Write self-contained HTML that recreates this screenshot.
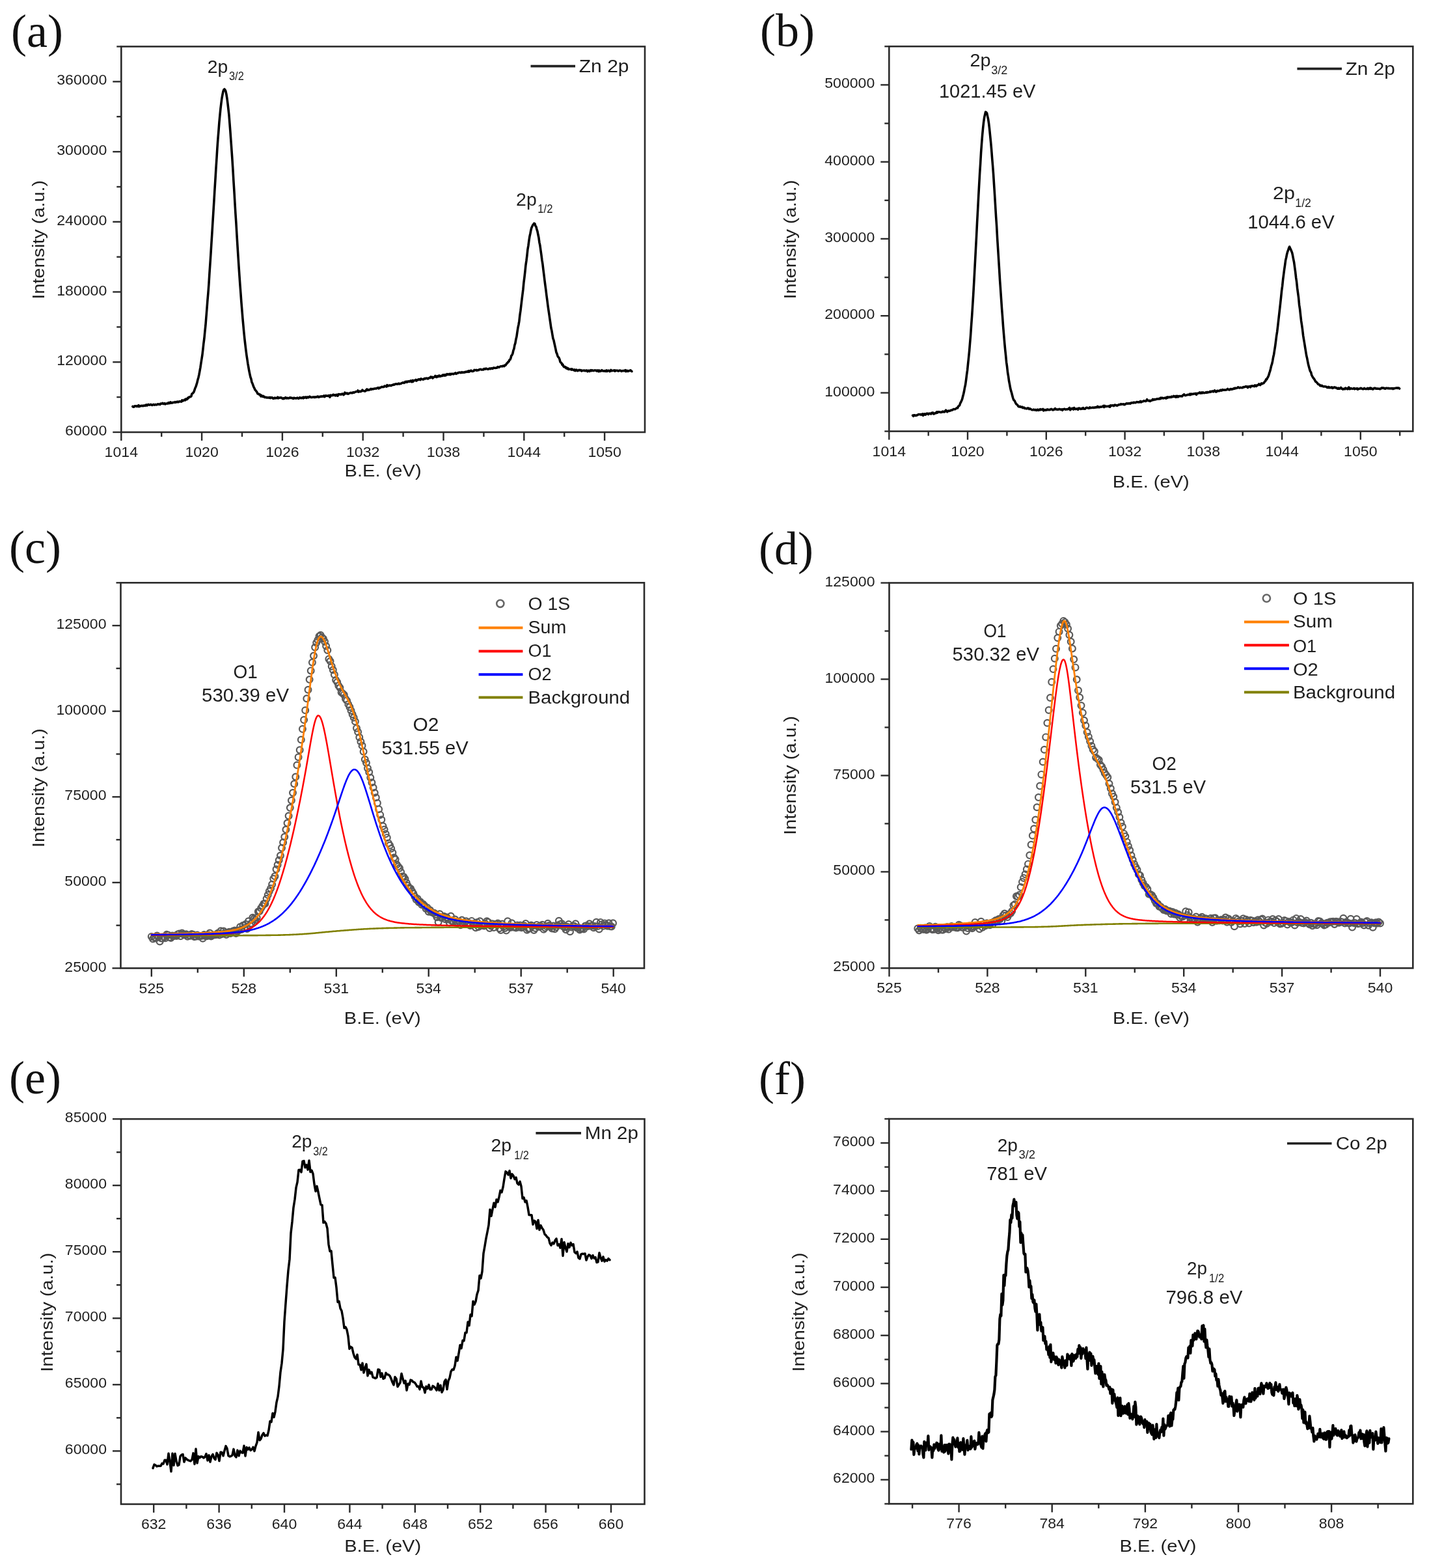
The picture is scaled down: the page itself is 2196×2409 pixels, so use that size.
<!DOCTYPE html>
<html><head><meta charset="utf-8"><style>
html,body{margin:0;padding:0;background:#fff;}
svg{display:block;}
text{font-family:"Liberation Sans",Arial,sans-serif;}
text.serif{font-family:"Liberation Serif","Times New Roman",serif;}
</style></head><body>
<svg xmlns="http://www.w3.org/2000/svg" width="2196" height="2409" viewBox="0 0 2196 2409">
<rect width="2196" height="2409" fill="#fff"/>
<rect x="186.3" y="71.5" width="804.7" height="592.5" fill="none" stroke="#2a2a2a" stroke-width="2.6"/>
<line x1="248.2" y1="664" x2="248.2" y2="671" stroke="#2a2a2a" stroke-width="2.4"/>
<line x1="372" y1="664" x2="372" y2="671" stroke="#2a2a2a" stroke-width="2.4"/>
<line x1="495.8" y1="664" x2="495.8" y2="671" stroke="#2a2a2a" stroke-width="2.4"/>
<line x1="619.6" y1="664" x2="619.6" y2="671" stroke="#2a2a2a" stroke-width="2.4"/>
<line x1="743.4" y1="664" x2="743.4" y2="671" stroke="#2a2a2a" stroke-width="2.4"/>
<line x1="867.2" y1="664" x2="867.2" y2="671" stroke="#2a2a2a" stroke-width="2.4"/>
<line x1="186.3" y1="664" x2="186.3" y2="677" stroke="#2a2a2a" stroke-width="2.4"/>
<text x="186.3" y="702" font-size="22" text-anchor="middle" textLength="51.4" lengthAdjust="spacingAndGlyphs" fill="#1e1e1e">1014</text>
<line x1="310.1" y1="664" x2="310.1" y2="677" stroke="#2a2a2a" stroke-width="2.4"/>
<text x="310.1" y="702" font-size="22" text-anchor="middle" textLength="51.4" lengthAdjust="spacingAndGlyphs" fill="#1e1e1e">1020</text>
<line x1="433.9" y1="664" x2="433.9" y2="677" stroke="#2a2a2a" stroke-width="2.4"/>
<text x="433.9" y="702" font-size="22" text-anchor="middle" textLength="51.4" lengthAdjust="spacingAndGlyphs" fill="#1e1e1e">1026</text>
<line x1="557.7" y1="664" x2="557.7" y2="677" stroke="#2a2a2a" stroke-width="2.4"/>
<text x="557.7" y="702" font-size="22" text-anchor="middle" textLength="51.4" lengthAdjust="spacingAndGlyphs" fill="#1e1e1e">1032</text>
<line x1="681.5" y1="664" x2="681.5" y2="677" stroke="#2a2a2a" stroke-width="2.4"/>
<text x="681.5" y="702" font-size="22" text-anchor="middle" textLength="51.4" lengthAdjust="spacingAndGlyphs" fill="#1e1e1e">1038</text>
<line x1="805.3" y1="664" x2="805.3" y2="677" stroke="#2a2a2a" stroke-width="2.4"/>
<text x="805.3" y="702" font-size="22" text-anchor="middle" textLength="51.4" lengthAdjust="spacingAndGlyphs" fill="#1e1e1e">1044</text>
<line x1="929.1" y1="664" x2="929.1" y2="677" stroke="#2a2a2a" stroke-width="2.4"/>
<text x="929.1" y="702" font-size="22" text-anchor="middle" textLength="51.4" lengthAdjust="spacingAndGlyphs" fill="#1e1e1e">1050</text>
<line x1="179.3" y1="610.1" x2="186.3" y2="610.1" stroke="#2a2a2a" stroke-width="2.4"/>
<line x1="179.3" y1="502.4" x2="186.3" y2="502.4" stroke="#2a2a2a" stroke-width="2.4"/>
<line x1="179.3" y1="394.7" x2="186.3" y2="394.7" stroke="#2a2a2a" stroke-width="2.4"/>
<line x1="179.3" y1="287" x2="186.3" y2="287" stroke="#2a2a2a" stroke-width="2.4"/>
<line x1="179.3" y1="179.2" x2="186.3" y2="179.2" stroke="#2a2a2a" stroke-width="2.4"/>
<line x1="179.3" y1="71.5" x2="186.3" y2="71.5" stroke="#2a2a2a" stroke-width="2.4"/>
<line x1="173.3" y1="664" x2="186.3" y2="664" stroke="#2a2a2a" stroke-width="2.4"/>
<text x="164.3" y="669" font-size="22" text-anchor="end" textLength="64.2" lengthAdjust="spacingAndGlyphs" fill="#1e1e1e">60000</text>
<line x1="173.3" y1="556.3" x2="186.3" y2="556.3" stroke="#2a2a2a" stroke-width="2.4"/>
<text x="164.3" y="561.3" font-size="22" text-anchor="end" textLength="77.1" lengthAdjust="spacingAndGlyphs" fill="#1e1e1e">120000</text>
<line x1="173.3" y1="448.5" x2="186.3" y2="448.5" stroke="#2a2a2a" stroke-width="2.4"/>
<text x="164.3" y="453.5" font-size="22" text-anchor="end" textLength="77.1" lengthAdjust="spacingAndGlyphs" fill="#1e1e1e">180000</text>
<line x1="173.3" y1="340.8" x2="186.3" y2="340.8" stroke="#2a2a2a" stroke-width="2.4"/>
<text x="164.3" y="345.8" font-size="22" text-anchor="end" textLength="77.1" lengthAdjust="spacingAndGlyphs" fill="#1e1e1e">240000</text>
<line x1="173.3" y1="233.1" x2="186.3" y2="233.1" stroke="#2a2a2a" stroke-width="2.4"/>
<text x="164.3" y="238.1" font-size="22" text-anchor="end" textLength="77.1" lengthAdjust="spacingAndGlyphs" fill="#1e1e1e">300000</text>
<line x1="173.3" y1="125.4" x2="186.3" y2="125.4" stroke="#2a2a2a" stroke-width="2.4"/>
<text x="164.3" y="130.4" font-size="22" text-anchor="end" textLength="77.1" lengthAdjust="spacingAndGlyphs" fill="#1e1e1e">360000</text>
<polyline points="203.9,624.5 204.9,625.2 205.9,625.1 206.9,623.9 207.9,624.0 208.9,623.8 209.9,624.4 210.9,623.9 211.9,624.3 212.9,622.7 213.9,624.6 214.9,623.6 215.9,624.0 216.9,623.4 217.9,623.2 218.9,623.6 219.9,623.7 220.9,623.0 221.9,623.0 222.9,623.4 223.9,622.4 224.9,621.9 225.9,623.0 226.9,622.2 227.9,621.4 228.9,622.0 229.9,622.1 230.9,621.6 231.9,621.3 232.9,622.1 233.9,622.5 234.9,621.8 235.9,621.4 236.9,622.0 237.9,622.1 238.9,621.4 239.9,621.8 240.9,622.0 241.9,621.1 242.9,620.7 243.9,621.3 244.9,621.1 245.9,621.5 246.9,620.0 247.9,620.2 248.9,620.0 249.9,619.4 250.9,620.4 251.9,620.5 252.9,619.6 253.9,620.8 254.9,620.3 255.9,620.1 256.9,619.9 257.9,620.1 258.9,618.6 259.9,619.6 260.9,619.5 261.9,617.9 262.9,619.1 263.9,618.6 264.9,619.0 265.9,618.2 266.9,618.3 267.9,618.3 268.9,617.5 269.9,618.2 270.9,617.6 271.9,617.8 272.9,617.0 273.9,617.8 274.9,617.3 275.9,616.6 276.9,616.9 277.9,617.0 278.9,617.1 279.9,614.8 280.9,616.0 281.9,615.5 282.9,614.8 283.9,613.9 284.9,614.8 285.9,612.9 286.9,613.5 287.9,613.4 288.9,611.0 289.9,611.1 290.9,609.7 291.9,609.7 292.9,609.5 293.9,608.7 294.9,605.1 295.9,604.3 296.9,603.5 297.9,602.1 298.9,599.3 299.9,596.3 300.9,594.3 301.9,591.1 302.9,587.7 303.9,583.6 304.9,580.2 305.9,575.6 306.9,570.3 307.9,564.7 308.9,557.9 309.9,551.7 310.9,545.4 311.9,536.7 312.9,527.4 313.9,519.8 314.9,509.4 315.9,499.8 316.9,487.2 317.9,474.9 318.9,461.7 319.9,450.1 320.9,436.9 321.9,420.4 322.9,405.5 323.9,390.7 324.9,374.0 325.9,358.1 326.9,341.6 327.9,325.3 328.9,309.2 329.9,292.0 330.9,276.2 331.9,259.3 332.9,244.1 333.9,227.6 334.9,213.7 335.9,201.5 336.9,188.2 337.9,177.5 338.9,167.3 339.9,158.9 340.9,151.3 341.9,145.6 342.9,140.7 343.9,137.9 344.9,137.0 345.9,138.1 346.9,140.3 347.9,144.9 348.9,151.1 349.9,158.7 350.9,167.2 351.9,176.4 352.9,189.0 353.9,201.8 354.9,215.9 355.9,230.0 356.9,244.4 357.9,260.1 358.9,277.9 359.9,293.7 360.9,311.0 361.9,328.0 362.9,342.9 363.9,360.2 364.9,376.6 365.9,392.6 366.9,408.1 367.9,423.0 368.9,437.5 369.9,450.3 370.9,464.4 371.9,476.6 372.9,489.0 373.9,499.8 374.9,510.9 375.9,520.7 376.9,529.5 377.9,537.8 378.9,545.4 379.9,552.1 380.9,558.7 381.9,564.4 382.9,570.2 383.9,574.8 384.9,579.4 385.9,582.2 386.9,586.9 387.9,589.0 388.9,591.8 389.9,594.5 390.9,596.4 391.9,598.8 392.9,599.9 393.9,601.1 394.9,602.5 395.9,604.9 396.9,605.1 397.9,605.2 398.9,606.6 399.9,606.3 400.9,608.9 401.9,607.4 402.9,609.0 403.9,609.4 404.9,608.5 405.9,609.8 406.9,610.5 407.9,610.4 408.9,610.4 409.9,611.0 410.9,610.7 411.9,610.9 412.9,610.7 413.9,611.3 414.9,610.5 415.9,611.6 416.9,610.9 417.9,610.6 418.9,611.5 419.9,612.4 420.9,612.0 421.9,611.2 422.9,611.9 423.9,611.3 424.9,611.5 425.9,611.7 426.9,610.2 427.9,611.8 428.9,611.1 429.9,611.3 430.9,610.8 431.9,610.8 432.9,611.2 433.9,612.2 434.9,612.7 435.9,611.7 436.9,612.4 437.9,611.6 438.9,610.6 439.9,611.8 440.9,612.0 441.9,611.4 442.9,611.8 443.9,612.0 444.9,611.1 445.9,610.7 446.9,611.5 447.9,611.4 448.9,611.3 449.9,612.1 450.9,612.5 451.9,611.2 452.9,611.8 453.9,611.9 454.9,611.8 455.9,611.9 456.9,611.0 457.9,611.7 458.9,612.4 459.9,611.6 460.9,610.7 461.9,611.4 462.9,611.8 463.9,611.2 464.9,610.6 465.9,611.8 466.9,610.1 467.9,611.1 468.9,610.7 469.9,610.0 470.9,611.4 471.9,610.8 472.9,609.8 473.9,610.8 474.9,610.2 475.9,609.2 476.9,609.9 477.9,610.4 478.9,610.6 479.9,610.2 480.9,610.1 481.9,610.3 482.9,609.8 483.9,610.6 484.9,609.9 485.9,610.0 486.9,610.0 487.9,609.0 488.9,609.2 489.9,610.4 490.9,609.7 491.9,609.2 492.9,609.5 493.9,608.9 494.9,609.3 495.9,608.7 496.9,609.1 497.9,607.9 498.9,609.6 499.9,608.4 500.9,607.6 501.9,608.3 502.9,608.2 503.9,608.4 504.9,607.5 505.9,608.3 506.9,610.1 507.9,607.1 508.9,607.9 509.9,607.4 510.9,607.6 511.9,606.2 512.9,606.5 513.9,607.4 514.9,606.9 515.9,607.8 516.9,606.3 517.9,606.7 518.9,608.2 519.9,605.8 520.9,605.6 521.9,606.0 522.9,605.8 523.9,606.2 524.9,605.6 525.9,605.0 526.9,605.4 527.9,606.7 528.9,605.7 529.9,603.2 530.9,604.6 531.9,604.0 532.9,604.7 533.9,604.1 534.9,605.2 535.9,604.5 536.9,604.3 537.9,603.7 538.9,603.4 539.9,603.5 540.9,603.9 541.9,603.3 542.9,602.6 543.9,603.4 544.9,602.6 545.9,602.3 546.9,601.7 547.9,601.7 548.9,601.5 549.9,600.0 550.9,602.2 551.9,601.7 552.9,601.1 553.9,601.7 554.9,601.2 555.9,601.0 556.9,599.1 557.9,600.3 558.9,600.5 559.9,601.0 560.9,601.0 561.9,600.6 562.9,598.8 563.9,598.0 564.9,599.5 565.9,599.0 566.9,599.4 567.9,598.5 568.9,598.5 569.9,597.3 570.9,598.3 571.9,597.5 572.9,597.8 573.9,597.7 574.9,597.1 575.9,597.2 576.9,596.8 577.9,597.1 578.9,596.7 579.9,595.9 580.9,595.6 581.9,596.8 582.9,595.5 583.9,596.0 584.9,595.4 585.9,594.6 586.9,594.3 587.9,594.6 588.9,594.5 589.9,594.5 590.9,593.1 591.9,593.3 592.9,593.4 593.9,594.2 594.9,591.6 595.9,593.1 596.9,592.3 597.9,592.7 598.9,591.9 599.9,592.2 600.9,592.7 601.9,591.8 602.9,591.6 603.9,591.4 604.9,590.5 605.9,591.1 606.9,590.4 607.9,589.9 608.9,590.1 609.9,589.8 610.9,590.2 611.9,589.5 612.9,589.0 613.9,590.0 614.9,589.5 615.9,589.5 616.9,588.9 617.9,588.3 618.9,587.9 619.9,587.8 620.9,588.4 621.9,587.7 622.9,586.5 623.9,587.2 624.9,586.2 625.9,587.0 626.9,585.9 627.9,585.7 628.9,586.4 629.9,586.0 630.9,584.9 631.9,586.2 632.9,586.8 633.9,584.4 634.9,586.2 635.9,584.5 636.9,584.5 637.9,584.5 638.9,583.5 639.9,585.0 640.9,584.3 641.9,583.4 642.9,583.5 643.9,582.5 644.9,583.0 645.9,583.6 646.9,581.9 647.9,582.4 648.9,582.6 649.9,583.0 650.9,582.9 651.9,581.7 652.9,581.3 653.9,581.9 654.9,581.2 655.9,581.0 656.9,581.7 657.9,581.9 658.9,580.8 659.9,580.4 660.9,580.6 661.9,579.0 662.9,579.9 663.9,579.1 664.9,581.0 665.9,579.8 666.9,579.3 667.9,578.9 668.9,577.4 669.9,579.1 670.9,579.5 671.9,577.9 672.9,578.6 673.9,578.4 674.9,576.9 675.9,578.2 676.9,578.3 677.9,577.5 678.9,577.1 679.9,577.5 680.9,575.9 681.9,576.7 682.9,577.1 683.9,575.6 684.9,576.8 685.9,575.8 686.9,574.6 687.9,575.6 688.9,574.9 689.9,575.5 690.9,574.5 691.9,575.7 692.9,574.4 693.9,574.9 694.9,574.2 695.9,574.2 696.9,574.9 697.9,574.2 698.9,573.7 699.9,573.0 700.9,574.3 701.9,573.9 702.9,573.1 703.9,573.2 704.9,572.3 705.9,572.2 706.9,572.1 707.9,572.7 708.9,572.5 709.9,571.7 710.9,572.4 711.9,572.3 712.9,571.8 713.9,572.2 714.9,571.2 715.9,571.2 716.9,571.4 717.9,570.9 718.9,571.3 719.9,569.9 720.9,571.3 721.9,569.9 722.9,570.1 723.9,569.2 724.9,570.3 725.9,570.5 726.9,570.2 727.9,570.0 728.9,568.4 729.9,568.7 730.9,568.8 731.9,568.3 732.9,569.4 733.9,568.7 734.9,568.5 735.9,568.6 736.9,567.6 737.9,567.5 738.9,567.4 739.9,568.1 740.9,567.9 741.9,567.9 742.9,568.0 743.9,566.5 744.9,566.8 745.9,567.1 746.9,566.1 747.9,566.4 748.9,567.2 749.9,567.2 750.9,567.0 751.9,566.3 752.9,566.0 753.9,566.7 754.9,565.7 755.9,566.0 756.9,566.5 757.9,565.3 758.9,565.1 759.9,565.3 760.9,565.5 761.9,565.3 762.9,565.0 763.9,565.1 764.9,563.6 765.9,563.9 766.9,564.4 767.9,563.5 768.9,563.0 769.9,562.8 770.9,562.7 771.9,562.9 772.9,562.0 773.9,562.3 774.9,562.7 775.9,561.0 776.9,561.2 777.9,559.8 778.9,558.1 779.9,557.6 780.9,555.9 781.9,555.6 782.9,552.9 783.9,552.6 784.9,550.2 785.9,546.3 786.9,545.4 787.9,543.0 788.9,538.4 789.9,535.8 790.9,530.2 791.9,527.1 792.9,521.2 793.9,517.3 794.9,510.3 795.9,503.7 796.9,499.1 797.9,493.3 798.9,484.3 799.9,477.5 800.9,469.1 801.9,460.6 802.9,452.6 803.9,444.5 804.9,434.0 805.9,426.2 806.9,417.2 807.9,407.5 808.9,400.8 809.9,392.8 810.9,383.2 811.9,377.5 812.9,369.7 813.9,363.4 814.9,358.9 815.9,353.6 816.9,349.8 817.9,347.7 818.9,345.6 819.9,344.4 820.9,343.1 821.9,343.8 822.9,347.2 823.9,348.4 824.9,352.2 825.9,355.4 826.9,360.5 827.9,365.0 828.9,372.5 829.9,377.2 830.9,384.4 831.9,391.4 832.9,399.5 833.9,405.6 834.9,414.2 835.9,422.0 836.9,430.4 837.9,438.3 838.9,445.6 839.9,453.9 840.9,461.2 841.9,469.2 842.9,476.2 843.9,482.9 844.9,490.0 845.9,496.7 846.9,504.0 847.9,508.2 848.9,514.2 849.9,520.1 850.9,522.7 851.9,527.4 852.9,531.9 853.9,536.4 854.9,541.4 855.9,543.4 856.9,546.8 857.9,548.6 858.9,549.6 859.9,551.9 860.9,555.8 861.9,557.0 862.9,557.7 863.9,560.5 864.9,560.1 865.9,562.8 866.9,563.9 867.9,563.4 868.9,563.9 869.9,565.7 870.9,565.0 871.9,566.7 872.9,565.8 873.9,567.4 874.9,567.3 875.9,567.2 876.9,567.1 877.9,568.0 878.9,566.9 879.9,568.0 880.9,568.1 881.9,568.8 882.9,567.8 883.9,569.6 884.9,568.5 885.9,568.0 886.9,569.6 887.9,569.8 888.9,568.8 889.9,568.4 890.9,569.0 891.9,568.6 892.9,568.8 893.9,570.0 894.9,569.3 895.9,569.2 896.9,569.3 897.9,569.1 898.9,569.7 899.9,569.7 900.9,569.0 901.9,569.3 902.9,570.7 903.9,569.5 904.9,569.2 905.9,570.5 906.9,569.3 907.9,568.7 908.9,569.7 909.9,568.8 910.9,569.1 911.9,569.6 912.9,569.3 913.9,568.9 914.9,569.1 915.9,569.1 916.9,570.1 917.9,569.0 918.9,569.1 919.9,570.7 920.9,569.1 921.9,570.4 922.9,570.3 923.9,569.4 924.9,568.7 925.9,569.8 926.9,569.9 927.9,570.1 928.9,569.6 929.9,570.3 930.9,570.4 931.9,568.9 932.9,570.4 933.9,569.7 934.9,569.2 935.9,569.4 936.9,570.7 937.9,570.2 938.9,568.5 939.9,569.7 940.9,569.5 941.9,569.5 942.9,569.3 943.9,568.8 944.9,570.2 945.9,569.1 946.9,569.4 947.9,569.3 948.9,569.2 949.9,570.1 950.9,569.9 951.9,569.3 952.9,569.1 953.9,569.4 954.9,570.3 955.9,569.8 956.9,569.8 957.9,569.5 958.9,569.5 959.9,569.8 960.9,568.6 961.9,570.7 962.9,569.2 963.9,569.4 964.9,570.5 965.9,569.9 966.9,569.8 967.9,569.4 968.9,568.8 969.9,569.9 970.9,570.5" fill="none" stroke="#000" stroke-width="3.6" stroke-linejoin="round" stroke-linecap="round"/>
<text x="17" y="72" font-size="72" class="serif" fill="#111">(a)</text>
<text x="588.6" y="732" font-size="26" text-anchor="middle" textLength="118" lengthAdjust="spacingAndGlyphs" fill="#1e1e1e">B.E. (eV)</text>
<text transform="translate(68,368.3) rotate(-90)" font-size="26" text-anchor="middle" textLength="183" lengthAdjust="spacingAndGlyphs" fill="#1e1e1e">Intensity (a.u.)</text>
<line x1="815.5" y1="101.6" x2="884" y2="101.6" stroke="#222" stroke-width="3.6"/>
<text x="889.8" y="111.4" font-size="27" textLength="76.7" lengthAdjust="spacingAndGlyphs" fill="#1e1e1e">Zn 2p</text>
<text x="318.8" y="111.5" font-size="28" textLength="31.5" lengthAdjust="spacingAndGlyphs" fill="#1e1e1e">2p</text>
<text x="352" y="123" font-size="18" textLength="22.8" lengthAdjust="spacingAndGlyphs" fill="#1e1e1e">3/2</text>
<text x="793.1" y="315.5" font-size="28" textLength="31.6" lengthAdjust="spacingAndGlyphs" fill="#1e1e1e">2p</text>
<text x="826.3" y="327" font-size="18" textLength="23.1" lengthAdjust="spacingAndGlyphs" fill="#1e1e1e">1/2</text>
<rect x="1366.3" y="71.3" width="805" height="591.3" fill="none" stroke="#2a2a2a" stroke-width="2.6"/>
<line x1="1426.7" y1="662.6" x2="1426.7" y2="669.6" stroke="#2a2a2a" stroke-width="2.4"/>
<line x1="1547.4" y1="662.6" x2="1547.4" y2="669.6" stroke="#2a2a2a" stroke-width="2.4"/>
<line x1="1668.2" y1="662.6" x2="1668.2" y2="669.6" stroke="#2a2a2a" stroke-width="2.4"/>
<line x1="1788.9" y1="662.6" x2="1788.9" y2="669.6" stroke="#2a2a2a" stroke-width="2.4"/>
<line x1="1909.7" y1="662.6" x2="1909.7" y2="669.6" stroke="#2a2a2a" stroke-width="2.4"/>
<line x1="2030.4" y1="662.6" x2="2030.4" y2="669.6" stroke="#2a2a2a" stroke-width="2.4"/>
<line x1="2151.2" y1="662.6" x2="2151.2" y2="669.6" stroke="#2a2a2a" stroke-width="2.4"/>
<line x1="1366.3" y1="662.6" x2="1366.3" y2="675.6" stroke="#2a2a2a" stroke-width="2.4"/>
<text x="1366.3" y="700.6" font-size="22" text-anchor="middle" textLength="51.4" lengthAdjust="spacingAndGlyphs" fill="#1e1e1e">1014</text>
<line x1="1487" y1="662.6" x2="1487" y2="675.6" stroke="#2a2a2a" stroke-width="2.4"/>
<text x="1487" y="700.6" font-size="22" text-anchor="middle" textLength="51.4" lengthAdjust="spacingAndGlyphs" fill="#1e1e1e">1020</text>
<line x1="1607.8" y1="662.6" x2="1607.8" y2="675.6" stroke="#2a2a2a" stroke-width="2.4"/>
<text x="1607.8" y="700.6" font-size="22" text-anchor="middle" textLength="51.4" lengthAdjust="spacingAndGlyphs" fill="#1e1e1e">1026</text>
<line x1="1728.6" y1="662.6" x2="1728.6" y2="675.6" stroke="#2a2a2a" stroke-width="2.4"/>
<text x="1728.6" y="700.6" font-size="22" text-anchor="middle" textLength="51.4" lengthAdjust="spacingAndGlyphs" fill="#1e1e1e">1032</text>
<line x1="1849.3" y1="662.6" x2="1849.3" y2="675.6" stroke="#2a2a2a" stroke-width="2.4"/>
<text x="1849.3" y="700.6" font-size="22" text-anchor="middle" textLength="51.4" lengthAdjust="spacingAndGlyphs" fill="#1e1e1e">1038</text>
<line x1="1970.1" y1="662.6" x2="1970.1" y2="675.6" stroke="#2a2a2a" stroke-width="2.4"/>
<text x="1970.1" y="700.6" font-size="22" text-anchor="middle" textLength="51.4" lengthAdjust="spacingAndGlyphs" fill="#1e1e1e">1044</text>
<line x1="2090.8" y1="662.6" x2="2090.8" y2="675.6" stroke="#2a2a2a" stroke-width="2.4"/>
<text x="2090.8" y="700.6" font-size="22" text-anchor="middle" textLength="51.4" lengthAdjust="spacingAndGlyphs" fill="#1e1e1e">1050</text>
<line x1="1359.3" y1="662.6" x2="1366.3" y2="662.6" stroke="#2a2a2a" stroke-width="2.4"/>
<line x1="1359.3" y1="544.3" x2="1366.3" y2="544.3" stroke="#2a2a2a" stroke-width="2.4"/>
<line x1="1359.3" y1="426.1" x2="1366.3" y2="426.1" stroke="#2a2a2a" stroke-width="2.4"/>
<line x1="1359.3" y1="307.8" x2="1366.3" y2="307.8" stroke="#2a2a2a" stroke-width="2.4"/>
<line x1="1359.3" y1="189.6" x2="1366.3" y2="189.6" stroke="#2a2a2a" stroke-width="2.4"/>
<line x1="1359.3" y1="71.3" x2="1366.3" y2="71.3" stroke="#2a2a2a" stroke-width="2.4"/>
<line x1="1353.3" y1="603.5" x2="1366.3" y2="603.5" stroke="#2a2a2a" stroke-width="2.4"/>
<text x="1344.3" y="608.5" font-size="22" text-anchor="end" textLength="77.1" lengthAdjust="spacingAndGlyphs" fill="#1e1e1e">100000</text>
<line x1="1353.3" y1="485.2" x2="1366.3" y2="485.2" stroke="#2a2a2a" stroke-width="2.4"/>
<text x="1344.3" y="490.2" font-size="22" text-anchor="end" textLength="77.1" lengthAdjust="spacingAndGlyphs" fill="#1e1e1e">200000</text>
<line x1="1353.3" y1="366.9" x2="1366.3" y2="366.9" stroke="#2a2a2a" stroke-width="2.4"/>
<text x="1344.3" y="371.9" font-size="22" text-anchor="end" textLength="77.1" lengthAdjust="spacingAndGlyphs" fill="#1e1e1e">300000</text>
<line x1="1353.3" y1="248.7" x2="1366.3" y2="248.7" stroke="#2a2a2a" stroke-width="2.4"/>
<text x="1344.3" y="253.7" font-size="22" text-anchor="end" textLength="77.1" lengthAdjust="spacingAndGlyphs" fill="#1e1e1e">400000</text>
<line x1="1353.3" y1="130.4" x2="1366.3" y2="130.4" stroke="#2a2a2a" stroke-width="2.4"/>
<text x="1344.3" y="135.4" font-size="22" text-anchor="end" textLength="77.1" lengthAdjust="spacingAndGlyphs" fill="#1e1e1e">500000</text>
<polyline points="1402.6,638.2 1403.6,639.4 1404.6,637.8 1405.6,637.9 1406.6,638.6 1407.6,638.1 1408.6,638.4 1409.6,637.5 1410.6,637.2 1411.6,636.6 1412.6,636.8 1413.6,636.8 1414.6,636.5 1415.6,637.4 1416.6,636.7 1417.6,635.8 1418.6,638.3 1419.6,636.2 1420.6,635.8 1421.6,637.2 1422.6,637.0 1423.6,635.5 1424.6,635.2 1425.6,635.3 1426.6,636.5 1427.6,635.5 1428.6,635.1 1429.6,635.4 1430.6,636.0 1431.6,634.3 1432.6,634.8 1433.6,634.0 1434.6,636.0 1435.6,635.7 1436.6,635.0 1437.6,634.2 1438.6,634.6 1439.6,632.8 1440.6,634.1 1441.6,632.9 1442.6,632.8 1443.6,633.0 1444.6,633.1 1445.6,633.5 1446.6,633.4 1447.6,633.0 1448.6,632.1 1449.6,632.9 1450.6,632.3 1451.6,632.9 1452.6,631.5 1453.6,630.2 1454.6,631.4 1455.6,632.8 1456.6,631.7 1457.6,631.1 1458.6,631.5 1459.6,631.1 1460.6,630.9 1461.6,630.1 1462.6,630.2 1463.6,629.9 1464.6,629.1 1465.6,628.5 1466.6,628.8 1467.6,628.8 1468.6,628.1 1469.6,627.3 1470.6,626.6 1471.6,626.9 1472.6,624.4 1473.6,623.6 1474.6,622.7 1475.6,619.7 1476.6,617.8 1477.6,615.8 1478.6,613.4 1479.6,609.3 1480.6,605.5 1481.6,601.0 1482.6,595.3 1483.6,591.0 1484.6,583.8 1485.6,575.8 1486.6,568.7 1487.6,558.8 1488.6,549.4 1489.6,539.2 1490.6,526.8 1491.6,515.2 1492.6,499.9 1493.6,486.2 1494.6,470.6 1495.6,454.6 1496.6,436.9 1497.6,418.4 1498.6,399.7 1499.6,380.6 1500.6,361.9 1501.6,341.4 1502.6,322.8 1503.6,303.4 1504.6,285.1 1505.6,267.0 1506.6,251.6 1507.6,234.2 1508.6,220.4 1509.6,207.7 1510.6,196.9 1511.6,187.7 1512.6,180.7 1513.6,176.1 1514.6,172.0 1515.6,172.6 1516.6,173.8 1517.6,178.5 1518.6,182.9 1519.6,189.7 1520.6,198.2 1521.6,208.3 1522.6,218.2 1523.6,229.5 1524.6,242.7 1525.6,254.6 1526.6,268.0 1527.6,283.9 1528.6,299.3 1529.6,316.1 1530.6,332.8 1531.6,347.2 1532.6,366.0 1533.6,382.0 1534.6,397.9 1535.6,413.9 1536.6,431.0 1537.6,445.0 1538.6,459.7 1539.6,474.5 1540.6,487.4 1541.6,501.6 1542.6,513.6 1543.6,525.5 1544.6,536.4 1545.6,545.7 1546.6,556.5 1547.6,563.6 1548.6,572.6 1549.6,578.2 1550.6,585.7 1551.6,590.7 1552.6,596.3 1553.6,600.4 1554.6,603.5 1555.6,607.5 1556.6,611.2 1557.6,614.2 1558.6,615.1 1559.6,616.6 1560.6,618.9 1561.6,620.6 1562.6,621.4 1563.6,622.2 1564.6,624.0 1565.6,624.7 1566.6,625.0 1567.6,624.4 1568.6,625.4 1569.6,625.5 1570.6,625.0 1571.6,626.6 1572.6,626.3 1573.6,626.1 1574.6,627.4 1575.6,627.2 1576.6,627.5 1577.6,627.9 1578.6,627.8 1579.6,626.8 1580.6,627.5 1581.6,628.5 1582.6,627.7 1583.6,628.4 1584.6,628.8 1585.6,629.6 1586.6,629.7 1587.6,629.6 1588.6,629.1 1589.6,629.9 1590.6,629.8 1591.6,629.4 1592.6,630.4 1593.6,629.9 1594.6,629.1 1595.6,630.4 1596.6,629.5 1597.6,630.0 1598.6,628.7 1599.6,629.6 1600.6,629.1 1601.6,629.0 1602.6,628.5 1603.6,630.9 1604.6,629.5 1605.6,629.8 1606.6,630.3 1607.6,629.5 1608.6,629.9 1609.6,628.8 1610.6,629.7 1611.6,629.3 1612.6,629.8 1613.6,629.6 1614.6,628.7 1615.6,628.4 1616.6,628.8 1617.6,629.9 1618.6,629.6 1619.6,629.6 1620.6,628.1 1621.6,627.7 1622.6,628.9 1623.6,629.1 1624.6,628.9 1625.6,629.4 1626.6,629.1 1627.6,628.4 1628.6,628.6 1629.6,629.1 1630.6,629.1 1631.6,628.9 1632.6,630.3 1633.6,628.7 1634.6,628.9 1635.6,628.2 1636.6,628.6 1637.6,629.1 1638.6,629.0 1639.6,628.6 1640.6,628.9 1641.6,628.6 1642.6,627.4 1643.6,626.5 1644.6,629.8 1645.6,628.9 1646.6,628.3 1647.6,627.3 1648.6,627.5 1649.6,629.0 1650.6,626.5 1651.6,627.9 1652.6,628.6 1653.6,628.1 1654.6,628.4 1655.6,627.9 1656.6,629.3 1657.6,627.2 1658.6,627.0 1659.6,627.9 1660.6,628.5 1661.6,627.6 1662.6,628.2 1663.6,627.2 1664.6,626.7 1665.6,628.2 1666.6,628.3 1667.6,628.2 1668.6,626.9 1669.6,626.4 1670.6,626.3 1671.6,626.8 1672.6,627.2 1673.6,627.1 1674.6,625.8 1675.6,626.7 1676.6,626.5 1677.6,626.5 1678.6,626.3 1679.6,626.1 1680.6,626.5 1681.6,626.1 1682.6,626.1 1683.6,625.5 1684.6,626.0 1685.6,625.6 1686.6,624.3 1687.6,625.8 1688.6,625.2 1689.6,625.8 1690.6,625.1 1691.6,625.0 1692.6,625.1 1693.6,624.8 1694.6,624.5 1695.6,623.5 1696.6,625.6 1697.6,623.4 1698.6,624.1 1699.6,624.6 1700.6,624.3 1701.6,624.3 1702.6,624.3 1703.6,624.5 1704.6,623.8 1705.6,625.2 1706.6,622.8 1707.6,623.4 1708.6,622.9 1709.6,622.7 1710.6,623.1 1711.6,623.6 1712.6,622.2 1713.6,622.1 1714.6,622.8 1715.6,622.6 1716.6,623.3 1717.6,622.7 1718.6,622.1 1719.6,621.6 1720.6,621.8 1721.6,621.5 1722.6,620.6 1723.6,621.3 1724.6,621.1 1725.6,620.9 1726.6,620.7 1727.6,621.8 1728.6,621.1 1729.6,621.1 1730.6,620.1 1731.6,619.7 1732.6,620.0 1733.6,620.2 1734.6,619.7 1735.6,619.6 1736.6,620.2 1737.6,619.6 1738.6,618.7 1739.6,618.9 1740.6,618.6 1741.6,619.0 1742.6,618.0 1743.6,618.5 1744.6,618.8 1745.6,618.3 1746.6,617.6 1747.6,617.6 1748.6,617.9 1749.6,617.9 1750.6,618.0 1751.6,617.2 1752.6,616.4 1753.6,617.9 1754.6,617.0 1755.6,616.9 1756.6,616.7 1757.6,615.7 1758.6,616.0 1759.6,616.2 1760.6,616.5 1761.6,615.8 1762.6,613.7 1763.6,615.3 1764.6,615.5 1765.6,615.9 1766.6,615.4 1767.6,616.3 1768.6,615.5 1769.6,615.3 1770.6,614.9 1771.6,613.3 1772.6,614.5 1773.6,614.2 1774.6,613.4 1775.6,613.9 1776.6,613.6 1777.6,612.9 1778.6,613.0 1779.6,612.7 1780.6,612.9 1781.6,612.3 1782.6,612.8 1783.6,611.2 1784.6,612.0 1785.6,611.0 1786.6,611.6 1787.6,612.0 1788.6,611.6 1789.6,611.4 1790.6,611.4 1791.6,612.1 1792.6,610.4 1793.6,611.4 1794.6,609.9 1795.6,610.3 1796.6,610.6 1797.6,609.8 1798.6,610.3 1799.6,610.5 1800.6,609.2 1801.6,609.8 1802.6,609.5 1803.6,608.4 1804.6,609.3 1805.6,608.8 1806.6,610.0 1807.6,608.5 1808.6,609.9 1809.6,608.4 1810.6,609.8 1811.6,608.8 1812.6,608.6 1813.6,608.7 1814.6,608.6 1815.6,608.8 1816.6,608.9 1817.6,607.5 1818.6,606.8 1819.6,605.8 1820.6,607.1 1821.6,607.6 1822.6,607.3 1823.6,607.0 1824.6,606.6 1825.6,606.3 1826.6,606.4 1827.6,606.6 1828.6,605.2 1829.6,606.6 1830.6,605.1 1831.6,605.8 1832.6,605.4 1833.6,605.4 1834.6,604.9 1835.6,604.7 1836.6,605.1 1837.6,604.4 1838.6,606.4 1839.6,604.6 1840.6,604.3 1841.6,604.2 1842.6,603.8 1843.6,602.8 1844.6,604.0 1845.6,604.2 1846.6,603.0 1847.6,603.8 1848.6,602.9 1849.6,603.5 1850.6,603.6 1851.6,603.5 1852.6,603.3 1853.6,602.5 1854.6,603.3 1855.6,602.4 1856.6,602.7 1857.6,602.8 1858.6,602.1 1859.6,601.3 1860.6,602.3 1861.6,601.2 1862.6,601.2 1863.6,600.9 1864.6,601.9 1865.6,601.2 1866.6,599.8 1867.6,601.4 1868.6,602.1 1869.6,601.8 1870.6,600.2 1871.6,600.5 1872.6,600.6 1873.6,600.7 1874.6,600.0 1875.6,599.2 1876.6,600.1 1877.6,599.9 1878.6,598.6 1879.6,599.0 1880.6,599.3 1881.6,599.0 1882.6,599.1 1883.6,599.2 1884.6,598.9 1885.6,598.3 1886.6,597.4 1887.6,598.5 1888.6,598.8 1889.6,599.0 1890.6,597.7 1891.6,597.5 1892.6,598.3 1893.6,598.1 1894.6,597.3 1895.6,597.4 1896.6,596.4 1897.6,597.1 1898.6,596.1 1899.6,596.4 1900.6,596.2 1901.6,595.9 1902.6,594.8 1903.6,595.4 1904.6,596.0 1905.6,595.6 1906.6,595.3 1907.6,595.7 1908.6,595.7 1909.6,595.7 1910.6,594.5 1911.6,594.9 1912.6,594.6 1913.6,594.1 1914.6,593.6 1915.6,594.4 1916.6,593.8 1917.6,595.5 1918.6,594.0 1919.6,593.8 1920.6,593.6 1921.6,594.8 1922.6,593.0 1923.6,593.3 1924.6,592.8 1925.6,593.1 1926.6,593.0 1927.6,593.6 1928.6,591.9 1929.6,592.6 1930.6,593.4 1931.6,591.9 1932.6,591.9 1933.6,591.3 1934.6,590.0 1935.6,591.2 1936.6,591.6 1937.6,590.2 1938.6,588.9 1939.6,589.7 1940.6,589.0 1941.6,588.8 1942.6,587.9 1943.6,586.2 1944.6,585.5 1945.6,582.8 1946.6,583.0 1947.6,580.7 1948.6,579.2 1949.6,576.9 1950.6,573.4 1951.6,570.5 1952.6,566.7 1953.6,562.3 1954.6,559.3 1955.6,554.8 1956.6,549.0 1957.6,544.6 1958.6,538.2 1959.6,531.9 1960.6,524.2 1961.6,516.3 1962.6,510.0 1963.6,501.7 1964.6,492.8 1965.6,483.9 1966.6,475.0 1967.6,466.0 1968.6,456.7 1969.6,446.7 1970.6,439.5 1971.6,429.6 1972.6,422.0 1973.6,414.3 1974.6,407.5 1975.6,399.9 1976.6,395.9 1977.6,390.7 1978.6,386.9 1979.6,384.3 1980.6,381.2 1981.6,379.0 1982.6,381.4 1983.6,383.3 1984.6,385.7 1985.6,388.1 1986.6,392.7 1987.6,398.2 1988.6,402.9 1989.6,410.3 1990.6,417.5 1991.6,426.4 1992.6,433.1 1993.6,442.7 1994.6,450.2 1995.6,457.6 1996.6,468.5 1997.6,475.0 1998.6,484.2 1999.6,492.9 2000.6,499.4 2001.6,506.6 2002.6,515.2 2003.6,521.5 2004.6,527.3 2005.6,533.6 2006.6,539.8 2007.6,546.0 2008.6,550.2 2009.6,555.4 2010.6,560.3 2011.6,563.9 2012.6,567.6 2013.6,570.7 2014.6,571.9 2015.6,576.2 2016.6,578.0 2017.6,579.8 2018.6,581.1 2019.6,582.4 2020.6,584.2 2021.6,586.1 2022.6,586.6 2023.6,587.8 2024.6,588.8 2025.6,590.4 2026.6,590.5 2027.6,591.1 2028.6,592.6 2029.6,592.0 2030.6,593.0 2031.6,592.4 2032.6,593.5 2033.6,593.7 2034.6,594.0 2035.6,593.8 2036.6,593.7 2037.6,594.3 2038.6,594.4 2039.6,595.5 2040.6,595.5 2041.6,594.4 2042.6,595.6 2043.6,595.1 2044.6,595.7 2045.6,595.3 2046.6,594.8 2047.6,596.4 2048.6,596.1 2049.6,595.2 2050.6,594.9 2051.6,595.7 2052.6,595.4 2053.6,596.0 2054.6,596.6 2055.6,597.2 2056.6,596.1 2057.6,597.2 2058.6,597.1 2059.6,596.2 2060.6,595.5 2061.6,597.1 2062.6,597.0 2063.6,598.1 2064.6,597.5 2065.6,597.2 2066.6,597.8 2067.6,596.1 2068.6,596.9 2069.6,596.7 2070.6,597.9 2071.6,597.2 2072.6,595.0 2073.6,597.7 2074.6,596.4 2075.6,597.4 2076.6,596.7 2077.6,597.1 2078.6,597.4 2079.6,597.1 2080.6,596.4 2081.6,597.8 2082.6,597.2 2083.6,597.0 2084.6,597.4 2085.6,596.7 2086.6,598.2 2087.6,597.2 2088.6,597.3 2089.6,597.2 2090.6,596.5 2091.6,596.3 2092.6,597.2 2093.6,597.3 2094.6,597.8 2095.6,597.3 2096.6,596.4 2097.6,597.3 2098.6,597.5 2099.6,597.6 2100.6,597.2 2101.6,596.3 2102.6,597.7 2103.6,596.6 2104.6,597.3 2105.6,596.0 2106.6,597.4 2107.6,596.5 2108.6,597.6 2109.6,598.0 2110.6,597.6 2111.6,596.2 2112.6,596.4 2113.6,596.4 2114.6,597.3 2115.6,597.1 2116.6,597.0 2117.6,597.1 2118.6,597.2 2119.6,597.2 2120.6,597.8 2121.6,596.8 2122.6,596.9 2123.6,595.7 2124.6,596.0 2125.6,596.4 2126.6,596.0 2127.6,596.9 2128.6,597.3 2129.6,596.4 2130.6,596.4 2131.6,596.4 2132.6,596.7 2133.6,596.3 2134.6,596.9 2135.6,596.8 2136.6,596.8 2137.6,597.0 2138.6,596.6 2139.6,596.6 2140.6,597.6 2141.6,596.5 2142.6,597.0 2143.6,596.5 2144.6,596.2 2145.6,596.2 2146.6,595.9 2147.6,596.4 2148.6,596.0 2149.6,596.1 2150.6,597.1" fill="none" stroke="#000" stroke-width="3.6" stroke-linejoin="round" stroke-linecap="round"/>
<text x="1168" y="71" font-size="72" class="serif" fill="#111">(b)</text>
<text x="1768.8" y="748.5" font-size="26" text-anchor="middle" textLength="118" lengthAdjust="spacingAndGlyphs" fill="#1e1e1e">B.E. (eV)</text>
<text transform="translate(1223,368) rotate(-90)" font-size="26" text-anchor="middle" textLength="183" lengthAdjust="spacingAndGlyphs" fill="#1e1e1e">Intensity (a.u.)</text>
<line x1="1993.4" y1="105.6" x2="2062" y2="105.6" stroke="#222" stroke-width="3.6"/>
<text x="2067.7" y="114.6" font-size="27" textLength="76.1" lengthAdjust="spacingAndGlyphs" fill="#1e1e1e">Zn 2p</text>
<text x="1490.4" y="101.9" font-size="28" textLength="32" lengthAdjust="spacingAndGlyphs" fill="#1e1e1e">2p</text>
<text x="1523.2" y="113.7" font-size="18" textLength="25.1" lengthAdjust="spacingAndGlyphs" fill="#1e1e1e">3/2</text>
<text x="1442.9" y="149.9" font-size="29" textLength="148.5" lengthAdjust="spacingAndGlyphs" fill="#1e1e1e">1021.45 eV</text>
<text x="1956.1" y="305.9" font-size="28" textLength="34" lengthAdjust="spacingAndGlyphs" fill="#1e1e1e">2p</text>
<text x="1990.3" y="317.5" font-size="18" textLength="24.7" lengthAdjust="spacingAndGlyphs" fill="#1e1e1e">1/2</text>
<text x="1917.2" y="351.2" font-size="29" textLength="133.5" lengthAdjust="spacingAndGlyphs" fill="#1e1e1e">1044.6 eV</text>
<rect x="185.5" y="895.3" width="804.5" height="592.2" fill="none" stroke="#2a2a2a" stroke-width="2.6"/>
<line x1="303.8" y1="1487.5" x2="303.8" y2="1494.5" stroke="#2a2a2a" stroke-width="2.4"/>
<line x1="445.8" y1="1487.5" x2="445.8" y2="1494.5" stroke="#2a2a2a" stroke-width="2.4"/>
<line x1="587.8" y1="1487.5" x2="587.8" y2="1494.5" stroke="#2a2a2a" stroke-width="2.4"/>
<line x1="729.7" y1="1487.5" x2="729.7" y2="1494.5" stroke="#2a2a2a" stroke-width="2.4"/>
<line x1="871.7" y1="1487.5" x2="871.7" y2="1494.5" stroke="#2a2a2a" stroke-width="2.4"/>
<line x1="232.8" y1="1487.5" x2="232.8" y2="1500.5" stroke="#2a2a2a" stroke-width="2.4"/>
<text x="232.8" y="1525.5" font-size="22" text-anchor="middle" textLength="38.5" lengthAdjust="spacingAndGlyphs" fill="#1e1e1e">525</text>
<line x1="374.8" y1="1487.5" x2="374.8" y2="1500.5" stroke="#2a2a2a" stroke-width="2.4"/>
<text x="374.8" y="1525.5" font-size="22" text-anchor="middle" textLength="38.5" lengthAdjust="spacingAndGlyphs" fill="#1e1e1e">528</text>
<line x1="516.8" y1="1487.5" x2="516.8" y2="1500.5" stroke="#2a2a2a" stroke-width="2.4"/>
<text x="516.8" y="1525.5" font-size="22" text-anchor="middle" textLength="38.5" lengthAdjust="spacingAndGlyphs" fill="#1e1e1e">531</text>
<line x1="658.7" y1="1487.5" x2="658.7" y2="1500.5" stroke="#2a2a2a" stroke-width="2.4"/>
<text x="658.7" y="1525.5" font-size="22" text-anchor="middle" textLength="38.5" lengthAdjust="spacingAndGlyphs" fill="#1e1e1e">534</text>
<line x1="800.7" y1="1487.5" x2="800.7" y2="1500.5" stroke="#2a2a2a" stroke-width="2.4"/>
<text x="800.7" y="1525.5" font-size="22" text-anchor="middle" textLength="38.5" lengthAdjust="spacingAndGlyphs" fill="#1e1e1e">537</text>
<line x1="942.7" y1="1487.5" x2="942.7" y2="1500.5" stroke="#2a2a2a" stroke-width="2.4"/>
<text x="942.7" y="1525.5" font-size="22" text-anchor="middle" textLength="38.5" lengthAdjust="spacingAndGlyphs" fill="#1e1e1e">540</text>
<line x1="178.5" y1="1421.7" x2="185.5" y2="1421.7" stroke="#2a2a2a" stroke-width="2.4"/>
<line x1="178.5" y1="1290.1" x2="185.5" y2="1290.1" stroke="#2a2a2a" stroke-width="2.4"/>
<line x1="178.5" y1="1158.5" x2="185.5" y2="1158.5" stroke="#2a2a2a" stroke-width="2.4"/>
<line x1="178.5" y1="1026.9" x2="185.5" y2="1026.9" stroke="#2a2a2a" stroke-width="2.4"/>
<line x1="178.5" y1="895.3" x2="185.5" y2="895.3" stroke="#2a2a2a" stroke-width="2.4"/>
<line x1="172.5" y1="1487.5" x2="185.5" y2="1487.5" stroke="#2a2a2a" stroke-width="2.4"/>
<text x="163.5" y="1492.5" font-size="22" text-anchor="end" textLength="64.2" lengthAdjust="spacingAndGlyphs" fill="#1e1e1e">25000</text>
<line x1="172.5" y1="1355.9" x2="185.5" y2="1355.9" stroke="#2a2a2a" stroke-width="2.4"/>
<text x="163.5" y="1360.9" font-size="22" text-anchor="end" textLength="64.2" lengthAdjust="spacingAndGlyphs" fill="#1e1e1e">50000</text>
<line x1="172.5" y1="1224.3" x2="185.5" y2="1224.3" stroke="#2a2a2a" stroke-width="2.4"/>
<text x="163.5" y="1229.3" font-size="22" text-anchor="end" textLength="64.2" lengthAdjust="spacingAndGlyphs" fill="#1e1e1e">75000</text>
<line x1="172.5" y1="1092.7" x2="185.5" y2="1092.7" stroke="#2a2a2a" stroke-width="2.4"/>
<text x="163.5" y="1097.7" font-size="22" text-anchor="end" textLength="77.1" lengthAdjust="spacingAndGlyphs" fill="#1e1e1e">100000</text>
<line x1="172.5" y1="961.1" x2="185.5" y2="961.1" stroke="#2a2a2a" stroke-width="2.4"/>
<text x="163.5" y="966.1" font-size="22" text-anchor="end" textLength="77.1" lengthAdjust="spacingAndGlyphs" fill="#1e1e1e">125000</text>
<path d="M227.9,1438.9a4.9,4.9 0 1,0 9.8,0a4.9,4.9 0 1,0 -9.8,0M230.1,1442.5a4.9,4.9 0 1,0 9.8,0a4.9,4.9 0 1,0 -9.8,0M232.2,1440.0a4.9,4.9 0 1,0 9.8,0a4.9,4.9 0 1,0 -9.8,0M234.3,1441.6a4.9,4.9 0 1,0 9.8,0a4.9,4.9 0 1,0 -9.8,0M236.4,1437.5a4.9,4.9 0 1,0 9.8,0a4.9,4.9 0 1,0 -9.8,0M238.6,1439.5a4.9,4.9 0 1,0 9.8,0a4.9,4.9 0 1,0 -9.8,0M240.7,1446.5a4.9,4.9 0 1,0 9.8,0a4.9,4.9 0 1,0 -9.8,0M242.8,1441.4a4.9,4.9 0 1,0 9.8,0a4.9,4.9 0 1,0 -9.8,0M245.0,1441.8a4.9,4.9 0 1,0 9.8,0a4.9,4.9 0 1,0 -9.8,0M247.1,1439.6a4.9,4.9 0 1,0 9.8,0a4.9,4.9 0 1,0 -9.8,0M249.2,1441.3a4.9,4.9 0 1,0 9.8,0a4.9,4.9 0 1,0 -9.8,0M251.3,1435.7a4.9,4.9 0 1,0 9.8,0a4.9,4.9 0 1,0 -9.8,0M253.5,1436.5a4.9,4.9 0 1,0 9.8,0a4.9,4.9 0 1,0 -9.8,0M255.6,1440.0a4.9,4.9 0 1,0 9.8,0a4.9,4.9 0 1,0 -9.8,0M257.7,1441.1a4.9,4.9 0 1,0 9.8,0a4.9,4.9 0 1,0 -9.8,0M259.9,1437.6a4.9,4.9 0 1,0 9.8,0a4.9,4.9 0 1,0 -9.8,0M262.0,1438.2a4.9,4.9 0 1,0 9.8,0a4.9,4.9 0 1,0 -9.8,0M264.1,1437.6a4.9,4.9 0 1,0 9.8,0a4.9,4.9 0 1,0 -9.8,0M266.3,1438.1a4.9,4.9 0 1,0 9.8,0a4.9,4.9 0 1,0 -9.8,0M268.4,1435.2a4.9,4.9 0 1,0 9.8,0a4.9,4.9 0 1,0 -9.8,0M270.5,1434.5a4.9,4.9 0 1,0 9.8,0a4.9,4.9 0 1,0 -9.8,0M272.6,1438.2a4.9,4.9 0 1,0 9.8,0a4.9,4.9 0 1,0 -9.8,0M274.8,1433.5a4.9,4.9 0 1,0 9.8,0a4.9,4.9 0 1,0 -9.8,0M276.9,1435.6a4.9,4.9 0 1,0 9.8,0a4.9,4.9 0 1,0 -9.8,0M279.0,1436.4a4.9,4.9 0 1,0 9.8,0a4.9,4.9 0 1,0 -9.8,0M281.2,1435.3a4.9,4.9 0 1,0 9.8,0a4.9,4.9 0 1,0 -9.8,0M283.3,1438.8a4.9,4.9 0 1,0 9.8,0a4.9,4.9 0 1,0 -9.8,0M285.4,1436.8a4.9,4.9 0 1,0 9.8,0a4.9,4.9 0 1,0 -9.8,0M287.6,1437.8a4.9,4.9 0 1,0 9.8,0a4.9,4.9 0 1,0 -9.8,0M289.7,1435.1a4.9,4.9 0 1,0 9.8,0a4.9,4.9 0 1,0 -9.8,0M291.8,1435.8a4.9,4.9 0 1,0 9.8,0a4.9,4.9 0 1,0 -9.8,0M293.9,1439.2a4.9,4.9 0 1,0 9.8,0a4.9,4.9 0 1,0 -9.8,0M296.1,1438.8a4.9,4.9 0 1,0 9.8,0a4.9,4.9 0 1,0 -9.8,0M298.2,1436.4a4.9,4.9 0 1,0 9.8,0a4.9,4.9 0 1,0 -9.8,0M300.3,1438.6a4.9,4.9 0 1,0 9.8,0a4.9,4.9 0 1,0 -9.8,0M302.5,1438.0a4.9,4.9 0 1,0 9.8,0a4.9,4.9 0 1,0 -9.8,0M304.6,1437.9a4.9,4.9 0 1,0 9.8,0a4.9,4.9 0 1,0 -9.8,0M306.7,1441.8a4.9,4.9 0 1,0 9.8,0a4.9,4.9 0 1,0 -9.8,0M308.8,1436.1a4.9,4.9 0 1,0 9.8,0a4.9,4.9 0 1,0 -9.8,0M311.0,1438.3a4.9,4.9 0 1,0 9.8,0a4.9,4.9 0 1,0 -9.8,0M313.1,1438.2a4.9,4.9 0 1,0 9.8,0a4.9,4.9 0 1,0 -9.8,0M315.2,1436.3a4.9,4.9 0 1,0 9.8,0a4.9,4.9 0 1,0 -9.8,0M317.4,1433.5a4.9,4.9 0 1,0 9.8,0a4.9,4.9 0 1,0 -9.8,0M319.5,1438.6a4.9,4.9 0 1,0 9.8,0a4.9,4.9 0 1,0 -9.8,0M321.6,1437.3a4.9,4.9 0 1,0 9.8,0a4.9,4.9 0 1,0 -9.8,0M323.8,1436.5a4.9,4.9 0 1,0 9.8,0a4.9,4.9 0 1,0 -9.8,0M325.9,1436.3a4.9,4.9 0 1,0 9.8,0a4.9,4.9 0 1,0 -9.8,0M328.0,1436.1a4.9,4.9 0 1,0 9.8,0a4.9,4.9 0 1,0 -9.8,0M330.1,1433.4a4.9,4.9 0 1,0 9.8,0a4.9,4.9 0 1,0 -9.8,0M332.3,1436.4a4.9,4.9 0 1,0 9.8,0a4.9,4.9 0 1,0 -9.8,0M334.4,1430.3a4.9,4.9 0 1,0 9.8,0a4.9,4.9 0 1,0 -9.8,0M336.5,1435.0a4.9,4.9 0 1,0 9.8,0a4.9,4.9 0 1,0 -9.8,0M338.7,1430.5a4.9,4.9 0 1,0 9.8,0a4.9,4.9 0 1,0 -9.8,0M340.8,1433.4a4.9,4.9 0 1,0 9.8,0a4.9,4.9 0 1,0 -9.8,0M342.9,1435.9a4.9,4.9 0 1,0 9.8,0a4.9,4.9 0 1,0 -9.8,0M345.0,1432.8a4.9,4.9 0 1,0 9.8,0a4.9,4.9 0 1,0 -9.8,0M347.2,1431.7a4.9,4.9 0 1,0 9.8,0a4.9,4.9 0 1,0 -9.8,0M349.3,1433.9a4.9,4.9 0 1,0 9.8,0a4.9,4.9 0 1,0 -9.8,0M351.4,1431.2a4.9,4.9 0 1,0 9.8,0a4.9,4.9 0 1,0 -9.8,0M353.6,1430.2a4.9,4.9 0 1,0 9.8,0a4.9,4.9 0 1,0 -9.8,0M355.7,1429.5a4.9,4.9 0 1,0 9.8,0a4.9,4.9 0 1,0 -9.8,0M357.8,1434.1a4.9,4.9 0 1,0 9.8,0a4.9,4.9 0 1,0 -9.8,0M360.0,1431.0a4.9,4.9 0 1,0 9.8,0a4.9,4.9 0 1,0 -9.8,0M362.1,1429.6a4.9,4.9 0 1,0 9.8,0a4.9,4.9 0 1,0 -9.8,0M364.2,1424.0a4.9,4.9 0 1,0 9.8,0a4.9,4.9 0 1,0 -9.8,0M366.3,1428.1a4.9,4.9 0 1,0 9.8,0a4.9,4.9 0 1,0 -9.8,0M368.5,1421.7a4.9,4.9 0 1,0 9.8,0a4.9,4.9 0 1,0 -9.8,0M370.6,1425.5a4.9,4.9 0 1,0 9.8,0a4.9,4.9 0 1,0 -9.8,0M372.7,1419.7a4.9,4.9 0 1,0 9.8,0a4.9,4.9 0 1,0 -9.8,0M374.9,1426.9a4.9,4.9 0 1,0 9.8,0a4.9,4.9 0 1,0 -9.8,0M377.0,1415.2a4.9,4.9 0 1,0 9.8,0a4.9,4.9 0 1,0 -9.8,0M379.1,1421.6a4.9,4.9 0 1,0 9.8,0a4.9,4.9 0 1,0 -9.8,0M381.3,1418.6a4.9,4.9 0 1,0 9.8,0a4.9,4.9 0 1,0 -9.8,0M383.4,1409.7a4.9,4.9 0 1,0 9.8,0a4.9,4.9 0 1,0 -9.8,0M385.5,1411.6a4.9,4.9 0 1,0 9.8,0a4.9,4.9 0 1,0 -9.8,0M387.6,1413.3a4.9,4.9 0 1,0 9.8,0a4.9,4.9 0 1,0 -9.8,0M389.8,1409.7a4.9,4.9 0 1,0 9.8,0a4.9,4.9 0 1,0 -9.8,0M391.9,1400.5a4.9,4.9 0 1,0 9.8,0a4.9,4.9 0 1,0 -9.8,0M394.0,1399.9a4.9,4.9 0 1,0 9.8,0a4.9,4.9 0 1,0 -9.8,0M396.2,1395.2a4.9,4.9 0 1,0 9.8,0a4.9,4.9 0 1,0 -9.8,0M398.3,1391.9a4.9,4.9 0 1,0 9.8,0a4.9,4.9 0 1,0 -9.8,0M400.4,1388.5a4.9,4.9 0 1,0 9.8,0a4.9,4.9 0 1,0 -9.8,0M402.5,1388.3a4.9,4.9 0 1,0 9.8,0a4.9,4.9 0 1,0 -9.8,0M404.7,1380.7a4.9,4.9 0 1,0 9.8,0a4.9,4.9 0 1,0 -9.8,0M406.8,1375.0a4.9,4.9 0 1,0 9.8,0a4.9,4.9 0 1,0 -9.8,0M408.9,1369.3a4.9,4.9 0 1,0 9.8,0a4.9,4.9 0 1,0 -9.8,0M411.1,1364.9a4.9,4.9 0 1,0 9.8,0a4.9,4.9 0 1,0 -9.8,0M413.2,1358.7a4.9,4.9 0 1,0 9.8,0a4.9,4.9 0 1,0 -9.8,0M415.3,1350.0a4.9,4.9 0 1,0 9.8,0a4.9,4.9 0 1,0 -9.8,0M417.5,1346.2a4.9,4.9 0 1,0 9.8,0a4.9,4.9 0 1,0 -9.8,0M419.6,1335.5a4.9,4.9 0 1,0 9.8,0a4.9,4.9 0 1,0 -9.8,0M421.7,1328.7a4.9,4.9 0 1,0 9.8,0a4.9,4.9 0 1,0 -9.8,0M423.8,1321.5a4.9,4.9 0 1,0 9.8,0a4.9,4.9 0 1,0 -9.8,0M426.0,1314.5a4.9,4.9 0 1,0 9.8,0a4.9,4.9 0 1,0 -9.8,0M428.1,1302.8a4.9,4.9 0 1,0 9.8,0a4.9,4.9 0 1,0 -9.8,0M430.2,1294.2a4.9,4.9 0 1,0 9.8,0a4.9,4.9 0 1,0 -9.8,0M432.4,1285.7a4.9,4.9 0 1,0 9.8,0a4.9,4.9 0 1,0 -9.8,0M434.5,1274.6a4.9,4.9 0 1,0 9.8,0a4.9,4.9 0 1,0 -9.8,0M436.6,1264.6a4.9,4.9 0 1,0 9.8,0a4.9,4.9 0 1,0 -9.8,0M438.7,1253.5a4.9,4.9 0 1,0 9.8,0a4.9,4.9 0 1,0 -9.8,0M440.9,1241.1a4.9,4.9 0 1,0 9.8,0a4.9,4.9 0 1,0 -9.8,0M443.0,1229.8a4.9,4.9 0 1,0 9.8,0a4.9,4.9 0 1,0 -9.8,0M445.1,1218.0a4.9,4.9 0 1,0 9.8,0a4.9,4.9 0 1,0 -9.8,0M447.3,1204.3a4.9,4.9 0 1,0 9.8,0a4.9,4.9 0 1,0 -9.8,0M449.4,1193.5a4.9,4.9 0 1,0 9.8,0a4.9,4.9 0 1,0 -9.8,0M451.5,1175.6a4.9,4.9 0 1,0 9.8,0a4.9,4.9 0 1,0 -9.8,0M453.7,1163.3a4.9,4.9 0 1,0 9.8,0a4.9,4.9 0 1,0 -9.8,0M455.8,1152.3a4.9,4.9 0 1,0 9.8,0a4.9,4.9 0 1,0 -9.8,0M457.9,1136.5a4.9,4.9 0 1,0 9.8,0a4.9,4.9 0 1,0 -9.8,0M460.0,1120.1a4.9,4.9 0 1,0 9.8,0a4.9,4.9 0 1,0 -9.8,0M462.2,1106.1a4.9,4.9 0 1,0 9.8,0a4.9,4.9 0 1,0 -9.8,0M464.3,1091.3a4.9,4.9 0 1,0 9.8,0a4.9,4.9 0 1,0 -9.8,0M466.4,1073.2a4.9,4.9 0 1,0 9.8,0a4.9,4.9 0 1,0 -9.8,0M468.6,1059.7a4.9,4.9 0 1,0 9.8,0a4.9,4.9 0 1,0 -9.8,0M470.7,1044.1a4.9,4.9 0 1,0 9.8,0a4.9,4.9 0 1,0 -9.8,0M472.8,1030.4a4.9,4.9 0 1,0 9.8,0a4.9,4.9 0 1,0 -9.8,0M475.0,1017.7a4.9,4.9 0 1,0 9.8,0a4.9,4.9 0 1,0 -9.8,0M477.1,1007.6a4.9,4.9 0 1,0 9.8,0a4.9,4.9 0 1,0 -9.8,0M479.2,994.6a4.9,4.9 0 1,0 9.8,0a4.9,4.9 0 1,0 -9.8,0M481.3,987.4a4.9,4.9 0 1,0 9.8,0a4.9,4.9 0 1,0 -9.8,0M483.5,983.2a4.9,4.9 0 1,0 9.8,0a4.9,4.9 0 1,0 -9.8,0M485.6,977.5a4.9,4.9 0 1,0 9.8,0a4.9,4.9 0 1,0 -9.8,0M487.7,975.8a4.9,4.9 0 1,0 9.8,0a4.9,4.9 0 1,0 -9.8,0M489.9,979.3a4.9,4.9 0 1,0 9.8,0a4.9,4.9 0 1,0 -9.8,0M492.0,981.3a4.9,4.9 0 1,0 9.8,0a4.9,4.9 0 1,0 -9.8,0M494.1,985.7a4.9,4.9 0 1,0 9.8,0a4.9,4.9 0 1,0 -9.8,0M496.2,992.6a4.9,4.9 0 1,0 9.8,0a4.9,4.9 0 1,0 -9.8,0M498.4,999.0a4.9,4.9 0 1,0 9.8,0a4.9,4.9 0 1,0 -9.8,0M500.5,1012.5a4.9,4.9 0 1,0 9.8,0a4.9,4.9 0 1,0 -9.8,0M502.6,1015.7a4.9,4.9 0 1,0 9.8,0a4.9,4.9 0 1,0 -9.8,0M504.8,1023.8a4.9,4.9 0 1,0 9.8,0a4.9,4.9 0 1,0 -9.8,0M506.9,1029.2a4.9,4.9 0 1,0 9.8,0a4.9,4.9 0 1,0 -9.8,0M509.0,1036.6a4.9,4.9 0 1,0 9.8,0a4.9,4.9 0 1,0 -9.8,0M511.2,1044.8a4.9,4.9 0 1,0 9.8,0a4.9,4.9 0 1,0 -9.8,0M513.3,1048.1a4.9,4.9 0 1,0 9.8,0a4.9,4.9 0 1,0 -9.8,0M515.4,1053.6a4.9,4.9 0 1,0 9.8,0a4.9,4.9 0 1,0 -9.8,0M517.5,1056.6a4.9,4.9 0 1,0 9.8,0a4.9,4.9 0 1,0 -9.8,0M519.7,1063.7a4.9,4.9 0 1,0 9.8,0a4.9,4.9 0 1,0 -9.8,0M521.8,1065.4a4.9,4.9 0 1,0 9.8,0a4.9,4.9 0 1,0 -9.8,0M523.9,1067.4a4.9,4.9 0 1,0 9.8,0a4.9,4.9 0 1,0 -9.8,0M526.1,1073.8a4.9,4.9 0 1,0 9.8,0a4.9,4.9 0 1,0 -9.8,0M528.2,1076.4a4.9,4.9 0 1,0 9.8,0a4.9,4.9 0 1,0 -9.8,0M530.3,1082.0a4.9,4.9 0 1,0 9.8,0a4.9,4.9 0 1,0 -9.8,0M532.5,1086.2a4.9,4.9 0 1,0 9.8,0a4.9,4.9 0 1,0 -9.8,0M534.6,1091.8a4.9,4.9 0 1,0 9.8,0a4.9,4.9 0 1,0 -9.8,0M536.7,1097.5a4.9,4.9 0 1,0 9.8,0a4.9,4.9 0 1,0 -9.8,0M538.8,1102.5a4.9,4.9 0 1,0 9.8,0a4.9,4.9 0 1,0 -9.8,0M541.0,1108.5a4.9,4.9 0 1,0 9.8,0a4.9,4.9 0 1,0 -9.8,0M543.1,1118.7a4.9,4.9 0 1,0 9.8,0a4.9,4.9 0 1,0 -9.8,0M545.2,1124.6a4.9,4.9 0 1,0 9.8,0a4.9,4.9 0 1,0 -9.8,0M547.4,1132.7a4.9,4.9 0 1,0 9.8,0a4.9,4.9 0 1,0 -9.8,0M549.5,1139.5a4.9,4.9 0 1,0 9.8,0a4.9,4.9 0 1,0 -9.8,0M551.6,1145.6a4.9,4.9 0 1,0 9.8,0a4.9,4.9 0 1,0 -9.8,0M553.7,1154.8a4.9,4.9 0 1,0 9.8,0a4.9,4.9 0 1,0 -9.8,0M555.9,1166.7a4.9,4.9 0 1,0 9.8,0a4.9,4.9 0 1,0 -9.8,0M558.0,1172.0a4.9,4.9 0 1,0 9.8,0a4.9,4.9 0 1,0 -9.8,0M560.1,1180.2a4.9,4.9 0 1,0 9.8,0a4.9,4.9 0 1,0 -9.8,0M562.3,1186.2a4.9,4.9 0 1,0 9.8,0a4.9,4.9 0 1,0 -9.8,0M564.4,1194.8a4.9,4.9 0 1,0 9.8,0a4.9,4.9 0 1,0 -9.8,0M566.5,1202.3a4.9,4.9 0 1,0 9.8,0a4.9,4.9 0 1,0 -9.8,0M568.7,1210.0a4.9,4.9 0 1,0 9.8,0a4.9,4.9 0 1,0 -9.8,0M570.8,1217.9a4.9,4.9 0 1,0 9.8,0a4.9,4.9 0 1,0 -9.8,0M572.9,1225.2a4.9,4.9 0 1,0 9.8,0a4.9,4.9 0 1,0 -9.8,0M575.0,1233.8a4.9,4.9 0 1,0 9.8,0a4.9,4.9 0 1,0 -9.8,0M577.2,1243.2a4.9,4.9 0 1,0 9.8,0a4.9,4.9 0 1,0 -9.8,0M579.3,1251.9a4.9,4.9 0 1,0 9.8,0a4.9,4.9 0 1,0 -9.8,0M581.4,1259.2a4.9,4.9 0 1,0 9.8,0a4.9,4.9 0 1,0 -9.8,0M583.6,1269.2a4.9,4.9 0 1,0 9.8,0a4.9,4.9 0 1,0 -9.8,0M585.7,1274.5a4.9,4.9 0 1,0 9.8,0a4.9,4.9 0 1,0 -9.8,0M587.8,1281.3a4.9,4.9 0 1,0 9.8,0a4.9,4.9 0 1,0 -9.8,0M589.9,1286.9a4.9,4.9 0 1,0 9.8,0a4.9,4.9 0 1,0 -9.8,0M592.1,1295.4a4.9,4.9 0 1,0 9.8,0a4.9,4.9 0 1,0 -9.8,0M594.2,1298.7a4.9,4.9 0 1,0 9.8,0a4.9,4.9 0 1,0 -9.8,0M596.3,1303.7a4.9,4.9 0 1,0 9.8,0a4.9,4.9 0 1,0 -9.8,0M598.5,1310.0a4.9,4.9 0 1,0 9.8,0a4.9,4.9 0 1,0 -9.8,0M600.6,1317.4a4.9,4.9 0 1,0 9.8,0a4.9,4.9 0 1,0 -9.8,0M602.7,1320.2a4.9,4.9 0 1,0 9.8,0a4.9,4.9 0 1,0 -9.8,0M604.9,1328.2a4.9,4.9 0 1,0 9.8,0a4.9,4.9 0 1,0 -9.8,0M607.0,1331.2a4.9,4.9 0 1,0 9.8,0a4.9,4.9 0 1,0 -9.8,0M609.1,1333.7a4.9,4.9 0 1,0 9.8,0a4.9,4.9 0 1,0 -9.8,0M611.2,1339.7a4.9,4.9 0 1,0 9.8,0a4.9,4.9 0 1,0 -9.8,0M613.4,1346.4a4.9,4.9 0 1,0 9.8,0a4.9,4.9 0 1,0 -9.8,0M615.5,1347.0a4.9,4.9 0 1,0 9.8,0a4.9,4.9 0 1,0 -9.8,0M617.6,1350.2a4.9,4.9 0 1,0 9.8,0a4.9,4.9 0 1,0 -9.8,0M619.8,1356.3a4.9,4.9 0 1,0 9.8,0a4.9,4.9 0 1,0 -9.8,0M621.9,1360.9a4.9,4.9 0 1,0 9.8,0a4.9,4.9 0 1,0 -9.8,0M624.0,1363.9a4.9,4.9 0 1,0 9.8,0a4.9,4.9 0 1,0 -9.8,0M626.2,1365.3a4.9,4.9 0 1,0 9.8,0a4.9,4.9 0 1,0 -9.8,0M628.3,1369.3a4.9,4.9 0 1,0 9.8,0a4.9,4.9 0 1,0 -9.8,0M630.4,1372.7a4.9,4.9 0 1,0 9.8,0a4.9,4.9 0 1,0 -9.8,0M632.5,1377.2a4.9,4.9 0 1,0 9.8,0a4.9,4.9 0 1,0 -9.8,0M634.7,1382.0a4.9,4.9 0 1,0 9.8,0a4.9,4.9 0 1,0 -9.8,0M636.8,1380.8a4.9,4.9 0 1,0 9.8,0a4.9,4.9 0 1,0 -9.8,0M638.9,1386.3a4.9,4.9 0 1,0 9.8,0a4.9,4.9 0 1,0 -9.8,0M641.1,1385.6a4.9,4.9 0 1,0 9.8,0a4.9,4.9 0 1,0 -9.8,0M643.2,1390.0a4.9,4.9 0 1,0 9.8,0a4.9,4.9 0 1,0 -9.8,0M645.3,1388.9a4.9,4.9 0 1,0 9.8,0a4.9,4.9 0 1,0 -9.8,0M647.4,1391.3a4.9,4.9 0 1,0 9.8,0a4.9,4.9 0 1,0 -9.8,0M649.6,1396.1a4.9,4.9 0 1,0 9.8,0a4.9,4.9 0 1,0 -9.8,0M651.7,1394.5a4.9,4.9 0 1,0 9.8,0a4.9,4.9 0 1,0 -9.8,0M653.8,1400.8a4.9,4.9 0 1,0 9.8,0a4.9,4.9 0 1,0 -9.8,0M656.0,1398.3a4.9,4.9 0 1,0 9.8,0a4.9,4.9 0 1,0 -9.8,0M658.1,1401.4a4.9,4.9 0 1,0 9.8,0a4.9,4.9 0 1,0 -9.8,0M660.2,1402.3a4.9,4.9 0 1,0 9.8,0a4.9,4.9 0 1,0 -9.8,0M662.4,1402.7a4.9,4.9 0 1,0 9.8,0a4.9,4.9 0 1,0 -9.8,0M664.5,1405.3a4.9,4.9 0 1,0 9.8,0a4.9,4.9 0 1,0 -9.8,0M666.6,1409.3a4.9,4.9 0 1,0 9.8,0a4.9,4.9 0 1,0 -9.8,0M668.7,1416.8a4.9,4.9 0 1,0 9.8,0a4.9,4.9 0 1,0 -9.8,0M670.9,1404.2a4.9,4.9 0 1,0 9.8,0a4.9,4.9 0 1,0 -9.8,0M673.0,1409.9a4.9,4.9 0 1,0 9.8,0a4.9,4.9 0 1,0 -9.8,0M675.1,1409.3a4.9,4.9 0 1,0 9.8,0a4.9,4.9 0 1,0 -9.8,0M677.3,1407.7a4.9,4.9 0 1,0 9.8,0a4.9,4.9 0 1,0 -9.8,0M679.4,1412.3a4.9,4.9 0 1,0 9.8,0a4.9,4.9 0 1,0 -9.8,0M681.5,1409.3a4.9,4.9 0 1,0 9.8,0a4.9,4.9 0 1,0 -9.8,0M683.6,1412.6a4.9,4.9 0 1,0 9.8,0a4.9,4.9 0 1,0 -9.8,0M685.8,1417.5a4.9,4.9 0 1,0 9.8,0a4.9,4.9 0 1,0 -9.8,0M687.9,1407.6a4.9,4.9 0 1,0 9.8,0a4.9,4.9 0 1,0 -9.8,0M690.0,1415.4a4.9,4.9 0 1,0 9.8,0a4.9,4.9 0 1,0 -9.8,0M692.2,1416.6a4.9,4.9 0 1,0 9.8,0a4.9,4.9 0 1,0 -9.8,0M694.3,1412.6a4.9,4.9 0 1,0 9.8,0a4.9,4.9 0 1,0 -9.8,0M696.4,1417.8a4.9,4.9 0 1,0 9.8,0a4.9,4.9 0 1,0 -9.8,0M698.6,1417.7a4.9,4.9 0 1,0 9.8,0a4.9,4.9 0 1,0 -9.8,0M700.7,1415.8a4.9,4.9 0 1,0 9.8,0a4.9,4.9 0 1,0 -9.8,0M702.8,1421.2a4.9,4.9 0 1,0 9.8,0a4.9,4.9 0 1,0 -9.8,0M704.9,1413.5a4.9,4.9 0 1,0 9.8,0a4.9,4.9 0 1,0 -9.8,0M707.1,1420.1a4.9,4.9 0 1,0 9.8,0a4.9,4.9 0 1,0 -9.8,0M709.2,1417.6a4.9,4.9 0 1,0 9.8,0a4.9,4.9 0 1,0 -9.8,0M711.3,1415.3a4.9,4.9 0 1,0 9.8,0a4.9,4.9 0 1,0 -9.8,0M713.5,1418.3a4.9,4.9 0 1,0 9.8,0a4.9,4.9 0 1,0 -9.8,0M715.6,1418.1a4.9,4.9 0 1,0 9.8,0a4.9,4.9 0 1,0 -9.8,0M717.7,1422.1a4.9,4.9 0 1,0 9.8,0a4.9,4.9 0 1,0 -9.8,0M719.9,1414.9a4.9,4.9 0 1,0 9.8,0a4.9,4.9 0 1,0 -9.8,0M722.0,1419.3a4.9,4.9 0 1,0 9.8,0a4.9,4.9 0 1,0 -9.8,0M724.1,1418.7a4.9,4.9 0 1,0 9.8,0a4.9,4.9 0 1,0 -9.8,0M726.2,1425.3a4.9,4.9 0 1,0 9.8,0a4.9,4.9 0 1,0 -9.8,0M728.4,1416.9a4.9,4.9 0 1,0 9.8,0a4.9,4.9 0 1,0 -9.8,0M730.5,1424.1a4.9,4.9 0 1,0 9.8,0a4.9,4.9 0 1,0 -9.8,0M732.6,1415.2a4.9,4.9 0 1,0 9.8,0a4.9,4.9 0 1,0 -9.8,0M734.8,1422.1a4.9,4.9 0 1,0 9.8,0a4.9,4.9 0 1,0 -9.8,0M736.9,1420.7a4.9,4.9 0 1,0 9.8,0a4.9,4.9 0 1,0 -9.8,0M739.0,1422.5a4.9,4.9 0 1,0 9.8,0a4.9,4.9 0 1,0 -9.8,0M741.1,1419.2a4.9,4.9 0 1,0 9.8,0a4.9,4.9 0 1,0 -9.8,0M743.3,1415.3a4.9,4.9 0 1,0 9.8,0a4.9,4.9 0 1,0 -9.8,0M745.4,1416.8a4.9,4.9 0 1,0 9.8,0a4.9,4.9 0 1,0 -9.8,0M747.5,1426.0a4.9,4.9 0 1,0 9.8,0a4.9,4.9 0 1,0 -9.8,0M749.7,1422.6a4.9,4.9 0 1,0 9.8,0a4.9,4.9 0 1,0 -9.8,0M751.8,1419.3a4.9,4.9 0 1,0 9.8,0a4.9,4.9 0 1,0 -9.8,0M753.9,1425.0a4.9,4.9 0 1,0 9.8,0a4.9,4.9 0 1,0 -9.8,0M756.1,1419.9a4.9,4.9 0 1,0 9.8,0a4.9,4.9 0 1,0 -9.8,0M758.2,1420.0a4.9,4.9 0 1,0 9.8,0a4.9,4.9 0 1,0 -9.8,0M760.3,1418.5a4.9,4.9 0 1,0 9.8,0a4.9,4.9 0 1,0 -9.8,0M762.4,1426.3a4.9,4.9 0 1,0 9.8,0a4.9,4.9 0 1,0 -9.8,0M764.6,1428.9a4.9,4.9 0 1,0 9.8,0a4.9,4.9 0 1,0 -9.8,0M766.7,1419.6a4.9,4.9 0 1,0 9.8,0a4.9,4.9 0 1,0 -9.8,0M768.8,1423.7a4.9,4.9 0 1,0 9.8,0a4.9,4.9 0 1,0 -9.8,0M771.0,1425.9a4.9,4.9 0 1,0 9.8,0a4.9,4.9 0 1,0 -9.8,0M773.1,1429.6a4.9,4.9 0 1,0 9.8,0a4.9,4.9 0 1,0 -9.8,0M775.2,1415.2a4.9,4.9 0 1,0 9.8,0a4.9,4.9 0 1,0 -9.8,0M777.3,1423.4a4.9,4.9 0 1,0 9.8,0a4.9,4.9 0 1,0 -9.8,0M779.5,1425.1a4.9,4.9 0 1,0 9.8,0a4.9,4.9 0 1,0 -9.8,0M781.6,1418.3a4.9,4.9 0 1,0 9.8,0a4.9,4.9 0 1,0 -9.8,0M783.7,1424.4a4.9,4.9 0 1,0 9.8,0a4.9,4.9 0 1,0 -9.8,0M785.9,1423.8a4.9,4.9 0 1,0 9.8,0a4.9,4.9 0 1,0 -9.8,0M788.0,1425.5a4.9,4.9 0 1,0 9.8,0a4.9,4.9 0 1,0 -9.8,0M790.1,1421.4a4.9,4.9 0 1,0 9.8,0a4.9,4.9 0 1,0 -9.8,0M792.3,1424.6a4.9,4.9 0 1,0 9.8,0a4.9,4.9 0 1,0 -9.8,0M794.4,1421.4a4.9,4.9 0 1,0 9.8,0a4.9,4.9 0 1,0 -9.8,0M796.5,1425.3a4.9,4.9 0 1,0 9.8,0a4.9,4.9 0 1,0 -9.8,0M798.6,1423.9a4.9,4.9 0 1,0 9.8,0a4.9,4.9 0 1,0 -9.8,0M800.8,1422.2a4.9,4.9 0 1,0 9.8,0a4.9,4.9 0 1,0 -9.8,0M802.9,1418.9a4.9,4.9 0 1,0 9.8,0a4.9,4.9 0 1,0 -9.8,0M805.0,1428.8a4.9,4.9 0 1,0 9.8,0a4.9,4.9 0 1,0 -9.8,0M807.2,1427.1a4.9,4.9 0 1,0 9.8,0a4.9,4.9 0 1,0 -9.8,0M809.3,1426.4a4.9,4.9 0 1,0 9.8,0a4.9,4.9 0 1,0 -9.8,0M811.4,1421.4a4.9,4.9 0 1,0 9.8,0a4.9,4.9 0 1,0 -9.8,0M813.6,1422.5a4.9,4.9 0 1,0 9.8,0a4.9,4.9 0 1,0 -9.8,0M815.7,1429.0a4.9,4.9 0 1,0 9.8,0a4.9,4.9 0 1,0 -9.8,0M817.8,1426.0a4.9,4.9 0 1,0 9.8,0a4.9,4.9 0 1,0 -9.8,0M819.9,1420.9a4.9,4.9 0 1,0 9.8,0a4.9,4.9 0 1,0 -9.8,0M822.1,1423.8a4.9,4.9 0 1,0 9.8,0a4.9,4.9 0 1,0 -9.8,0M824.2,1424.1a4.9,4.9 0 1,0 9.8,0a4.9,4.9 0 1,0 -9.8,0M826.3,1423.1a4.9,4.9 0 1,0 9.8,0a4.9,4.9 0 1,0 -9.8,0M828.5,1420.7a4.9,4.9 0 1,0 9.8,0a4.9,4.9 0 1,0 -9.8,0M830.6,1427.7a4.9,4.9 0 1,0 9.8,0a4.9,4.9 0 1,0 -9.8,0M832.7,1425.6a4.9,4.9 0 1,0 9.8,0a4.9,4.9 0 1,0 -9.8,0M834.8,1423.1a4.9,4.9 0 1,0 9.8,0a4.9,4.9 0 1,0 -9.8,0M837.0,1418.7a4.9,4.9 0 1,0 9.8,0a4.9,4.9 0 1,0 -9.8,0M839.1,1421.9a4.9,4.9 0 1,0 9.8,0a4.9,4.9 0 1,0 -9.8,0M841.2,1423.8a4.9,4.9 0 1,0 9.8,0a4.9,4.9 0 1,0 -9.8,0M843.4,1426.6a4.9,4.9 0 1,0 9.8,0a4.9,4.9 0 1,0 -9.8,0M845.5,1422.6a4.9,4.9 0 1,0 9.8,0a4.9,4.9 0 1,0 -9.8,0M847.6,1427.3a4.9,4.9 0 1,0 9.8,0a4.9,4.9 0 1,0 -9.8,0M849.8,1424.2a4.9,4.9 0 1,0 9.8,0a4.9,4.9 0 1,0 -9.8,0M851.9,1421.4a4.9,4.9 0 1,0 9.8,0a4.9,4.9 0 1,0 -9.8,0M854.0,1414.8a4.9,4.9 0 1,0 9.8,0a4.9,4.9 0 1,0 -9.8,0M856.1,1420.0a4.9,4.9 0 1,0 9.8,0a4.9,4.9 0 1,0 -9.8,0M858.3,1419.0a4.9,4.9 0 1,0 9.8,0a4.9,4.9 0 1,0 -9.8,0M860.4,1423.3a4.9,4.9 0 1,0 9.8,0a4.9,4.9 0 1,0 -9.8,0M862.5,1424.8a4.9,4.9 0 1,0 9.8,0a4.9,4.9 0 1,0 -9.8,0M864.7,1428.2a4.9,4.9 0 1,0 9.8,0a4.9,4.9 0 1,0 -9.8,0M866.8,1423.7a4.9,4.9 0 1,0 9.8,0a4.9,4.9 0 1,0 -9.8,0M868.9,1420.0a4.9,4.9 0 1,0 9.8,0a4.9,4.9 0 1,0 -9.8,0M871.1,1431.2a4.9,4.9 0 1,0 9.8,0a4.9,4.9 0 1,0 -9.8,0M873.2,1424.6a4.9,4.9 0 1,0 9.8,0a4.9,4.9 0 1,0 -9.8,0M875.3,1422.8a4.9,4.9 0 1,0 9.8,0a4.9,4.9 0 1,0 -9.8,0M877.4,1422.8a4.9,4.9 0 1,0 9.8,0a4.9,4.9 0 1,0 -9.8,0M879.6,1419.2a4.9,4.9 0 1,0 9.8,0a4.9,4.9 0 1,0 -9.8,0M881.7,1425.6a4.9,4.9 0 1,0 9.8,0a4.9,4.9 0 1,0 -9.8,0M883.8,1424.7a4.9,4.9 0 1,0 9.8,0a4.9,4.9 0 1,0 -9.8,0M886.0,1428.6a4.9,4.9 0 1,0 9.8,0a4.9,4.9 0 1,0 -9.8,0M888.1,1427.0a4.9,4.9 0 1,0 9.8,0a4.9,4.9 0 1,0 -9.8,0M890.2,1426.2a4.9,4.9 0 1,0 9.8,0a4.9,4.9 0 1,0 -9.8,0M892.3,1427.4a4.9,4.9 0 1,0 9.8,0a4.9,4.9 0 1,0 -9.8,0M894.5,1422.4a4.9,4.9 0 1,0 9.8,0a4.9,4.9 0 1,0 -9.8,0M896.6,1421.9a4.9,4.9 0 1,0 9.8,0a4.9,4.9 0 1,0 -9.8,0M898.7,1423.1a4.9,4.9 0 1,0 9.8,0a4.9,4.9 0 1,0 -9.8,0M900.9,1419.2a4.9,4.9 0 1,0 9.8,0a4.9,4.9 0 1,0 -9.8,0M903.0,1422.7a4.9,4.9 0 1,0 9.8,0a4.9,4.9 0 1,0 -9.8,0M905.1,1422.0a4.9,4.9 0 1,0 9.8,0a4.9,4.9 0 1,0 -9.8,0M907.3,1425.2a4.9,4.9 0 1,0 9.8,0a4.9,4.9 0 1,0 -9.8,0M909.4,1422.9a4.9,4.9 0 1,0 9.8,0a4.9,4.9 0 1,0 -9.8,0M911.5,1416.8a4.9,4.9 0 1,0 9.8,0a4.9,4.9 0 1,0 -9.8,0M913.6,1423.0a4.9,4.9 0 1,0 9.8,0a4.9,4.9 0 1,0 -9.8,0M915.8,1427.4a4.9,4.9 0 1,0 9.8,0a4.9,4.9 0 1,0 -9.8,0M917.9,1416.9a4.9,4.9 0 1,0 9.8,0a4.9,4.9 0 1,0 -9.8,0M920.0,1420.3a4.9,4.9 0 1,0 9.8,0a4.9,4.9 0 1,0 -9.8,0M922.2,1422.7a4.9,4.9 0 1,0 9.8,0a4.9,4.9 0 1,0 -9.8,0M924.3,1418.4a4.9,4.9 0 1,0 9.8,0a4.9,4.9 0 1,0 -9.8,0M926.4,1420.8a4.9,4.9 0 1,0 9.8,0a4.9,4.9 0 1,0 -9.8,0M928.5,1422.7a4.9,4.9 0 1,0 9.8,0a4.9,4.9 0 1,0 -9.8,0M930.7,1418.2a4.9,4.9 0 1,0 9.8,0a4.9,4.9 0 1,0 -9.8,0M932.8,1423.3a4.9,4.9 0 1,0 9.8,0a4.9,4.9 0 1,0 -9.8,0M934.9,1423.6a4.9,4.9 0 1,0 9.8,0a4.9,4.9 0 1,0 -9.8,0M937.1,1418.2a4.9,4.9 0 1,0 9.8,0a4.9,4.9 0 1,0 -9.8,0" fill="none" stroke="#5a5a5a" stroke-width="2.2"/>
<polyline points="232.8,1437.3 233.8,1437.3 234.8,1437.3 235.8,1437.3 236.8,1437.3 237.8,1437.3 238.8,1437.3 239.8,1437.3 240.8,1437.3 241.8,1437.3 242.8,1437.3 243.8,1437.3 244.8,1437.3 245.8,1437.3 246.8,1437.3 247.8,1437.3 248.8,1437.3 249.8,1437.3 250.8,1437.3 251.8,1437.3 252.8,1437.3 253.8,1437.3 254.8,1437.3 255.8,1437.3 256.8,1437.3 257.8,1437.3 258.8,1437.3 259.8,1437.3 260.8,1437.3 261.8,1437.3 262.8,1437.3 263.8,1437.3 264.8,1437.3 265.8,1437.3 266.8,1437.3 267.8,1437.3 268.8,1437.3 269.8,1437.3 270.8,1437.3 271.8,1437.3 272.8,1437.3 273.8,1437.3 274.8,1437.3 275.8,1437.3 276.8,1437.3 277.8,1437.3 278.8,1437.3 279.8,1437.3 280.8,1437.3 281.8,1437.3 282.8,1437.3 283.8,1437.3 284.8,1437.3 285.8,1437.3 286.8,1437.3 287.8,1437.3 288.8,1437.3 289.8,1437.3 290.8,1437.3 291.8,1437.3 292.8,1437.3 293.8,1437.3 294.8,1437.3 295.8,1437.2 296.8,1437.2 297.8,1437.2 298.8,1437.2 299.8,1437.2 300.8,1437.2 301.8,1437.2 302.8,1437.2 303.8,1437.2 304.8,1437.2 305.8,1437.2 306.8,1437.2 307.8,1437.2 308.8,1437.2 309.8,1437.2 310.8,1437.2 311.8,1437.2 312.8,1437.2 313.8,1437.2 314.8,1437.2 315.8,1437.2 316.8,1437.2 317.8,1437.2 318.8,1437.2 319.8,1437.2 320.8,1437.2 321.8,1437.2 322.8,1437.2 323.8,1437.2 324.8,1437.2 325.8,1437.2 326.8,1437.2 327.8,1437.2 328.8,1437.2 329.8,1437.2 330.8,1437.2 331.8,1437.2 332.8,1437.2 333.8,1437.2 334.8,1437.2 335.8,1437.2 336.8,1437.2 337.8,1437.2 338.8,1437.2 339.8,1437.2 340.8,1437.2 341.8,1437.2 342.8,1437.2 343.8,1437.2 344.8,1437.2 345.8,1437.2 346.8,1437.2 347.8,1437.2 348.8,1437.2 349.8,1437.2 350.8,1437.2 351.8,1437.2 352.8,1437.2 353.8,1437.2 354.8,1437.2 355.8,1437.2 356.8,1437.2 357.8,1437.2 358.8,1437.2 359.8,1437.2 360.8,1437.2 361.8,1437.2 362.8,1437.2 363.8,1437.2 364.8,1437.2 365.8,1437.2 366.8,1437.2 367.8,1437.2 368.8,1437.2 369.8,1437.2 370.8,1437.2 371.8,1437.2 372.8,1437.2 373.8,1437.1 374.8,1437.1 375.8,1437.1 376.8,1437.1 377.8,1437.1 378.8,1437.1 379.8,1437.1 380.8,1437.1 381.8,1437.1 382.8,1437.1 383.8,1437.1 384.8,1437.1 385.8,1437.1 386.8,1437.1 387.8,1437.1 388.8,1437.1 389.8,1437.1 390.8,1437.1 391.8,1437.1 392.8,1437.1 393.8,1437.1 394.8,1437.1 395.8,1437.1 396.8,1437.0 397.8,1437.0 398.8,1437.0 399.8,1437.0 400.8,1437.0 401.8,1437.0 402.8,1437.0 403.8,1437.0 404.8,1437.0 405.8,1437.0 406.8,1437.0 407.8,1437.0 408.8,1436.9 409.8,1436.9 410.8,1436.9 411.8,1436.9 412.8,1436.9 413.8,1436.9 414.8,1436.9 415.8,1436.9 416.8,1436.8 417.8,1436.8 418.8,1436.8 419.8,1436.8 420.8,1436.8 421.8,1436.8 422.8,1436.7 423.8,1436.7 424.8,1436.7 425.8,1436.7 426.8,1436.7 427.8,1436.6 428.8,1436.6 429.8,1436.6 430.8,1436.6 431.8,1436.5 432.8,1436.5 433.8,1436.5 434.8,1436.5 435.8,1436.4 436.8,1436.4 437.8,1436.4 438.8,1436.3 439.8,1436.3 440.8,1436.3 441.8,1436.2 442.8,1436.2 443.8,1436.2 444.8,1436.1 445.8,1436.1 446.8,1436.0 447.8,1436.0 448.8,1436.0 449.8,1435.9 450.8,1435.9 451.8,1435.8 452.8,1435.8 453.8,1435.7 454.8,1435.7 455.8,1435.6 456.8,1435.6 457.8,1435.5 458.8,1435.5 459.8,1435.4 460.8,1435.3 461.8,1435.3 462.8,1435.2 463.8,1435.2 464.8,1435.1 465.8,1435.0 466.8,1435.0 467.8,1434.9 468.8,1434.8 469.8,1434.8 470.8,1434.7 471.8,1434.6 472.8,1434.5 473.8,1434.5 474.8,1434.4 475.8,1434.3 476.8,1434.2 477.8,1434.1 478.8,1434.0 479.8,1434.0 480.8,1433.9 481.8,1433.8 482.8,1433.7 483.8,1433.6 484.8,1433.5 485.8,1433.4 486.8,1433.3 487.8,1433.2 488.8,1433.1 489.8,1433.0 490.8,1432.9 491.8,1432.8 492.8,1432.7 493.8,1432.6 494.8,1432.5 495.8,1432.4 496.8,1432.3 497.8,1432.2 498.8,1432.1 499.8,1432.0 500.8,1431.9 501.8,1431.8 502.8,1431.8 503.8,1431.7 504.8,1431.6 505.8,1431.5 506.8,1431.4 507.8,1431.3 508.8,1431.2 509.8,1431.1 510.8,1431.0 511.8,1430.9 512.8,1430.8 513.8,1430.8 514.8,1430.7 515.8,1430.6 516.8,1430.5 517.8,1430.4 518.8,1430.3 519.8,1430.2 520.8,1430.2 521.8,1430.1 522.8,1430.0 523.8,1429.9 524.8,1429.8 525.8,1429.8 526.8,1429.7 527.8,1429.6 528.8,1429.5 529.8,1429.4 530.8,1429.4 531.8,1429.3 532.8,1429.2 533.8,1429.1 534.8,1429.1 535.8,1429.0 536.8,1428.9 537.8,1428.8 538.8,1428.7 539.8,1428.7 540.8,1428.6 541.8,1428.5 542.8,1428.5 543.8,1428.4 544.8,1428.3 545.8,1428.2 546.8,1428.2 547.8,1428.1 548.8,1428.0 549.8,1428.0 550.8,1427.9 551.8,1427.8 552.8,1427.8 553.8,1427.7 554.8,1427.6 555.8,1427.6 556.8,1427.5 557.8,1427.5 558.8,1427.4 559.8,1427.3 560.8,1427.3 561.8,1427.2 562.8,1427.2 563.8,1427.1 564.8,1427.1 565.8,1427.0 566.8,1427.0 567.8,1426.9 568.8,1426.9 569.8,1426.8 570.8,1426.8 571.8,1426.7 572.8,1426.7 573.8,1426.6 574.8,1426.6 575.8,1426.6 576.8,1426.5 577.8,1426.5 578.8,1426.4 579.8,1426.4 580.8,1426.4 581.8,1426.3 582.8,1426.3 583.8,1426.2 584.8,1426.2 585.8,1426.2 586.8,1426.1 587.8,1426.1 588.8,1426.1 589.8,1426.0 590.8,1426.0 591.8,1426.0 592.8,1426.0 593.8,1425.9 594.8,1425.9 595.8,1425.9 596.8,1425.9 597.8,1425.8 598.8,1425.8 599.8,1425.8 600.8,1425.8 601.8,1425.7 602.8,1425.7 603.8,1425.7 604.8,1425.7 605.8,1425.6 606.8,1425.6 607.8,1425.6 608.8,1425.6 609.8,1425.6 610.8,1425.5 611.8,1425.5 612.8,1425.5 613.8,1425.5 614.8,1425.5 615.8,1425.4 616.8,1425.4 617.8,1425.4 618.8,1425.4 619.8,1425.4 620.8,1425.4 621.8,1425.3 622.8,1425.3 623.8,1425.3 624.8,1425.3 625.8,1425.3 626.8,1425.3 627.8,1425.3 628.8,1425.3 629.8,1425.2 630.8,1425.2 631.8,1425.2 632.8,1425.2 633.8,1425.2 634.8,1425.2 635.8,1425.2 636.8,1425.2 637.8,1425.1 638.8,1425.1 639.8,1425.1 640.8,1425.1 641.8,1425.1 642.8,1425.1 643.8,1425.1 644.8,1425.1 645.8,1425.1 646.8,1425.1 647.8,1425.1 648.8,1425.0 649.8,1425.0 650.8,1425.0 651.8,1425.0 652.8,1425.0 653.8,1425.0 654.8,1425.0 655.8,1425.0 656.8,1425.0 657.8,1425.0 658.8,1425.0 659.8,1425.0 660.8,1425.0 661.8,1425.0 662.8,1424.9 663.8,1424.9 664.8,1424.9 665.8,1424.9 666.8,1424.9 667.8,1424.9 668.8,1424.9 669.8,1424.9 670.8,1424.9 671.8,1424.9 672.8,1424.9 673.8,1424.9 674.8,1424.9 675.8,1424.9 676.8,1424.9 677.8,1424.9 678.8,1424.9 679.8,1424.9 680.8,1424.9 681.8,1424.9 682.8,1424.8 683.8,1424.8 684.8,1424.8 685.8,1424.8 686.8,1424.8 687.8,1424.8 688.8,1424.8 689.8,1424.8 690.8,1424.8 691.8,1424.8 692.8,1424.8 693.8,1424.8 694.8,1424.8 695.8,1424.8 696.8,1424.8 697.8,1424.8 698.8,1424.8 699.8,1424.8 700.8,1424.8 701.8,1424.8 702.8,1424.8 703.8,1424.8 704.8,1424.8 705.8,1424.8 706.8,1424.8 707.8,1424.8 708.8,1424.8 709.8,1424.8 710.8,1424.8 711.8,1424.8 712.8,1424.8 713.8,1424.8 714.8,1424.8 715.8,1424.7 716.8,1424.7 717.8,1424.7 718.8,1424.7 719.8,1424.7 720.8,1424.7 721.8,1424.7 722.8,1424.7 723.8,1424.7 724.8,1424.7 725.8,1424.7 726.8,1424.7 727.8,1424.7 728.8,1424.7 729.8,1424.7 730.8,1424.7 731.8,1424.7 732.8,1424.7 733.8,1424.7 734.8,1424.7 735.8,1424.7 736.8,1424.7 737.8,1424.7 738.8,1424.7 739.8,1424.7 740.8,1424.7 741.8,1424.7 742.8,1424.7 743.8,1424.7 744.8,1424.7 745.8,1424.7 746.8,1424.7 747.8,1424.7 748.8,1424.7 749.8,1424.7 750.8,1424.7 751.8,1424.7 752.8,1424.7 753.8,1424.7 754.8,1424.7 755.8,1424.7 756.8,1424.7 757.8,1424.7 758.8,1424.7 759.8,1424.7 760.8,1424.7 761.8,1424.7 762.8,1424.7 763.8,1424.7 764.8,1424.7 765.8,1424.7 766.8,1424.7 767.8,1424.7 768.8,1424.7 769.8,1424.7 770.8,1424.7 771.8,1424.6 772.8,1424.6 773.8,1424.6 774.8,1424.6 775.8,1424.6 776.8,1424.6 777.8,1424.6 778.8,1424.6 779.8,1424.6 780.8,1424.6 781.8,1424.6 782.8,1424.6 783.8,1424.6 784.8,1424.6 785.8,1424.6 786.8,1424.6 787.8,1424.6 788.8,1424.6 789.8,1424.6 790.8,1424.6 791.8,1424.6 792.8,1424.6 793.8,1424.6 794.8,1424.6 795.8,1424.6 796.8,1424.6 797.8,1424.6 798.8,1424.6 799.8,1424.6 800.8,1424.6 801.8,1424.6 802.8,1424.6 803.8,1424.6 804.8,1424.6 805.8,1424.6 806.8,1424.6 807.8,1424.6 808.8,1424.6 809.8,1424.6 810.8,1424.6 811.8,1424.6 812.8,1424.6 813.8,1424.6 814.8,1424.6 815.8,1424.6 816.8,1424.6 817.8,1424.6 818.8,1424.6 819.8,1424.6 820.8,1424.6 821.8,1424.6 822.8,1424.6 823.8,1424.6 824.8,1424.6 825.8,1424.6 826.8,1424.6 827.8,1424.6 828.8,1424.6 829.8,1424.6 830.8,1424.6 831.8,1424.6 832.8,1424.6 833.8,1424.6 834.8,1424.6 835.8,1424.6 836.8,1424.6 837.8,1424.6 838.8,1424.6 839.8,1424.6 840.8,1424.6 841.8,1424.6 842.8,1424.6 843.8,1424.6 844.8,1424.6 845.8,1424.6 846.8,1424.6 847.8,1424.6 848.8,1424.6 849.8,1424.6 850.8,1424.6 851.8,1424.6 852.8,1424.6 853.8,1424.6 854.8,1424.6 855.8,1424.6 856.8,1424.6 857.8,1424.6 858.8,1424.6 859.8,1424.6 860.8,1424.6 861.8,1424.6 862.8,1424.6 863.8,1424.6 864.8,1424.6 865.8,1424.6 866.8,1424.6 867.8,1424.6 868.8,1424.6 869.8,1424.6 870.8,1424.6 871.8,1424.6 872.8,1424.6 873.8,1424.6 874.8,1424.6 875.8,1424.6 876.8,1424.6 877.8,1424.6 878.8,1424.6 879.8,1424.6 880.8,1424.5 881.8,1424.5 882.8,1424.5 883.8,1424.5 884.8,1424.5 885.8,1424.5 886.8,1424.5 887.8,1424.5 888.8,1424.5 889.8,1424.5 890.8,1424.5 891.8,1424.5 892.8,1424.5 893.8,1424.5 894.8,1424.5 895.8,1424.5 896.8,1424.5 897.8,1424.5 898.8,1424.5 899.8,1424.5 900.8,1424.5 901.8,1424.5 902.8,1424.5 903.8,1424.5 904.8,1424.5 905.8,1424.5 906.8,1424.5 907.8,1424.5 908.8,1424.5 909.8,1424.5 910.8,1424.5 911.8,1424.5 912.8,1424.5 913.8,1424.5 914.8,1424.5 915.8,1424.5 916.8,1424.5 917.8,1424.5 918.8,1424.5 919.8,1424.5 920.8,1424.5 921.8,1424.5 922.8,1424.5 923.8,1424.5 924.8,1424.5 925.8,1424.5 926.8,1424.5 927.8,1424.5 928.8,1424.5 929.8,1424.5 930.8,1424.5 931.8,1424.5 932.8,1424.5 933.8,1424.5 934.8,1424.5 935.8,1424.5 936.8,1424.5 937.8,1424.5 938.8,1424.5 939.8,1424.5 940.8,1424.5 941.8,1424.5" fill="none" stroke="#808000" stroke-width="2.6" stroke-linejoin="round" stroke-linecap="round"/>
<polyline points="232.8,1435.3 233.8,1435.3 234.8,1435.3 235.8,1435.3 236.8,1435.2 237.8,1435.2 238.8,1435.2 239.8,1435.2 240.8,1435.2 241.8,1435.2 242.8,1435.1 243.8,1435.1 244.8,1435.1 245.8,1435.1 246.8,1435.1 247.8,1435.1 248.8,1435.0 249.8,1435.0 250.8,1435.0 251.8,1435.0 252.8,1435.0 253.8,1435.0 254.8,1434.9 255.8,1434.9 256.8,1434.9 257.8,1434.9 258.8,1434.9 259.8,1434.8 260.8,1434.8 261.8,1434.8 262.8,1434.8 263.8,1434.8 264.8,1434.8 265.8,1434.7 266.8,1434.7 267.8,1434.7 268.8,1434.7 269.8,1434.6 270.8,1434.6 271.8,1434.6 272.8,1434.6 273.8,1434.6 274.8,1434.5 275.8,1434.5 276.8,1434.5 277.8,1434.5 278.8,1434.4 279.8,1434.4 280.8,1434.4 281.8,1434.4 282.8,1434.3 283.8,1434.3 284.8,1434.3 285.8,1434.3 286.8,1434.2 287.8,1434.2 288.8,1434.2 289.8,1434.2 290.8,1434.1 291.8,1434.1 292.8,1434.1 293.8,1434.0 294.8,1434.0 295.8,1434.0 296.8,1433.9 297.8,1433.9 298.8,1433.9 299.8,1433.8 300.8,1433.8 301.8,1433.8 302.8,1433.7 303.8,1433.7 304.8,1433.7 305.8,1433.6 306.8,1433.6 307.8,1433.6 308.8,1433.5 309.8,1433.5 310.8,1433.4 311.8,1433.4 312.8,1433.4 313.8,1433.3 314.8,1433.3 315.8,1433.2 316.8,1433.2 317.8,1433.1 318.8,1433.1 319.8,1433.0 320.8,1433.0 321.8,1432.9 322.8,1432.9 323.8,1432.8 324.8,1432.8 325.8,1432.7 326.8,1432.6 327.8,1432.6 328.8,1432.5 329.8,1432.4 330.8,1432.4 331.8,1432.3 332.8,1432.2 333.8,1432.2 334.8,1432.1 335.8,1432.0 336.8,1431.9 337.8,1431.8 338.8,1431.7 339.8,1431.7 340.8,1431.6 341.8,1431.5 342.8,1431.4 343.8,1431.3 344.8,1431.1 345.8,1431.0 346.8,1430.9 347.8,1430.8 348.8,1430.6 349.8,1430.5 350.8,1430.4 351.8,1430.2 352.8,1430.1 353.8,1429.9 354.8,1429.7 355.8,1429.5 356.8,1429.4 357.8,1429.2 358.8,1429.0 359.8,1428.7 360.8,1428.5 361.8,1428.3 362.8,1428.0 363.8,1427.8 364.8,1427.5 365.8,1427.2 366.8,1426.9 367.8,1426.6 368.8,1426.3 369.8,1425.9 370.8,1425.6 371.8,1425.2 372.8,1424.8 373.8,1424.4 374.8,1423.9 375.8,1423.4 376.8,1423.0 377.8,1422.4 378.8,1421.9 379.8,1421.3 380.8,1420.8 381.8,1420.1 382.8,1419.5 383.8,1418.8 384.8,1418.1 385.8,1417.3 386.8,1416.5 387.8,1415.7 388.8,1414.9 389.8,1414.0 390.8,1413.0 391.8,1412.0 392.8,1411.0 393.8,1409.9 394.8,1408.8 395.8,1407.6 396.8,1406.4 397.8,1405.1 398.8,1403.8 399.8,1402.4 400.8,1400.9 401.8,1399.4 402.8,1397.8 403.8,1396.2 404.8,1394.5 405.8,1392.7 406.8,1390.9 407.8,1389.0 408.8,1387.0 409.8,1385.0 410.8,1382.8 411.8,1380.6 412.8,1378.3 413.8,1376.0 414.8,1373.5 415.8,1371.0 416.8,1368.4 417.8,1365.7 418.8,1362.9 419.8,1360.1 420.8,1357.1 421.8,1354.1 422.8,1351.0 423.8,1347.7 424.8,1344.4 425.8,1341.0 426.8,1337.5 427.8,1334.0 428.8,1330.3 429.8,1326.5 430.8,1322.7 431.8,1318.7 432.8,1314.7 433.8,1310.5 434.8,1306.3 435.8,1302.0 436.8,1297.6 437.8,1293.1 438.8,1288.5 439.8,1283.8 440.8,1279.0 441.8,1274.2 442.8,1269.3 443.8,1264.2 444.8,1259.1 445.8,1253.9 446.8,1248.7 447.8,1243.3 448.8,1237.9 449.8,1232.3 450.8,1226.7 451.8,1221.0 452.8,1215.3 453.8,1209.4 454.8,1203.5 455.8,1197.5 456.8,1191.4 457.8,1185.2 458.8,1178.9 459.8,1172.5 460.8,1166.1 461.8,1159.6 462.8,1152.9 463.8,1146.2 464.8,1139.4 465.8,1132.5 466.8,1125.5 467.8,1118.4 468.8,1111.2 469.8,1103.9 470.8,1096.5 471.8,1089.0 472.8,1081.5 473.8,1074.0 474.8,1066.4 475.8,1058.8 476.8,1051.2 477.8,1043.7 478.8,1036.3 479.8,1029.1 480.8,1022.1 481.8,1015.4 482.8,1009.1 483.8,1003.3 484.8,997.9 485.8,993.2 486.8,989.0 487.8,985.6 488.8,982.8 489.8,980.8 490.8,979.3 491.8,978.3 492.8,978.0 493.8,978.1 494.8,978.7 495.8,979.8 496.8,981.2 497.8,983.1 498.8,985.2 499.8,987.6 500.8,990.3 501.8,993.2 502.8,996.2 503.8,999.3 504.8,1002.5 505.8,1005.7 506.8,1009.0 507.8,1012.3 508.8,1015.5 509.8,1018.8 510.8,1021.9 511.8,1025.0 512.8,1028.1 513.8,1031.0 514.8,1033.9 515.8,1036.6 516.8,1039.3 517.8,1041.9 518.8,1044.4 519.8,1046.8 520.8,1049.1 521.8,1051.3 522.8,1053.4 523.8,1055.4 524.8,1057.4 525.8,1059.3 526.8,1061.2 527.8,1063.0 528.8,1064.8 529.8,1066.6 530.8,1068.3 531.8,1070.1 532.8,1071.8 533.8,1073.7 534.8,1075.5 535.8,1077.4 536.8,1079.4 537.8,1081.5 538.8,1083.7 539.8,1086.1 540.8,1088.5 541.8,1091.1 542.8,1093.8 543.8,1096.7 544.8,1099.7 545.8,1102.9 546.8,1106.2 547.8,1109.7 548.8,1113.4 549.8,1117.2 550.8,1121.1 551.8,1125.2 552.8,1129.3 553.8,1133.6 554.8,1138.0 555.8,1142.5 556.8,1147.1 557.8,1151.7 558.8,1156.4 559.8,1161.1 560.8,1165.8 561.8,1170.6 562.8,1175.3 563.8,1180.1 564.8,1184.9 565.8,1189.6 566.8,1194.3 567.8,1198.9 568.8,1203.6 569.8,1208.1 570.8,1212.6 571.8,1217.1 572.8,1221.4 573.8,1225.8 574.8,1230.0 575.8,1234.2 576.8,1238.3 577.8,1242.3 578.8,1246.2 579.8,1250.1 580.8,1253.9 581.8,1257.6 582.8,1261.2 583.8,1264.8 584.8,1268.3 585.8,1271.7 586.8,1275.0 587.8,1278.3 588.8,1281.4 589.8,1284.6 590.8,1287.6 591.8,1290.6 592.8,1293.5 593.8,1296.4 594.8,1299.2 595.8,1301.9 596.8,1304.6 597.8,1307.2 598.8,1309.7 599.8,1312.2 600.8,1314.7 601.8,1317.1 602.8,1319.4 603.8,1321.7 604.8,1323.9 605.8,1326.1 606.8,1328.3 607.8,1330.4 608.8,1332.4 609.8,1334.5 610.8,1336.4 611.8,1338.4 612.8,1340.3 613.8,1342.1 614.8,1343.9 615.8,1345.7 616.8,1347.5 617.8,1349.2 618.8,1350.8 619.8,1352.5 620.8,1354.1 621.8,1355.6 622.8,1357.2 623.8,1358.7 624.8,1360.1 625.8,1361.6 626.8,1363.0 627.8,1364.4 628.8,1365.7 629.8,1367.0 630.8,1368.3 631.8,1369.6 632.8,1370.8 633.8,1372.0 634.8,1373.2 635.8,1374.4 636.8,1375.5 637.8,1376.6 638.8,1377.7 639.8,1378.8 640.8,1379.8 641.8,1380.8 642.8,1381.8 643.8,1382.7 644.8,1383.7 645.8,1384.6 646.8,1385.5 647.8,1386.4 648.8,1387.2 649.8,1388.1 650.8,1388.9 651.8,1389.7 652.8,1390.4 653.8,1391.2 654.8,1391.9 655.8,1392.7 656.8,1393.4 657.8,1394.0 658.8,1394.7 659.8,1395.4 660.8,1396.0 661.8,1396.6 662.8,1397.2 663.8,1397.8 664.8,1398.4 665.8,1398.9 666.8,1399.5 667.8,1400.0 668.8,1400.5 669.8,1401.0 670.8,1401.5 671.8,1401.9 672.8,1402.4 673.8,1402.9 674.8,1403.3 675.8,1403.7 676.8,1404.1 677.8,1404.5 678.8,1404.9 679.8,1405.3 680.8,1405.7 681.8,1406.0 682.8,1406.4 683.8,1406.7 684.8,1407.0 685.8,1407.4 686.8,1407.7 687.8,1408.0 688.8,1408.3 689.8,1408.6 690.8,1408.8 691.8,1409.1 692.8,1409.4 693.8,1409.6 694.8,1409.9 695.8,1410.1 696.8,1410.4 697.8,1410.6 698.8,1410.8 699.8,1411.0 700.8,1411.2 701.8,1411.5 702.8,1411.7 703.8,1411.8 704.8,1412.0 705.8,1412.2 706.8,1412.4 707.8,1412.6 708.8,1412.8 709.8,1412.9 710.8,1413.1 711.8,1413.2 712.8,1413.4 713.8,1413.5 714.8,1413.7 715.8,1413.8 716.8,1414.0 717.8,1414.1 718.8,1414.3 719.8,1414.4 720.8,1414.5 721.8,1414.6 722.8,1414.8 723.8,1414.9 724.8,1415.0 725.8,1415.1 726.8,1415.2 727.8,1415.3 728.8,1415.4 729.8,1415.5 730.8,1415.6 731.8,1415.7 732.8,1415.8 733.8,1415.9 734.8,1416.0 735.8,1416.1 736.8,1416.2 737.8,1416.3 738.8,1416.4 739.8,1416.5 740.8,1416.5 741.8,1416.6 742.8,1416.7 743.8,1416.8 744.8,1416.9 745.8,1416.9 746.8,1417.0 747.8,1417.1 748.8,1417.2 749.8,1417.2 750.8,1417.3 751.8,1417.4 752.8,1417.4 753.8,1417.5 754.8,1417.6 755.8,1417.6 756.8,1417.7 757.8,1417.7 758.8,1417.8 759.8,1417.9 760.8,1417.9 761.8,1418.0 762.8,1418.0 763.8,1418.1 764.8,1418.2 765.8,1418.2 766.8,1418.3 767.8,1418.3 768.8,1418.4 769.8,1418.4 770.8,1418.5 771.8,1418.5 772.8,1418.6 773.8,1418.6 774.8,1418.7 775.8,1418.7 776.8,1418.8 777.8,1418.8 778.8,1418.9 779.8,1418.9 780.8,1418.9 781.8,1419.0 782.8,1419.0 783.8,1419.1 784.8,1419.1 785.8,1419.2 786.8,1419.2 787.8,1419.2 788.8,1419.3 789.8,1419.3 790.8,1419.4 791.8,1419.4 792.8,1419.4 793.8,1419.5 794.8,1419.5 795.8,1419.6 796.8,1419.6 797.8,1419.6 798.8,1419.7 799.8,1419.7 800.8,1419.7 801.8,1419.8 802.8,1419.8 803.8,1419.8 804.8,1419.9 805.8,1419.9 806.8,1419.9 807.8,1420.0 808.8,1420.0 809.8,1420.0 810.8,1420.1 811.8,1420.1 812.8,1420.1 813.8,1420.2 814.8,1420.2 815.8,1420.2 816.8,1420.2 817.8,1420.3 818.8,1420.3 819.8,1420.3 820.8,1420.4 821.8,1420.4 822.8,1420.4 823.8,1420.4 824.8,1420.5 825.8,1420.5 826.8,1420.5 827.8,1420.5 828.8,1420.6 829.8,1420.6 830.8,1420.6 831.8,1420.6 832.8,1420.7 833.8,1420.7 834.8,1420.7 835.8,1420.7 836.8,1420.8 837.8,1420.8 838.8,1420.8 839.8,1420.8 840.8,1420.9 841.8,1420.9 842.8,1420.9 843.8,1420.9 844.8,1421.0 845.8,1421.0 846.8,1421.0 847.8,1421.0 848.8,1421.0 849.8,1421.1 850.8,1421.1 851.8,1421.1 852.8,1421.1 853.8,1421.1 854.8,1421.2 855.8,1421.2 856.8,1421.2 857.8,1421.2 858.8,1421.2 859.8,1421.3 860.8,1421.3 861.8,1421.3 862.8,1421.3 863.8,1421.3 864.8,1421.4 865.8,1421.4 866.8,1421.4 867.8,1421.4 868.8,1421.4 869.8,1421.4 870.8,1421.5 871.8,1421.5 872.8,1421.5 873.8,1421.5 874.8,1421.5 875.8,1421.5 876.8,1421.6 877.8,1421.6 878.8,1421.6 879.8,1421.6 880.8,1421.6 881.8,1421.6 882.8,1421.7 883.8,1421.7 884.8,1421.7 885.8,1421.7 886.8,1421.7 887.8,1421.7 888.8,1421.8 889.8,1421.8 890.8,1421.8 891.8,1421.8 892.8,1421.8 893.8,1421.8 894.8,1421.8 895.8,1421.9 896.8,1421.9 897.8,1421.9 898.8,1421.9 899.8,1421.9 900.8,1421.9 901.8,1421.9 902.8,1421.9 903.8,1422.0 904.8,1422.0 905.8,1422.0 906.8,1422.0 907.8,1422.0 908.8,1422.0 909.8,1422.0 910.8,1422.1 911.8,1422.1 912.8,1422.1 913.8,1422.1 914.8,1422.1 915.8,1422.1 916.8,1422.1 917.8,1422.1 918.8,1422.1 919.8,1422.2 920.8,1422.2 921.8,1422.2 922.8,1422.2 923.8,1422.2 924.8,1422.2 925.8,1422.2 926.8,1422.2 927.8,1422.2 928.8,1422.3 929.8,1422.3 930.8,1422.3 931.8,1422.3 932.8,1422.3 933.8,1422.3 934.8,1422.3 935.8,1422.3 936.8,1422.3 937.8,1422.4 938.8,1422.4 939.8,1422.4 940.8,1422.4 941.8,1422.4" fill="none" stroke="#ff8000" stroke-width="2.8" stroke-linejoin="round" stroke-linecap="round"/>
<polyline points="232.8,1436.5 233.8,1436.5 234.8,1436.5 235.8,1436.5 236.8,1436.5 237.8,1436.5 238.8,1436.5 239.8,1436.5 240.8,1436.5 241.8,1436.4 242.8,1436.4 243.8,1436.4 244.8,1436.4 245.8,1436.4 246.8,1436.4 247.8,1436.4 248.8,1436.4 249.8,1436.4 250.8,1436.4 251.8,1436.4 252.8,1436.4 253.8,1436.4 254.8,1436.3 255.8,1436.3 256.8,1436.3 257.8,1436.3 258.8,1436.3 259.8,1436.3 260.8,1436.3 261.8,1436.3 262.8,1436.3 263.8,1436.3 264.8,1436.3 265.8,1436.2 266.8,1436.2 267.8,1436.2 268.8,1436.2 269.8,1436.2 270.8,1436.2 271.8,1436.2 272.8,1436.2 273.8,1436.2 274.8,1436.2 275.8,1436.1 276.8,1436.1 277.8,1436.1 278.8,1436.1 279.8,1436.1 280.8,1436.1 281.8,1436.1 282.8,1436.1 283.8,1436.0 284.8,1436.0 285.8,1436.0 286.8,1436.0 287.8,1436.0 288.8,1436.0 289.8,1436.0 290.8,1436.0 291.8,1435.9 292.8,1435.9 293.8,1435.9 294.8,1435.9 295.8,1435.9 296.8,1435.9 297.8,1435.9 298.8,1435.8 299.8,1435.8 300.8,1435.8 301.8,1435.8 302.8,1435.8 303.8,1435.8 304.8,1435.7 305.8,1435.7 306.8,1435.7 307.8,1435.7 308.8,1435.7 309.8,1435.7 310.8,1435.6 311.8,1435.6 312.8,1435.6 313.8,1435.6 314.8,1435.6 315.8,1435.5 316.8,1435.5 317.8,1435.5 318.8,1435.5 319.8,1435.4 320.8,1435.4 321.8,1435.4 322.8,1435.4 323.8,1435.3 324.8,1435.3 325.8,1435.3 326.8,1435.3 327.8,1435.2 328.8,1435.2 329.8,1435.2 330.8,1435.1 331.8,1435.1 332.8,1435.1 333.8,1435.0 334.8,1435.0 335.8,1435.0 336.8,1434.9 337.8,1434.9 338.8,1434.8 339.8,1434.8 340.8,1434.7 341.8,1434.7 342.8,1434.6 343.8,1434.6 344.8,1434.5 345.8,1434.5 346.8,1434.4 347.8,1434.3 348.8,1434.3 349.8,1434.2 350.8,1434.1 351.8,1434.0 352.8,1433.9 353.8,1433.9 354.8,1433.8 355.8,1433.7 356.8,1433.6 357.8,1433.4 358.8,1433.3 359.8,1433.2 360.8,1433.1 361.8,1432.9 362.8,1432.8 363.8,1432.6 364.8,1432.5 365.8,1432.3 366.8,1432.1 367.8,1431.9 368.8,1431.7 369.8,1431.5 370.8,1431.3 371.8,1431.0 372.8,1430.7 373.8,1430.5 374.8,1430.2 375.8,1429.9 376.8,1429.6 377.8,1429.2 378.8,1428.8 379.8,1428.5 380.8,1428.1 381.8,1427.6 382.8,1427.2 383.8,1426.7 384.8,1426.2 385.8,1425.7 386.8,1425.1 387.8,1424.5 388.8,1423.9 389.8,1423.3 390.8,1422.6 391.8,1421.9 392.8,1421.1 393.8,1420.3 394.8,1419.5 395.8,1418.7 396.8,1417.7 397.8,1416.8 398.8,1415.8 399.8,1414.8 400.8,1413.7 401.8,1412.5 402.8,1411.4 403.8,1410.1 404.8,1408.8 405.8,1407.5 406.8,1406.1 407.8,1404.6 408.8,1403.1 409.8,1401.5 410.8,1399.9 411.8,1398.2 412.8,1396.4 413.8,1394.6 414.8,1392.7 415.8,1390.8 416.8,1388.7 417.8,1386.6 418.8,1384.5 419.8,1382.3 420.8,1379.9 421.8,1377.6 422.8,1375.1 423.8,1372.6 424.8,1370.0 425.8,1367.4 426.8,1364.6 427.8,1361.8 428.8,1358.9 429.8,1356.0 430.8,1352.9 431.8,1349.9 432.8,1346.7 433.8,1343.4 434.8,1340.1 435.8,1336.7 436.8,1333.3 437.8,1329.8 438.8,1326.2 439.8,1322.5 440.8,1318.8 441.8,1315.0 442.8,1311.1 443.8,1307.2 444.8,1303.2 445.8,1299.2 446.8,1295.1 447.8,1290.9 448.8,1286.7 449.8,1282.4 450.8,1278.1 451.8,1273.7 452.8,1269.2 453.8,1264.7 454.8,1260.1 455.8,1255.5 456.8,1250.8 457.8,1246.0 458.8,1241.2 459.8,1236.3 460.8,1231.4 461.8,1226.4 462.8,1221.3 463.8,1216.1 464.8,1210.9 465.8,1205.6 466.8,1200.2 467.8,1194.8 468.8,1189.3 469.8,1183.7 470.8,1178.0 471.8,1172.3 472.8,1166.6 473.8,1160.8 474.8,1155.0 475.8,1149.2 476.8,1143.5 477.8,1137.9 478.8,1132.5 479.8,1127.2 480.8,1122.2 481.8,1117.5 482.8,1113.1 483.8,1109.3 484.8,1106.0 485.8,1103.3 486.8,1101.3 487.8,1099.9 488.8,1099.3 489.8,1099.4 490.8,1100.1 491.8,1101.4 492.8,1103.2 493.8,1105.6 494.8,1108.5 495.8,1111.9 496.8,1115.7 497.8,1119.9 498.8,1124.4 499.8,1129.3 500.8,1134.4 501.8,1139.7 502.8,1145.2 503.8,1150.9 504.8,1156.6 505.8,1162.5 506.8,1168.3 507.8,1174.3 508.8,1180.2 509.8,1186.1 510.8,1192.0 511.8,1197.9 512.8,1203.7 513.8,1209.4 514.8,1215.1 515.8,1220.8 516.8,1226.3 517.8,1231.8 518.8,1237.2 519.8,1242.5 520.8,1247.7 521.8,1252.9 522.8,1257.9 523.8,1262.9 524.8,1267.7 525.8,1272.5 526.8,1277.2 527.8,1281.8 528.8,1286.3 529.8,1290.7 530.8,1295.0 531.8,1299.2 532.8,1303.4 533.8,1307.4 534.8,1311.4 535.8,1315.2 536.8,1319.0 537.8,1322.6 538.8,1326.2 539.8,1329.7 540.8,1333.1 541.8,1336.4 542.8,1339.6 543.8,1342.8 544.8,1345.8 545.8,1348.8 546.8,1351.6 547.8,1354.4 548.8,1357.1 549.8,1359.7 550.8,1362.3 551.8,1364.7 552.8,1367.1 553.8,1369.3 554.8,1371.6 555.8,1373.7 556.8,1375.7 557.8,1377.7 558.8,1379.6 559.8,1381.5 560.8,1383.2 561.8,1384.9 562.8,1386.6 563.8,1388.1 564.8,1389.6 565.8,1391.1 566.8,1392.4 567.8,1393.8 568.8,1395.0 569.8,1396.3 570.8,1397.4 571.8,1398.5 572.8,1399.6 573.8,1400.6 574.8,1401.6 575.8,1402.5 576.8,1403.4 577.8,1404.2 578.8,1405.0 579.8,1405.8 580.8,1406.5 581.8,1407.2 582.8,1407.8 583.8,1408.5 584.8,1409.0 585.8,1409.6 586.8,1410.1 587.8,1410.7 588.8,1411.1 589.8,1411.6 590.8,1412.0 591.8,1412.4 592.8,1412.8 593.8,1413.2 594.8,1413.6 595.8,1413.9 596.8,1414.2 597.8,1414.5 598.8,1414.8 599.8,1415.1 600.8,1415.4 601.8,1415.6 602.8,1415.8 603.8,1416.1 604.8,1416.3 605.8,1416.5 606.8,1416.7 607.8,1416.9 608.8,1417.0 609.8,1417.2 610.8,1417.4 611.8,1417.5 612.8,1417.7 613.8,1417.8 614.8,1417.9 615.8,1418.1 616.8,1418.2 617.8,1418.3 618.8,1418.4 619.8,1418.5 620.8,1418.6 621.8,1418.7 622.8,1418.8 623.8,1418.9 624.8,1419.0 625.8,1419.1 626.8,1419.2 627.8,1419.3 628.8,1419.4 629.8,1419.4 630.8,1419.5 631.8,1419.6 632.8,1419.7 633.8,1419.7 634.8,1419.8 635.8,1419.9 636.8,1419.9 637.8,1420.0 638.8,1420.0 639.8,1420.1 640.8,1420.2 641.8,1420.2 642.8,1420.3 643.8,1420.3 644.8,1420.4 645.8,1420.4 646.8,1420.5 647.8,1420.5 648.8,1420.6 649.8,1420.6 650.8,1420.7 651.8,1420.7 652.8,1420.8 653.8,1420.8 654.8,1420.8 655.8,1420.9 656.8,1420.9 657.8,1421.0 658.8,1421.0 659.8,1421.0 660.8,1421.1 661.8,1421.1 662.8,1421.2 663.8,1421.2 664.8,1421.2 665.8,1421.3 666.8,1421.3 667.8,1421.3 668.8,1421.4 669.8,1421.4 670.8,1421.4 671.8,1421.5 672.8,1421.5 673.8,1421.5 674.8,1421.6 675.8,1421.6 676.8,1421.6 677.8,1421.6 678.8,1421.7 679.8,1421.7 680.8,1421.7 681.8,1421.8 682.8,1421.8 683.8,1421.8 684.8,1421.8 685.8,1421.9 686.8,1421.9 687.8,1421.9 688.8,1421.9 689.8,1422.0 690.8,1422.0 691.8,1422.0 692.8,1422.0 693.8,1422.1 694.8,1422.1 695.8,1422.1 696.8,1422.1 697.8,1422.2 698.8,1422.2 699.8,1422.2 700.8,1422.2 701.8,1422.2 702.8,1422.3 703.8,1422.3 704.8,1422.3 705.8,1422.3 706.8,1422.3 707.8,1422.4 708.8,1422.4 709.8,1422.4 710.8,1422.4 711.8,1422.4 712.8,1422.4 713.8,1422.5 714.8,1422.5 715.8,1422.5 716.8,1422.5 717.8,1422.5 718.8,1422.6 719.8,1422.6 720.8,1422.6 721.8,1422.6 722.8,1422.6 723.8,1422.6 724.8,1422.6 725.8,1422.7 726.8,1422.7 727.8,1422.7 728.8,1422.7 729.8,1422.7 730.8,1422.7 731.8,1422.8 732.8,1422.8 733.8,1422.8 734.8,1422.8 735.8,1422.8 736.8,1422.8 737.8,1422.8 738.8,1422.8 739.8,1422.9 740.8,1422.9 741.8,1422.9 742.8,1422.9 743.8,1422.9 744.8,1422.9 745.8,1422.9 746.8,1422.9 747.8,1423.0 748.8,1423.0 749.8,1423.0 750.8,1423.0 751.8,1423.0 752.8,1423.0 753.8,1423.0 754.8,1423.0 755.8,1423.0 756.8,1423.1 757.8,1423.1 758.8,1423.1 759.8,1423.1 760.8,1423.1 761.8,1423.1 762.8,1423.1 763.8,1423.1 764.8,1423.1 765.8,1423.1 766.8,1423.2 767.8,1423.2 768.8,1423.2 769.8,1423.2 770.8,1423.2 771.8,1423.2 772.8,1423.2 773.8,1423.2 774.8,1423.2 775.8,1423.2 776.8,1423.2 777.8,1423.2 778.8,1423.3 779.8,1423.3 780.8,1423.3 781.8,1423.3 782.8,1423.3 783.8,1423.3 784.8,1423.3 785.8,1423.3 786.8,1423.3 787.8,1423.3 788.8,1423.3 789.8,1423.3 790.8,1423.4 791.8,1423.4 792.8,1423.4 793.8,1423.4 794.8,1423.4 795.8,1423.4 796.8,1423.4 797.8,1423.4 798.8,1423.4 799.8,1423.4 800.8,1423.4 801.8,1423.4 802.8,1423.4 803.8,1423.4 804.8,1423.4 805.8,1423.5 806.8,1423.5 807.8,1423.5 808.8,1423.5 809.8,1423.5 810.8,1423.5 811.8,1423.5 812.8,1423.5 813.8,1423.5 814.8,1423.5 815.8,1423.5 816.8,1423.5 817.8,1423.5 818.8,1423.5 819.8,1423.5 820.8,1423.5 821.8,1423.5 822.8,1423.5 823.8,1423.6 824.8,1423.6 825.8,1423.6 826.8,1423.6 827.8,1423.6 828.8,1423.6 829.8,1423.6 830.8,1423.6 831.8,1423.6 832.8,1423.6 833.8,1423.6 834.8,1423.6 835.8,1423.6 836.8,1423.6 837.8,1423.6 838.8,1423.6 839.8,1423.6 840.8,1423.6 841.8,1423.6 842.8,1423.6 843.8,1423.7 844.8,1423.7 845.8,1423.7 846.8,1423.7 847.8,1423.7 848.8,1423.7 849.8,1423.7 850.8,1423.7 851.8,1423.7 852.8,1423.7 853.8,1423.7 854.8,1423.7 855.8,1423.7 856.8,1423.7 857.8,1423.7 858.8,1423.7 859.8,1423.7 860.8,1423.7 861.8,1423.7 862.8,1423.7 863.8,1423.7 864.8,1423.7 865.8,1423.7 866.8,1423.7 867.8,1423.7 868.8,1423.7 869.8,1423.8 870.8,1423.8 871.8,1423.8 872.8,1423.8 873.8,1423.8 874.8,1423.8 875.8,1423.8 876.8,1423.8 877.8,1423.8 878.8,1423.8 879.8,1423.8 880.8,1423.8 881.8,1423.8 882.8,1423.8 883.8,1423.8 884.8,1423.8 885.8,1423.8 886.8,1423.8 887.8,1423.8 888.8,1423.8 889.8,1423.8 890.8,1423.8 891.8,1423.8 892.8,1423.8 893.8,1423.8 894.8,1423.8 895.8,1423.8 896.8,1423.8 897.8,1423.8 898.8,1423.8 899.8,1423.8 900.8,1423.9 901.8,1423.9 902.8,1423.9 903.8,1423.9 904.8,1423.9 905.8,1423.9 906.8,1423.9 907.8,1423.9 908.8,1423.9 909.8,1423.9 910.8,1423.9 911.8,1423.9 912.8,1423.9 913.8,1423.9 914.8,1423.9 915.8,1423.9 916.8,1423.9 917.8,1423.9 918.8,1423.9 919.8,1423.9 920.8,1423.9 921.8,1423.9 922.8,1423.9 923.8,1423.9 924.8,1423.9 925.8,1423.9 926.8,1423.9 927.8,1423.9 928.8,1423.9 929.8,1423.9 930.8,1423.9 931.8,1423.9 932.8,1423.9 933.8,1423.9 934.8,1423.9 935.8,1423.9 936.8,1423.9 937.8,1423.9 938.8,1423.9 939.8,1423.9 940.8,1423.9 941.8,1423.9" fill="none" stroke="#ff0000" stroke-width="2.5" stroke-linejoin="round" stroke-linecap="round"/>
<polyline points="232.8,1436.1 233.8,1436.1 234.8,1436.1 235.8,1436.0 236.8,1436.0 237.8,1436.0 238.8,1436.0 239.8,1436.0 240.8,1436.0 241.8,1436.0 242.8,1436.0 243.8,1436.0 244.8,1436.0 245.8,1436.0 246.8,1436.0 247.8,1435.9 248.8,1435.9 249.8,1435.9 250.8,1435.9 251.8,1435.9 252.8,1435.9 253.8,1435.9 254.8,1435.9 255.8,1435.9 256.8,1435.9 257.8,1435.8 258.8,1435.8 259.8,1435.8 260.8,1435.8 261.8,1435.8 262.8,1435.8 263.8,1435.8 264.8,1435.8 265.8,1435.8 266.8,1435.7 267.8,1435.7 268.8,1435.7 269.8,1435.7 270.8,1435.7 271.8,1435.7 272.8,1435.7 273.8,1435.7 274.8,1435.6 275.8,1435.6 276.8,1435.6 277.8,1435.6 278.8,1435.6 279.8,1435.6 280.8,1435.6 281.8,1435.6 282.8,1435.5 283.8,1435.5 284.8,1435.5 285.8,1435.5 286.8,1435.5 287.8,1435.5 288.8,1435.5 289.8,1435.4 290.8,1435.4 291.8,1435.4 292.8,1435.4 293.8,1435.4 294.8,1435.4 295.8,1435.3 296.8,1435.3 297.8,1435.3 298.8,1435.3 299.8,1435.3 300.8,1435.2 301.8,1435.2 302.8,1435.2 303.8,1435.2 304.8,1435.2 305.8,1435.1 306.8,1435.1 307.8,1435.1 308.8,1435.1 309.8,1435.1 310.8,1435.0 311.8,1435.0 312.8,1435.0 313.8,1435.0 314.8,1434.9 315.8,1434.9 316.8,1434.9 317.8,1434.9 318.8,1434.8 319.8,1434.8 320.8,1434.8 321.8,1434.8 322.8,1434.7 323.8,1434.7 324.8,1434.7 325.8,1434.6 326.8,1434.6 327.8,1434.6 328.8,1434.5 329.8,1434.5 330.8,1434.5 331.8,1434.4 332.8,1434.4 333.8,1434.3 334.8,1434.3 335.8,1434.3 336.8,1434.2 337.8,1434.2 338.8,1434.1 339.8,1434.1 340.8,1434.0 341.8,1434.0 342.8,1433.9 343.8,1433.9 344.8,1433.8 345.8,1433.8 346.8,1433.7 347.8,1433.6 348.8,1433.6 349.8,1433.5 350.8,1433.4 351.8,1433.4 352.8,1433.3 353.8,1433.2 354.8,1433.2 355.8,1433.1 356.8,1433.0 357.8,1432.9 358.8,1432.8 359.8,1432.7 360.8,1432.6 361.8,1432.5 362.8,1432.4 363.8,1432.3 364.8,1432.2 365.8,1432.1 366.8,1432.0 367.8,1431.9 368.8,1431.7 369.8,1431.6 370.8,1431.5 371.8,1431.3 372.8,1431.2 373.8,1431.0 374.8,1430.9 375.8,1430.7 376.8,1430.5 377.8,1430.4 378.8,1430.2 379.8,1430.0 380.8,1429.8 381.8,1429.6 382.8,1429.4 383.8,1429.2 384.8,1429.0 385.8,1428.8 386.8,1428.5 387.8,1428.3 388.8,1428.0 389.8,1427.8 390.8,1427.5 391.8,1427.2 392.8,1426.9 393.8,1426.6 394.8,1426.3 395.8,1426.0 396.8,1425.7 397.8,1425.3 398.8,1425.0 399.8,1424.6 400.8,1424.3 401.8,1423.9 402.8,1423.5 403.8,1423.1 404.8,1422.7 405.8,1422.2 406.8,1421.8 407.8,1421.3 408.8,1420.8 409.8,1420.4 410.8,1419.9 411.8,1419.3 412.8,1418.8 413.8,1418.3 414.8,1417.7 415.8,1417.1 416.8,1416.5 417.8,1415.9 418.8,1415.3 419.8,1414.6 420.8,1414.0 421.8,1413.3 422.8,1412.6 423.8,1411.9 424.8,1411.1 425.8,1410.4 426.8,1409.6 427.8,1408.8 428.8,1408.0 429.8,1407.1 430.8,1406.3 431.8,1405.4 432.8,1404.5 433.8,1403.6 434.8,1402.6 435.8,1401.7 436.8,1400.7 437.8,1399.7 438.8,1398.7 439.8,1397.6 440.8,1396.5 441.8,1395.4 442.8,1394.3 443.8,1393.2 444.8,1392.0 445.8,1390.8 446.8,1389.6 447.8,1388.4 448.8,1387.1 449.8,1385.8 450.8,1384.5 451.8,1383.2 452.8,1381.8 453.8,1380.4 454.8,1379.0 455.8,1377.6 456.8,1376.1 457.8,1374.7 458.8,1373.1 459.8,1371.6 460.8,1370.1 461.8,1368.5 462.8,1366.9 463.8,1365.3 464.8,1363.6 465.8,1361.9 466.8,1360.2 467.8,1358.5 468.8,1356.7 469.8,1355.0 470.8,1353.2 471.8,1351.3 472.8,1349.5 473.8,1347.6 474.8,1345.7 475.8,1343.8 476.8,1341.9 477.8,1339.9 478.8,1337.9 479.8,1335.9 480.8,1333.8 481.8,1331.8 482.8,1329.7 483.8,1327.6 484.8,1325.4 485.8,1323.3 486.8,1321.1 487.8,1318.9 488.8,1316.6 489.8,1314.4 490.8,1312.1 491.8,1309.8 492.8,1307.4 493.8,1305.1 494.8,1302.7 495.8,1300.3 496.8,1297.8 497.8,1295.4 498.8,1292.9 499.8,1290.4 500.8,1287.9 501.8,1285.3 502.8,1282.7 503.8,1280.1 504.8,1277.4 505.8,1274.7 506.8,1272.0 507.8,1269.3 508.8,1266.5 509.8,1263.8 510.8,1260.9 511.8,1258.1 512.8,1255.2 513.8,1252.3 514.8,1249.4 515.8,1246.5 516.8,1243.5 517.8,1240.5 518.8,1237.5 519.8,1234.5 520.8,1231.5 521.8,1228.5 522.8,1225.5 523.8,1222.5 524.8,1219.5 525.8,1216.6 526.8,1213.7 527.8,1210.8 528.8,1208.0 529.8,1205.3 530.8,1202.7 531.8,1200.1 532.8,1197.7 533.8,1195.4 534.8,1193.2 535.8,1191.2 536.8,1189.4 537.8,1187.7 538.8,1186.3 539.8,1185.0 540.8,1184.0 541.8,1183.2 542.8,1182.6 543.8,1182.3 544.8,1182.2 545.8,1182.3 546.8,1182.8 547.8,1183.4 548.8,1184.3 549.8,1185.4 550.8,1186.7 551.8,1188.3 552.8,1190.0 553.8,1192.0 554.8,1194.1 555.8,1196.4 556.8,1198.8 557.8,1201.4 558.8,1204.1 559.8,1207.0 560.8,1209.9 561.8,1212.9 562.8,1216.0 563.8,1219.1 564.8,1222.3 565.8,1225.5 566.8,1228.8 567.8,1232.1 568.8,1235.4 569.8,1238.7 570.8,1242.0 571.8,1245.3 572.8,1248.5 573.8,1251.8 574.8,1255.0 575.8,1258.2 576.8,1261.4 577.8,1264.6 578.8,1267.7 579.8,1270.7 580.8,1273.7 581.8,1276.7 582.8,1279.7 583.8,1282.6 584.8,1285.4 585.8,1288.2 586.8,1291.0 587.8,1293.7 588.8,1296.4 589.8,1299.0 590.8,1301.6 591.8,1304.1 592.8,1306.6 593.8,1309.1 594.8,1311.5 595.8,1313.9 596.8,1316.2 597.8,1318.5 598.8,1320.7 599.8,1322.9 600.8,1325.1 601.8,1327.2 602.8,1329.3 603.8,1331.3 604.8,1333.3 605.8,1335.3 606.8,1337.2 607.8,1339.1 608.8,1341.0 609.8,1342.8 610.8,1344.6 611.8,1346.4 612.8,1348.1 613.8,1349.8 614.8,1351.5 615.8,1353.1 616.8,1354.7 617.8,1356.3 618.8,1357.8 619.8,1359.3 620.8,1360.8 621.8,1362.2 622.8,1363.7 623.8,1365.1 624.8,1366.4 625.8,1367.8 626.8,1369.1 627.8,1370.3 628.8,1371.6 629.8,1372.8 630.8,1374.0 631.8,1375.2 632.8,1376.4 633.8,1377.5 634.8,1378.6 635.8,1379.7 636.8,1380.7 637.8,1381.8 638.8,1382.8 639.8,1383.8 640.8,1384.7 641.8,1385.7 642.8,1386.6 643.8,1387.5 644.8,1388.4 645.8,1389.2 646.8,1390.1 647.8,1390.9 648.8,1391.7 649.8,1392.5 650.8,1393.2 651.8,1394.0 652.8,1394.7 653.8,1395.4 654.8,1396.1 655.8,1396.8 656.8,1397.4 657.8,1398.1 658.8,1398.7 659.8,1399.3 660.8,1399.9 661.8,1400.4 662.8,1401.0 663.8,1401.5 664.8,1402.1 665.8,1402.6 666.8,1403.1 667.8,1403.6 668.8,1404.0 669.8,1404.5 670.8,1404.9 671.8,1405.4 672.8,1405.8 673.8,1406.2 674.8,1406.6 675.8,1407.0 676.8,1407.4 677.8,1407.7 678.8,1408.1 679.8,1408.4 680.8,1408.8 681.8,1409.1 682.8,1409.4 683.8,1409.7 684.8,1410.0 685.8,1410.3 686.8,1410.6 687.8,1410.9 688.8,1411.2 689.8,1411.4 690.8,1411.7 691.8,1411.9 692.8,1412.1 693.8,1412.4 694.8,1412.6 695.8,1412.8 696.8,1413.0 697.8,1413.2 698.8,1413.4 699.8,1413.6 700.8,1413.8 701.8,1414.0 702.8,1414.2 703.8,1414.3 704.8,1414.5 705.8,1414.7 706.8,1414.8 707.8,1415.0 708.8,1415.1 709.8,1415.3 710.8,1415.4 711.8,1415.6 712.8,1415.7 713.8,1415.8 714.8,1416.0 715.8,1416.1 716.8,1416.2 717.8,1416.3 718.8,1416.4 719.8,1416.6 720.8,1416.7 721.8,1416.8 722.8,1416.9 723.8,1417.0 724.8,1417.1 725.8,1417.2 726.8,1417.3 727.8,1417.4 728.8,1417.4 729.8,1417.5 730.8,1417.6 731.8,1417.7 732.8,1417.8 733.8,1417.9 734.8,1417.9 735.8,1418.0 736.8,1418.1 737.8,1418.2 738.8,1418.2 739.8,1418.3 740.8,1418.4 741.8,1418.4 742.8,1418.5 743.8,1418.6 744.8,1418.6 745.8,1418.7 746.8,1418.8 747.8,1418.8 748.8,1418.9 749.8,1418.9 750.8,1419.0 751.8,1419.0 752.8,1419.1 753.8,1419.2 754.8,1419.2 755.8,1419.3 756.8,1419.3 757.8,1419.4 758.8,1419.4 759.8,1419.5 760.8,1419.5 761.8,1419.5 762.8,1419.6 763.8,1419.6 764.8,1419.7 765.8,1419.7 766.8,1419.8 767.8,1419.8 768.8,1419.9 769.8,1419.9 770.8,1419.9 771.8,1420.0 772.8,1420.0 773.8,1420.1 774.8,1420.1 775.8,1420.1 776.8,1420.2 777.8,1420.2 778.8,1420.2 779.8,1420.3 780.8,1420.3 781.8,1420.3 782.8,1420.4 783.8,1420.4 784.8,1420.4 785.8,1420.5 786.8,1420.5 787.8,1420.5 788.8,1420.6 789.8,1420.6 790.8,1420.6 791.8,1420.7 792.8,1420.7 793.8,1420.7 794.8,1420.8 795.8,1420.8 796.8,1420.8 797.8,1420.8 798.8,1420.9 799.8,1420.9 800.8,1420.9 801.8,1421.0 802.8,1421.0 803.8,1421.0 804.8,1421.0 805.8,1421.1 806.8,1421.1 807.8,1421.1 808.8,1421.1 809.8,1421.2 810.8,1421.2 811.8,1421.2 812.8,1421.2 813.8,1421.3 814.8,1421.3 815.8,1421.3 816.8,1421.3 817.8,1421.3 818.8,1421.4 819.8,1421.4 820.8,1421.4 821.8,1421.4 822.8,1421.5 823.8,1421.5 824.8,1421.5 825.8,1421.5 826.8,1421.5 827.8,1421.6 828.8,1421.6 829.8,1421.6 830.8,1421.6 831.8,1421.6 832.8,1421.7 833.8,1421.7 834.8,1421.7 835.8,1421.7 836.8,1421.7 837.8,1421.7 838.8,1421.8 839.8,1421.8 840.8,1421.8 841.8,1421.8 842.8,1421.8 843.8,1421.9 844.8,1421.9 845.8,1421.9 846.8,1421.9 847.8,1421.9 848.8,1421.9 849.8,1422.0 850.8,1422.0 851.8,1422.0 852.8,1422.0 853.8,1422.0 854.8,1422.0 855.8,1422.0 856.8,1422.1 857.8,1422.1 858.8,1422.1 859.8,1422.1 860.8,1422.1 861.8,1422.1 862.8,1422.2 863.8,1422.2 864.8,1422.2 865.8,1422.2 866.8,1422.2 867.8,1422.2 868.8,1422.2 869.8,1422.2 870.8,1422.3 871.8,1422.3 872.8,1422.3 873.8,1422.3 874.8,1422.3 875.8,1422.3 876.8,1422.3 877.8,1422.4 878.8,1422.4 879.8,1422.4 880.8,1422.4 881.8,1422.4 882.8,1422.4 883.8,1422.4 884.8,1422.4 885.8,1422.4 886.8,1422.5 887.8,1422.5 888.8,1422.5 889.8,1422.5 890.8,1422.5 891.8,1422.5 892.8,1422.5 893.8,1422.5 894.8,1422.5 895.8,1422.6 896.8,1422.6 897.8,1422.6 898.8,1422.6 899.8,1422.6 900.8,1422.6 901.8,1422.6 902.8,1422.6 903.8,1422.6 904.8,1422.6 905.8,1422.7 906.8,1422.7 907.8,1422.7 908.8,1422.7 909.8,1422.7 910.8,1422.7 911.8,1422.7 912.8,1422.7 913.8,1422.7 914.8,1422.7 915.8,1422.8 916.8,1422.8 917.8,1422.8 918.8,1422.8 919.8,1422.8 920.8,1422.8 921.8,1422.8 922.8,1422.8 923.8,1422.8 924.8,1422.8 925.8,1422.8 926.8,1422.8 927.8,1422.9 928.8,1422.9 929.8,1422.9 930.8,1422.9 931.8,1422.9 932.8,1422.9 933.8,1422.9 934.8,1422.9 935.8,1422.9 936.8,1422.9 937.8,1422.9 938.8,1422.9 939.8,1422.9 940.8,1423.0 941.8,1423.0" fill="none" stroke="#0000ff" stroke-width="2.6" stroke-linejoin="round" stroke-linecap="round"/>
<text x="14" y="865" font-size="72" class="serif" fill="#111">(c)</text>
<text x="587.8" y="1573" font-size="26" text-anchor="middle" textLength="118" lengthAdjust="spacingAndGlyphs" fill="#1e1e1e">B.E. (eV)</text>
<text transform="translate(67.5,1210.6) rotate(-90)" font-size="26" text-anchor="middle" textLength="183" lengthAdjust="spacingAndGlyphs" fill="#1e1e1e">Intensity (a.u.)</text>
<path d="M763.2,927.3a5.6,5.6 0 1,0 11.2,0a5.6,5.6 0 1,0 -11.2,0" fill="none" stroke="#666" stroke-width="2.6"/>
<text x="811.5" y="937" font-size="27" textLength="64.6" lengthAdjust="spacingAndGlyphs" fill="#1e1e1e">O 1S</text>
<line x1="735.6" y1="964.4" x2="803.4" y2="964.4" stroke="#ff8000" stroke-width="4"/>
<text x="811.5" y="973.3" font-size="27" textLength="58.8" lengthAdjust="spacingAndGlyphs" fill="#1e1e1e">Sum</text>
<line x1="735.6" y1="1000.5" x2="803.4" y2="1000.5" stroke="#ff0000" stroke-width="4"/>
<text x="811.5" y="1009" font-size="27" fill="#1e1e1e">O1</text>
<line x1="735.6" y1="1036.2" x2="803.4" y2="1036.2" stroke="#0000ff" stroke-width="4"/>
<text x="811.5" y="1045.2" font-size="27" fill="#1e1e1e">O2</text>
<line x1="735.6" y1="1071.5" x2="803.4" y2="1071.5" stroke="#808000" stroke-width="4"/>
<text x="811.5" y="1081.3" font-size="27" textLength="156.6" lengthAdjust="spacingAndGlyphs" fill="#1e1e1e">Background</text>
<text x="358.4" y="1042.2" font-size="29" textLength="37.3" lengthAdjust="spacingAndGlyphs" fill="#1e1e1e">O1</text>
<text x="310.1" y="1078.3" font-size="29" textLength="133.9" lengthAdjust="spacingAndGlyphs" fill="#1e1e1e">530.39 eV</text>
<text x="634.5" y="1123.1" font-size="29" textLength="39.9" lengthAdjust="spacingAndGlyphs" fill="#1e1e1e">O2</text>
<text x="586.6" y="1159.2" font-size="29" textLength="133" lengthAdjust="spacingAndGlyphs" fill="#1e1e1e">531.55 eV</text>
<rect x="1366.5" y="895.5" width="804.8" height="591.9" fill="none" stroke="#2a2a2a" stroke-width="2.6"/>
<line x1="1442" y1="1487.4" x2="1442" y2="1494.4" stroke="#2a2a2a" stroke-width="2.4"/>
<line x1="1592.9" y1="1487.4" x2="1592.9" y2="1494.4" stroke="#2a2a2a" stroke-width="2.4"/>
<line x1="1743.8" y1="1487.4" x2="1743.8" y2="1494.4" stroke="#2a2a2a" stroke-width="2.4"/>
<line x1="1894.7" y1="1487.4" x2="1894.7" y2="1494.4" stroke="#2a2a2a" stroke-width="2.4"/>
<line x1="2045.6" y1="1487.4" x2="2045.6" y2="1494.4" stroke="#2a2a2a" stroke-width="2.4"/>
<line x1="1366.5" y1="1487.4" x2="1366.5" y2="1500.4" stroke="#2a2a2a" stroke-width="2.4"/>
<text x="1366.5" y="1525.4" font-size="22" text-anchor="middle" textLength="38.5" lengthAdjust="spacingAndGlyphs" fill="#1e1e1e">525</text>
<line x1="1517.4" y1="1487.4" x2="1517.4" y2="1500.4" stroke="#2a2a2a" stroke-width="2.4"/>
<text x="1517.4" y="1525.4" font-size="22" text-anchor="middle" textLength="38.5" lengthAdjust="spacingAndGlyphs" fill="#1e1e1e">528</text>
<line x1="1668.3" y1="1487.4" x2="1668.3" y2="1500.4" stroke="#2a2a2a" stroke-width="2.4"/>
<text x="1668.3" y="1525.4" font-size="22" text-anchor="middle" textLength="38.5" lengthAdjust="spacingAndGlyphs" fill="#1e1e1e">531</text>
<line x1="1819.2" y1="1487.4" x2="1819.2" y2="1500.4" stroke="#2a2a2a" stroke-width="2.4"/>
<text x="1819.2" y="1525.4" font-size="22" text-anchor="middle" textLength="38.5" lengthAdjust="spacingAndGlyphs" fill="#1e1e1e">534</text>
<line x1="1970.1" y1="1487.4" x2="1970.1" y2="1500.4" stroke="#2a2a2a" stroke-width="2.4"/>
<text x="1970.1" y="1525.4" font-size="22" text-anchor="middle" textLength="38.5" lengthAdjust="spacingAndGlyphs" fill="#1e1e1e">537</text>
<line x1="2121" y1="1487.4" x2="2121" y2="1500.4" stroke="#2a2a2a" stroke-width="2.4"/>
<text x="2121" y="1525.4" font-size="22" text-anchor="middle" textLength="38.5" lengthAdjust="spacingAndGlyphs" fill="#1e1e1e">540</text>
<line x1="1359.5" y1="1413.4" x2="1366.5" y2="1413.4" stroke="#2a2a2a" stroke-width="2.4"/>
<line x1="1359.5" y1="1265.4" x2="1366.5" y2="1265.4" stroke="#2a2a2a" stroke-width="2.4"/>
<line x1="1359.5" y1="1117.5" x2="1366.5" y2="1117.5" stroke="#2a2a2a" stroke-width="2.4"/>
<line x1="1359.5" y1="969.5" x2="1366.5" y2="969.5" stroke="#2a2a2a" stroke-width="2.4"/>
<line x1="1353.5" y1="1487.4" x2="1366.5" y2="1487.4" stroke="#2a2a2a" stroke-width="2.4"/>
<text x="1344.5" y="1492.4" font-size="22" text-anchor="end" textLength="64.2" lengthAdjust="spacingAndGlyphs" fill="#1e1e1e">25000</text>
<line x1="1353.5" y1="1339.4" x2="1366.5" y2="1339.4" stroke="#2a2a2a" stroke-width="2.4"/>
<text x="1344.5" y="1344.4" font-size="22" text-anchor="end" textLength="64.2" lengthAdjust="spacingAndGlyphs" fill="#1e1e1e">50000</text>
<line x1="1353.5" y1="1191.5" x2="1366.5" y2="1191.5" stroke="#2a2a2a" stroke-width="2.4"/>
<text x="1344.5" y="1196.5" font-size="22" text-anchor="end" textLength="64.2" lengthAdjust="spacingAndGlyphs" fill="#1e1e1e">75000</text>
<line x1="1353.5" y1="1043.5" x2="1366.5" y2="1043.5" stroke="#2a2a2a" stroke-width="2.4"/>
<text x="1344.5" y="1048.5" font-size="22" text-anchor="end" textLength="77.1" lengthAdjust="spacingAndGlyphs" fill="#1e1e1e">100000</text>
<line x1="1353.5" y1="895.5" x2="1366.5" y2="895.5" stroke="#2a2a2a" stroke-width="2.4"/>
<text x="1344.5" y="900.5" font-size="22" text-anchor="end" textLength="77.1" lengthAdjust="spacingAndGlyphs" fill="#1e1e1e">125000</text>
<path d="M1405.4,1426.5a4.9,4.9 0 1,0 9.8,0a4.9,4.9 0 1,0 -9.8,0M1407.6,1429.4a4.9,4.9 0 1,0 9.8,0a4.9,4.9 0 1,0 -9.8,0M1409.9,1425.8a4.9,4.9 0 1,0 9.8,0a4.9,4.9 0 1,0 -9.8,0M1412.2,1427.4a4.9,4.9 0 1,0 9.8,0a4.9,4.9 0 1,0 -9.8,0M1414.4,1428.0a4.9,4.9 0 1,0 9.8,0a4.9,4.9 0 1,0 -9.8,0M1416.7,1425.4a4.9,4.9 0 1,0 9.8,0a4.9,4.9 0 1,0 -9.8,0M1418.9,1428.8a4.9,4.9 0 1,0 9.8,0a4.9,4.9 0 1,0 -9.8,0M1421.2,1427.1a4.9,4.9 0 1,0 9.8,0a4.9,4.9 0 1,0 -9.8,0M1423.5,1423.1a4.9,4.9 0 1,0 9.8,0a4.9,4.9 0 1,0 -9.8,0M1425.7,1427.3a4.9,4.9 0 1,0 9.8,0a4.9,4.9 0 1,0 -9.8,0M1428.0,1428.2a4.9,4.9 0 1,0 9.8,0a4.9,4.9 0 1,0 -9.8,0M1430.3,1427.9a4.9,4.9 0 1,0 9.8,0a4.9,4.9 0 1,0 -9.8,0M1432.5,1423.8a4.9,4.9 0 1,0 9.8,0a4.9,4.9 0 1,0 -9.8,0M1434.8,1426.8a4.9,4.9 0 1,0 9.8,0a4.9,4.9 0 1,0 -9.8,0M1437.0,1429.3a4.9,4.9 0 1,0 9.8,0a4.9,4.9 0 1,0 -9.8,0M1439.3,1426.0a4.9,4.9 0 1,0 9.8,0a4.9,4.9 0 1,0 -9.8,0M1441.6,1428.6a4.9,4.9 0 1,0 9.8,0a4.9,4.9 0 1,0 -9.8,0M1443.8,1428.8a4.9,4.9 0 1,0 9.8,0a4.9,4.9 0 1,0 -9.8,0M1446.1,1425.0a4.9,4.9 0 1,0 9.8,0a4.9,4.9 0 1,0 -9.8,0M1448.4,1426.9a4.9,4.9 0 1,0 9.8,0a4.9,4.9 0 1,0 -9.8,0M1450.6,1424.1a4.9,4.9 0 1,0 9.8,0a4.9,4.9 0 1,0 -9.8,0M1452.9,1427.8a4.9,4.9 0 1,0 9.8,0a4.9,4.9 0 1,0 -9.8,0M1455.2,1424.4a4.9,4.9 0 1,0 9.8,0a4.9,4.9 0 1,0 -9.8,0M1457.4,1423.0a4.9,4.9 0 1,0 9.8,0a4.9,4.9 0 1,0 -9.8,0M1459.7,1424.4a4.9,4.9 0 1,0 9.8,0a4.9,4.9 0 1,0 -9.8,0M1461.9,1424.1a4.9,4.9 0 1,0 9.8,0a4.9,4.9 0 1,0 -9.8,0M1464.2,1425.3a4.9,4.9 0 1,0 9.8,0a4.9,4.9 0 1,0 -9.8,0M1466.5,1425.4a4.9,4.9 0 1,0 9.8,0a4.9,4.9 0 1,0 -9.8,0M1468.7,1420.7a4.9,4.9 0 1,0 9.8,0a4.9,4.9 0 1,0 -9.8,0M1471.0,1422.0a4.9,4.9 0 1,0 9.8,0a4.9,4.9 0 1,0 -9.8,0M1473.3,1424.7a4.9,4.9 0 1,0 9.8,0a4.9,4.9 0 1,0 -9.8,0M1475.5,1424.9a4.9,4.9 0 1,0 9.8,0a4.9,4.9 0 1,0 -9.8,0M1477.8,1423.6a4.9,4.9 0 1,0 9.8,0a4.9,4.9 0 1,0 -9.8,0M1480.1,1430.6a4.9,4.9 0 1,0 9.8,0a4.9,4.9 0 1,0 -9.8,0M1482.3,1426.1a4.9,4.9 0 1,0 9.8,0a4.9,4.9 0 1,0 -9.8,0M1484.6,1422.6a4.9,4.9 0 1,0 9.8,0a4.9,4.9 0 1,0 -9.8,0M1486.8,1424.7a4.9,4.9 0 1,0 9.8,0a4.9,4.9 0 1,0 -9.8,0M1489.1,1426.2a4.9,4.9 0 1,0 9.8,0a4.9,4.9 0 1,0 -9.8,0M1491.4,1423.2a4.9,4.9 0 1,0 9.8,0a4.9,4.9 0 1,0 -9.8,0M1493.6,1417.1a4.9,4.9 0 1,0 9.8,0a4.9,4.9 0 1,0 -9.8,0M1495.9,1422.0a4.9,4.9 0 1,0 9.8,0a4.9,4.9 0 1,0 -9.8,0M1498.2,1421.6a4.9,4.9 0 1,0 9.8,0a4.9,4.9 0 1,0 -9.8,0M1500.4,1427.2a4.9,4.9 0 1,0 9.8,0a4.9,4.9 0 1,0 -9.8,0M1502.7,1415.7a4.9,4.9 0 1,0 9.8,0a4.9,4.9 0 1,0 -9.8,0M1505.0,1424.8a4.9,4.9 0 1,0 9.8,0a4.9,4.9 0 1,0 -9.8,0M1507.2,1419.6a4.9,4.9 0 1,0 9.8,0a4.9,4.9 0 1,0 -9.8,0M1509.5,1422.2a4.9,4.9 0 1,0 9.8,0a4.9,4.9 0 1,0 -9.8,0M1511.7,1418.3a4.9,4.9 0 1,0 9.8,0a4.9,4.9 0 1,0 -9.8,0M1514.0,1419.1a4.9,4.9 0 1,0 9.8,0a4.9,4.9 0 1,0 -9.8,0M1516.3,1421.2a4.9,4.9 0 1,0 9.8,0a4.9,4.9 0 1,0 -9.8,0M1518.5,1417.7a4.9,4.9 0 1,0 9.8,0a4.9,4.9 0 1,0 -9.8,0M1520.8,1419.7a4.9,4.9 0 1,0 9.8,0a4.9,4.9 0 1,0 -9.8,0M1523.1,1415.8a4.9,4.9 0 1,0 9.8,0a4.9,4.9 0 1,0 -9.8,0M1525.3,1414.1a4.9,4.9 0 1,0 9.8,0a4.9,4.9 0 1,0 -9.8,0M1527.6,1413.7a4.9,4.9 0 1,0 9.8,0a4.9,4.9 0 1,0 -9.8,0M1529.9,1411.9a4.9,4.9 0 1,0 9.8,0a4.9,4.9 0 1,0 -9.8,0M1532.1,1411.9a4.9,4.9 0 1,0 9.8,0a4.9,4.9 0 1,0 -9.8,0M1534.4,1414.9a4.9,4.9 0 1,0 9.8,0a4.9,4.9 0 1,0 -9.8,0M1536.6,1406.4a4.9,4.9 0 1,0 9.8,0a4.9,4.9 0 1,0 -9.8,0M1538.9,1403.5a4.9,4.9 0 1,0 9.8,0a4.9,4.9 0 1,0 -9.8,0M1541.2,1406.4a4.9,4.9 0 1,0 9.8,0a4.9,4.9 0 1,0 -9.8,0M1543.4,1409.1a4.9,4.9 0 1,0 9.8,0a4.9,4.9 0 1,0 -9.8,0M1545.7,1405.0a4.9,4.9 0 1,0 9.8,0a4.9,4.9 0 1,0 -9.8,0M1548.0,1403.2a4.9,4.9 0 1,0 9.8,0a4.9,4.9 0 1,0 -9.8,0M1550.2,1399.9a4.9,4.9 0 1,0 9.8,0a4.9,4.9 0 1,0 -9.8,0M1552.5,1390.9a4.9,4.9 0 1,0 9.8,0a4.9,4.9 0 1,0 -9.8,0M1554.8,1389.3a4.9,4.9 0 1,0 9.8,0a4.9,4.9 0 1,0 -9.8,0M1557.0,1377.0a4.9,4.9 0 1,0 9.8,0a4.9,4.9 0 1,0 -9.8,0M1559.3,1377.6a4.9,4.9 0 1,0 9.8,0a4.9,4.9 0 1,0 -9.8,0M1561.5,1375.1a4.9,4.9 0 1,0 9.8,0a4.9,4.9 0 1,0 -9.8,0M1563.8,1363.1a4.9,4.9 0 1,0 9.8,0a4.9,4.9 0 1,0 -9.8,0M1566.1,1354.9a4.9,4.9 0 1,0 9.8,0a4.9,4.9 0 1,0 -9.8,0M1568.3,1348.9a4.9,4.9 0 1,0 9.8,0a4.9,4.9 0 1,0 -9.8,0M1570.6,1343.3a4.9,4.9 0 1,0 9.8,0a4.9,4.9 0 1,0 -9.8,0M1572.9,1335.5a4.9,4.9 0 1,0 9.8,0a4.9,4.9 0 1,0 -9.8,0M1575.1,1327.4a4.9,4.9 0 1,0 9.8,0a4.9,4.9 0 1,0 -9.8,0M1577.4,1314.1a4.9,4.9 0 1,0 9.8,0a4.9,4.9 0 1,0 -9.8,0M1579.7,1297.7a4.9,4.9 0 1,0 9.8,0a4.9,4.9 0 1,0 -9.8,0M1581.9,1283.8a4.9,4.9 0 1,0 9.8,0a4.9,4.9 0 1,0 -9.8,0M1584.2,1273.2a4.9,4.9 0 1,0 9.8,0a4.9,4.9 0 1,0 -9.8,0M1586.4,1259.6a4.9,4.9 0 1,0 9.8,0a4.9,4.9 0 1,0 -9.8,0M1588.7,1240.3a4.9,4.9 0 1,0 9.8,0a4.9,4.9 0 1,0 -9.8,0M1591.0,1225.1a4.9,4.9 0 1,0 9.8,0a4.9,4.9 0 1,0 -9.8,0M1593.2,1207.6a4.9,4.9 0 1,0 9.8,0a4.9,4.9 0 1,0 -9.8,0M1595.5,1189.9a4.9,4.9 0 1,0 9.8,0a4.9,4.9 0 1,0 -9.8,0M1597.8,1170.5a4.9,4.9 0 1,0 9.8,0a4.9,4.9 0 1,0 -9.8,0M1600.0,1151.8a4.9,4.9 0 1,0 9.8,0a4.9,4.9 0 1,0 -9.8,0M1602.3,1132.4a4.9,4.9 0 1,0 9.8,0a4.9,4.9 0 1,0 -9.8,0M1604.5,1110.7a4.9,4.9 0 1,0 9.8,0a4.9,4.9 0 1,0 -9.8,0M1606.8,1091.0a4.9,4.9 0 1,0 9.8,0a4.9,4.9 0 1,0 -9.8,0M1609.1,1072.0a4.9,4.9 0 1,0 9.8,0a4.9,4.9 0 1,0 -9.8,0M1611.3,1047.8a4.9,4.9 0 1,0 9.8,0a4.9,4.9 0 1,0 -9.8,0M1613.6,1028.1a4.9,4.9 0 1,0 9.8,0a4.9,4.9 0 1,0 -9.8,0M1615.9,1011.7a4.9,4.9 0 1,0 9.8,0a4.9,4.9 0 1,0 -9.8,0M1618.1,996.7a4.9,4.9 0 1,0 9.8,0a4.9,4.9 0 1,0 -9.8,0M1620.4,980.0a4.9,4.9 0 1,0 9.8,0a4.9,4.9 0 1,0 -9.8,0M1622.7,970.4a4.9,4.9 0 1,0 9.8,0a4.9,4.9 0 1,0 -9.8,0M1624.9,961.2a4.9,4.9 0 1,0 9.8,0a4.9,4.9 0 1,0 -9.8,0M1627.2,958.2a4.9,4.9 0 1,0 9.8,0a4.9,4.9 0 1,0 -9.8,0M1629.4,953.9a4.9,4.9 0 1,0 9.8,0a4.9,4.9 0 1,0 -9.8,0M1631.7,955.9a4.9,4.9 0 1,0 9.8,0a4.9,4.9 0 1,0 -9.8,0M1634.0,959.4a4.9,4.9 0 1,0 9.8,0a4.9,4.9 0 1,0 -9.8,0M1636.2,965.8a4.9,4.9 0 1,0 9.8,0a4.9,4.9 0 1,0 -9.8,0M1638.5,975.5a4.9,4.9 0 1,0 9.8,0a4.9,4.9 0 1,0 -9.8,0M1640.8,985.8a4.9,4.9 0 1,0 9.8,0a4.9,4.9 0 1,0 -9.8,0M1643.0,996.4a4.9,4.9 0 1,0 9.8,0a4.9,4.9 0 1,0 -9.8,0M1645.3,1013.1a4.9,4.9 0 1,0 9.8,0a4.9,4.9 0 1,0 -9.8,0M1647.6,1025.4a4.9,4.9 0 1,0 9.8,0a4.9,4.9 0 1,0 -9.8,0M1649.8,1044.1a4.9,4.9 0 1,0 9.8,0a4.9,4.9 0 1,0 -9.8,0M1652.1,1060.8a4.9,4.9 0 1,0 9.8,0a4.9,4.9 0 1,0 -9.8,0M1654.3,1071.5a4.9,4.9 0 1,0 9.8,0a4.9,4.9 0 1,0 -9.8,0M1656.6,1084.0a4.9,4.9 0 1,0 9.8,0a4.9,4.9 0 1,0 -9.8,0M1658.9,1095.0a4.9,4.9 0 1,0 9.8,0a4.9,4.9 0 1,0 -9.8,0M1661.1,1106.7a4.9,4.9 0 1,0 9.8,0a4.9,4.9 0 1,0 -9.8,0M1663.4,1114.8a4.9,4.9 0 1,0 9.8,0a4.9,4.9 0 1,0 -9.8,0M1665.7,1125.1a4.9,4.9 0 1,0 9.8,0a4.9,4.9 0 1,0 -9.8,0M1667.9,1131.9a4.9,4.9 0 1,0 9.8,0a4.9,4.9 0 1,0 -9.8,0M1670.2,1138.9a4.9,4.9 0 1,0 9.8,0a4.9,4.9 0 1,0 -9.8,0M1672.5,1146.0a4.9,4.9 0 1,0 9.8,0a4.9,4.9 0 1,0 -9.8,0M1674.7,1151.5a4.9,4.9 0 1,0 9.8,0a4.9,4.9 0 1,0 -9.8,0M1677.0,1154.5a4.9,4.9 0 1,0 9.8,0a4.9,4.9 0 1,0 -9.8,0M1679.2,1164.1a4.9,4.9 0 1,0 9.8,0a4.9,4.9 0 1,0 -9.8,0M1681.5,1165.8a4.9,4.9 0 1,0 9.8,0a4.9,4.9 0 1,0 -9.8,0M1683.8,1167.4a4.9,4.9 0 1,0 9.8,0a4.9,4.9 0 1,0 -9.8,0M1686.0,1175.0a4.9,4.9 0 1,0 9.8,0a4.9,4.9 0 1,0 -9.8,0M1688.3,1177.7a4.9,4.9 0 1,0 9.8,0a4.9,4.9 0 1,0 -9.8,0M1690.6,1182.4a4.9,4.9 0 1,0 9.8,0a4.9,4.9 0 1,0 -9.8,0M1692.8,1187.8a4.9,4.9 0 1,0 9.8,0a4.9,4.9 0 1,0 -9.8,0M1695.1,1191.1a4.9,4.9 0 1,0 9.8,0a4.9,4.9 0 1,0 -9.8,0M1697.4,1194.2a4.9,4.9 0 1,0 9.8,0a4.9,4.9 0 1,0 -9.8,0M1699.6,1204.1a4.9,4.9 0 1,0 9.8,0a4.9,4.9 0 1,0 -9.8,0M1701.9,1211.2a4.9,4.9 0 1,0 9.8,0a4.9,4.9 0 1,0 -9.8,0M1704.1,1219.2a4.9,4.9 0 1,0 9.8,0a4.9,4.9 0 1,0 -9.8,0M1706.4,1224.1a4.9,4.9 0 1,0 9.8,0a4.9,4.9 0 1,0 -9.8,0M1708.7,1232.3a4.9,4.9 0 1,0 9.8,0a4.9,4.9 0 1,0 -9.8,0M1710.9,1240.9a4.9,4.9 0 1,0 9.8,0a4.9,4.9 0 1,0 -9.8,0M1713.2,1247.7a4.9,4.9 0 1,0 9.8,0a4.9,4.9 0 1,0 -9.8,0M1715.5,1255.6a4.9,4.9 0 1,0 9.8,0a4.9,4.9 0 1,0 -9.8,0M1717.7,1264.0a4.9,4.9 0 1,0 9.8,0a4.9,4.9 0 1,0 -9.8,0M1720.0,1270.0a4.9,4.9 0 1,0 9.8,0a4.9,4.9 0 1,0 -9.8,0M1722.3,1280.9a4.9,4.9 0 1,0 9.8,0a4.9,4.9 0 1,0 -9.8,0M1724.5,1285.0a4.9,4.9 0 1,0 9.8,0a4.9,4.9 0 1,0 -9.8,0M1726.8,1293.4a4.9,4.9 0 1,0 9.8,0a4.9,4.9 0 1,0 -9.8,0M1729.0,1299.9a4.9,4.9 0 1,0 9.8,0a4.9,4.9 0 1,0 -9.8,0M1731.3,1306.2a4.9,4.9 0 1,0 9.8,0a4.9,4.9 0 1,0 -9.8,0M1733.6,1314.2a4.9,4.9 0 1,0 9.8,0a4.9,4.9 0 1,0 -9.8,0M1735.8,1321.1a4.9,4.9 0 1,0 9.8,0a4.9,4.9 0 1,0 -9.8,0M1738.1,1327.6a4.9,4.9 0 1,0 9.8,0a4.9,4.9 0 1,0 -9.8,0M1740.4,1332.2a4.9,4.9 0 1,0 9.8,0a4.9,4.9 0 1,0 -9.8,0M1742.6,1336.3a4.9,4.9 0 1,0 9.8,0a4.9,4.9 0 1,0 -9.8,0M1744.9,1343.2a4.9,4.9 0 1,0 9.8,0a4.9,4.9 0 1,0 -9.8,0M1747.1,1345.1a4.9,4.9 0 1,0 9.8,0a4.9,4.9 0 1,0 -9.8,0M1749.4,1351.7a4.9,4.9 0 1,0 9.8,0a4.9,4.9 0 1,0 -9.8,0M1751.7,1356.8a4.9,4.9 0 1,0 9.8,0a4.9,4.9 0 1,0 -9.8,0M1753.9,1361.0a4.9,4.9 0 1,0 9.8,0a4.9,4.9 0 1,0 -9.8,0M1756.2,1362.7a4.9,4.9 0 1,0 9.8,0a4.9,4.9 0 1,0 -9.8,0M1758.5,1366.0a4.9,4.9 0 1,0 9.8,0a4.9,4.9 0 1,0 -9.8,0M1760.7,1373.7a4.9,4.9 0 1,0 9.8,0a4.9,4.9 0 1,0 -9.8,0M1763.0,1374.1a4.9,4.9 0 1,0 9.8,0a4.9,4.9 0 1,0 -9.8,0M1765.3,1375.6a4.9,4.9 0 1,0 9.8,0a4.9,4.9 0 1,0 -9.8,0M1767.5,1379.1a4.9,4.9 0 1,0 9.8,0a4.9,4.9 0 1,0 -9.8,0M1769.8,1383.7a4.9,4.9 0 1,0 9.8,0a4.9,4.9 0 1,0 -9.8,0M1772.0,1388.1a4.9,4.9 0 1,0 9.8,0a4.9,4.9 0 1,0 -9.8,0M1774.3,1388.5a4.9,4.9 0 1,0 9.8,0a4.9,4.9 0 1,0 -9.8,0M1776.6,1392.8a4.9,4.9 0 1,0 9.8,0a4.9,4.9 0 1,0 -9.8,0M1778.8,1393.0a4.9,4.9 0 1,0 9.8,0a4.9,4.9 0 1,0 -9.8,0M1781.1,1395.4a4.9,4.9 0 1,0 9.8,0a4.9,4.9 0 1,0 -9.8,0M1783.4,1398.1a4.9,4.9 0 1,0 9.8,0a4.9,4.9 0 1,0 -9.8,0M1785.6,1396.8a4.9,4.9 0 1,0 9.8,0a4.9,4.9 0 1,0 -9.8,0M1787.9,1399.6a4.9,4.9 0 1,0 9.8,0a4.9,4.9 0 1,0 -9.8,0M1790.2,1399.3a4.9,4.9 0 1,0 9.8,0a4.9,4.9 0 1,0 -9.8,0M1792.4,1399.8a4.9,4.9 0 1,0 9.8,0a4.9,4.9 0 1,0 -9.8,0M1794.7,1404.0a4.9,4.9 0 1,0 9.8,0a4.9,4.9 0 1,0 -9.8,0M1796.9,1401.1a4.9,4.9 0 1,0 9.8,0a4.9,4.9 0 1,0 -9.8,0M1799.2,1404.4a4.9,4.9 0 1,0 9.8,0a4.9,4.9 0 1,0 -9.8,0M1801.5,1402.7a4.9,4.9 0 1,0 9.8,0a4.9,4.9 0 1,0 -9.8,0M1803.7,1405.4a4.9,4.9 0 1,0 9.8,0a4.9,4.9 0 1,0 -9.8,0M1806.0,1404.8a4.9,4.9 0 1,0 9.8,0a4.9,4.9 0 1,0 -9.8,0M1808.3,1410.1a4.9,4.9 0 1,0 9.8,0a4.9,4.9 0 1,0 -9.8,0M1810.5,1407.7a4.9,4.9 0 1,0 9.8,0a4.9,4.9 0 1,0 -9.8,0M1812.8,1408.2a4.9,4.9 0 1,0 9.8,0a4.9,4.9 0 1,0 -9.8,0M1815.1,1413.4a4.9,4.9 0 1,0 9.8,0a4.9,4.9 0 1,0 -9.8,0M1817.3,1400.2a4.9,4.9 0 1,0 9.8,0a4.9,4.9 0 1,0 -9.8,0M1819.6,1406.0a4.9,4.9 0 1,0 9.8,0a4.9,4.9 0 1,0 -9.8,0M1821.8,1401.4a4.9,4.9 0 1,0 9.8,0a4.9,4.9 0 1,0 -9.8,0M1824.1,1410.0a4.9,4.9 0 1,0 9.8,0a4.9,4.9 0 1,0 -9.8,0M1826.4,1411.6a4.9,4.9 0 1,0 9.8,0a4.9,4.9 0 1,0 -9.8,0M1828.6,1412.6a4.9,4.9 0 1,0 9.8,0a4.9,4.9 0 1,0 -9.8,0M1830.9,1411.7a4.9,4.9 0 1,0 9.8,0a4.9,4.9 0 1,0 -9.8,0M1833.2,1408.6a4.9,4.9 0 1,0 9.8,0a4.9,4.9 0 1,0 -9.8,0M1835.4,1416.7a4.9,4.9 0 1,0 9.8,0a4.9,4.9 0 1,0 -9.8,0M1837.7,1412.6a4.9,4.9 0 1,0 9.8,0a4.9,4.9 0 1,0 -9.8,0M1840.0,1411.1a4.9,4.9 0 1,0 9.8,0a4.9,4.9 0 1,0 -9.8,0M1842.2,1408.7a4.9,4.9 0 1,0 9.8,0a4.9,4.9 0 1,0 -9.8,0M1844.5,1413.6a4.9,4.9 0 1,0 9.8,0a4.9,4.9 0 1,0 -9.8,0M1846.7,1411.0a4.9,4.9 0 1,0 9.8,0a4.9,4.9 0 1,0 -9.8,0M1849.0,1411.4a4.9,4.9 0 1,0 9.8,0a4.9,4.9 0 1,0 -9.8,0M1851.3,1413.5a4.9,4.9 0 1,0 9.8,0a4.9,4.9 0 1,0 -9.8,0M1853.5,1413.7a4.9,4.9 0 1,0 9.8,0a4.9,4.9 0 1,0 -9.8,0M1855.8,1410.7a4.9,4.9 0 1,0 9.8,0a4.9,4.9 0 1,0 -9.8,0M1858.1,1417.1a4.9,4.9 0 1,0 9.8,0a4.9,4.9 0 1,0 -9.8,0M1860.3,1410.5a4.9,4.9 0 1,0 9.8,0a4.9,4.9 0 1,0 -9.8,0M1862.6,1410.3a4.9,4.9 0 1,0 9.8,0a4.9,4.9 0 1,0 -9.8,0M1864.9,1414.7a4.9,4.9 0 1,0 9.8,0a4.9,4.9 0 1,0 -9.8,0M1867.1,1414.3a4.9,4.9 0 1,0 9.8,0a4.9,4.9 0 1,0 -9.8,0M1869.4,1414.2a4.9,4.9 0 1,0 9.8,0a4.9,4.9 0 1,0 -9.8,0M1871.6,1412.9a4.9,4.9 0 1,0 9.8,0a4.9,4.9 0 1,0 -9.8,0M1873.9,1414.4a4.9,4.9 0 1,0 9.8,0a4.9,4.9 0 1,0 -9.8,0M1876.2,1412.7a4.9,4.9 0 1,0 9.8,0a4.9,4.9 0 1,0 -9.8,0M1878.4,1409.5a4.9,4.9 0 1,0 9.8,0a4.9,4.9 0 1,0 -9.8,0M1880.7,1416.8a4.9,4.9 0 1,0 9.8,0a4.9,4.9 0 1,0 -9.8,0M1883.0,1411.6a4.9,4.9 0 1,0 9.8,0a4.9,4.9 0 1,0 -9.8,0M1885.2,1414.1a4.9,4.9 0 1,0 9.8,0a4.9,4.9 0 1,0 -9.8,0M1887.5,1417.1a4.9,4.9 0 1,0 9.8,0a4.9,4.9 0 1,0 -9.8,0M1889.7,1415.0a4.9,4.9 0 1,0 9.8,0a4.9,4.9 0 1,0 -9.8,0M1892.0,1423.3a4.9,4.9 0 1,0 9.8,0a4.9,4.9 0 1,0 -9.8,0M1894.3,1410.9a4.9,4.9 0 1,0 9.8,0a4.9,4.9 0 1,0 -9.8,0M1896.5,1412.9a4.9,4.9 0 1,0 9.8,0a4.9,4.9 0 1,0 -9.8,0M1898.8,1415.5a4.9,4.9 0 1,0 9.8,0a4.9,4.9 0 1,0 -9.8,0M1901.1,1419.4a4.9,4.9 0 1,0 9.8,0a4.9,4.9 0 1,0 -9.8,0M1903.3,1414.7a4.9,4.9 0 1,0 9.8,0a4.9,4.9 0 1,0 -9.8,0M1905.6,1411.2a4.9,4.9 0 1,0 9.8,0a4.9,4.9 0 1,0 -9.8,0M1907.9,1419.0a4.9,4.9 0 1,0 9.8,0a4.9,4.9 0 1,0 -9.8,0M1910.1,1412.8a4.9,4.9 0 1,0 9.8,0a4.9,4.9 0 1,0 -9.8,0M1912.4,1415.1a4.9,4.9 0 1,0 9.8,0a4.9,4.9 0 1,0 -9.8,0M1914.6,1418.4a4.9,4.9 0 1,0 9.8,0a4.9,4.9 0 1,0 -9.8,0M1916.9,1413.8a4.9,4.9 0 1,0 9.8,0a4.9,4.9 0 1,0 -9.8,0M1919.2,1414.5a4.9,4.9 0 1,0 9.8,0a4.9,4.9 0 1,0 -9.8,0M1921.4,1417.3a4.9,4.9 0 1,0 9.8,0a4.9,4.9 0 1,0 -9.8,0M1923.7,1415.3a4.9,4.9 0 1,0 9.8,0a4.9,4.9 0 1,0 -9.8,0M1926.0,1416.8a4.9,4.9 0 1,0 9.8,0a4.9,4.9 0 1,0 -9.8,0M1928.2,1413.2a4.9,4.9 0 1,0 9.8,0a4.9,4.9 0 1,0 -9.8,0M1930.5,1415.7a4.9,4.9 0 1,0 9.8,0a4.9,4.9 0 1,0 -9.8,0M1932.8,1412.8a4.9,4.9 0 1,0 9.8,0a4.9,4.9 0 1,0 -9.8,0M1935.0,1411.5a4.9,4.9 0 1,0 9.8,0a4.9,4.9 0 1,0 -9.8,0M1937.3,1421.5a4.9,4.9 0 1,0 9.8,0a4.9,4.9 0 1,0 -9.8,0M1939.5,1417.6a4.9,4.9 0 1,0 9.8,0a4.9,4.9 0 1,0 -9.8,0M1941.8,1419.0a4.9,4.9 0 1,0 9.8,0a4.9,4.9 0 1,0 -9.8,0M1944.1,1413.4a4.9,4.9 0 1,0 9.8,0a4.9,4.9 0 1,0 -9.8,0M1946.3,1416.3a4.9,4.9 0 1,0 9.8,0a4.9,4.9 0 1,0 -9.8,0M1948.6,1415.8a4.9,4.9 0 1,0 9.8,0a4.9,4.9 0 1,0 -9.8,0M1950.9,1412.1a4.9,4.9 0 1,0 9.8,0a4.9,4.9 0 1,0 -9.8,0M1953.1,1418.1a4.9,4.9 0 1,0 9.8,0a4.9,4.9 0 1,0 -9.8,0M1955.4,1414.3a4.9,4.9 0 1,0 9.8,0a4.9,4.9 0 1,0 -9.8,0M1957.7,1415.9a4.9,4.9 0 1,0 9.8,0a4.9,4.9 0 1,0 -9.8,0M1959.9,1412.0a4.9,4.9 0 1,0 9.8,0a4.9,4.9 0 1,0 -9.8,0M1962.2,1419.5a4.9,4.9 0 1,0 9.8,0a4.9,4.9 0 1,0 -9.8,0M1964.4,1418.9a4.9,4.9 0 1,0 9.8,0a4.9,4.9 0 1,0 -9.8,0M1966.7,1417.8a4.9,4.9 0 1,0 9.8,0a4.9,4.9 0 1,0 -9.8,0M1969.0,1413.9a4.9,4.9 0 1,0 9.8,0a4.9,4.9 0 1,0 -9.8,0M1971.2,1415.1a4.9,4.9 0 1,0 9.8,0a4.9,4.9 0 1,0 -9.8,0M1973.5,1420.4a4.9,4.9 0 1,0 9.8,0a4.9,4.9 0 1,0 -9.8,0M1975.8,1415.9a4.9,4.9 0 1,0 9.8,0a4.9,4.9 0 1,0 -9.8,0M1978.0,1417.5a4.9,4.9 0 1,0 9.8,0a4.9,4.9 0 1,0 -9.8,0M1980.3,1417.2a4.9,4.9 0 1,0 9.8,0a4.9,4.9 0 1,0 -9.8,0M1982.6,1413.4a4.9,4.9 0 1,0 9.8,0a4.9,4.9 0 1,0 -9.8,0M1984.8,1421.4a4.9,4.9 0 1,0 9.8,0a4.9,4.9 0 1,0 -9.8,0M1987.1,1410.9a4.9,4.9 0 1,0 9.8,0a4.9,4.9 0 1,0 -9.8,0M1989.3,1417.5a4.9,4.9 0 1,0 9.8,0a4.9,4.9 0 1,0 -9.8,0M1991.6,1416.6a4.9,4.9 0 1,0 9.8,0a4.9,4.9 0 1,0 -9.8,0M1993.9,1412.0a4.9,4.9 0 1,0 9.8,0a4.9,4.9 0 1,0 -9.8,0M1996.1,1417.9a4.9,4.9 0 1,0 9.8,0a4.9,4.9 0 1,0 -9.8,0M1998.4,1418.5a4.9,4.9 0 1,0 9.8,0a4.9,4.9 0 1,0 -9.8,0M2000.7,1417.1a4.9,4.9 0 1,0 9.8,0a4.9,4.9 0 1,0 -9.8,0M2002.9,1414.5a4.9,4.9 0 1,0 9.8,0a4.9,4.9 0 1,0 -9.8,0M2005.2,1418.3a4.9,4.9 0 1,0 9.8,0a4.9,4.9 0 1,0 -9.8,0M2007.5,1420.3a4.9,4.9 0 1,0 9.8,0a4.9,4.9 0 1,0 -9.8,0M2009.7,1417.7a4.9,4.9 0 1,0 9.8,0a4.9,4.9 0 1,0 -9.8,0M2012.0,1422.2a4.9,4.9 0 1,0 9.8,0a4.9,4.9 0 1,0 -9.8,0M2014.2,1419.6a4.9,4.9 0 1,0 9.8,0a4.9,4.9 0 1,0 -9.8,0M2016.5,1419.3a4.9,4.9 0 1,0 9.8,0a4.9,4.9 0 1,0 -9.8,0M2018.8,1421.2a4.9,4.9 0 1,0 9.8,0a4.9,4.9 0 1,0 -9.8,0M2021.0,1415.1a4.9,4.9 0 1,0 9.8,0a4.9,4.9 0 1,0 -9.8,0M2023.3,1415.5a4.9,4.9 0 1,0 9.8,0a4.9,4.9 0 1,0 -9.8,0M2025.6,1418.6a4.9,4.9 0 1,0 9.8,0a4.9,4.9 0 1,0 -9.8,0M2027.8,1418.7a4.9,4.9 0 1,0 9.8,0a4.9,4.9 0 1,0 -9.8,0M2030.1,1421.6a4.9,4.9 0 1,0 9.8,0a4.9,4.9 0 1,0 -9.8,0M2032.4,1420.6a4.9,4.9 0 1,0 9.8,0a4.9,4.9 0 1,0 -9.8,0M2034.6,1417.7a4.9,4.9 0 1,0 9.8,0a4.9,4.9 0 1,0 -9.8,0M2036.9,1417.8a4.9,4.9 0 1,0 9.8,0a4.9,4.9 0 1,0 -9.8,0M2039.1,1416.3a4.9,4.9 0 1,0 9.8,0a4.9,4.9 0 1,0 -9.8,0M2041.4,1416.1a4.9,4.9 0 1,0 9.8,0a4.9,4.9 0 1,0 -9.8,0M2043.7,1415.8a4.9,4.9 0 1,0 9.8,0a4.9,4.9 0 1,0 -9.8,0M2045.9,1419.9a4.9,4.9 0 1,0 9.8,0a4.9,4.9 0 1,0 -9.8,0M2048.2,1415.8a4.9,4.9 0 1,0 9.8,0a4.9,4.9 0 1,0 -9.8,0M2050.5,1416.2a4.9,4.9 0 1,0 9.8,0a4.9,4.9 0 1,0 -9.8,0M2052.7,1417.7a4.9,4.9 0 1,0 9.8,0a4.9,4.9 0 1,0 -9.8,0M2055.0,1415.7a4.9,4.9 0 1,0 9.8,0a4.9,4.9 0 1,0 -9.8,0M2057.2,1416.6a4.9,4.9 0 1,0 9.8,0a4.9,4.9 0 1,0 -9.8,0M2059.5,1410.7a4.9,4.9 0 1,0 9.8,0a4.9,4.9 0 1,0 -9.8,0M2061.8,1418.4a4.9,4.9 0 1,0 9.8,0a4.9,4.9 0 1,0 -9.8,0M2064.0,1416.4a4.9,4.9 0 1,0 9.8,0a4.9,4.9 0 1,0 -9.8,0M2066.3,1417.9a4.9,4.9 0 1,0 9.8,0a4.9,4.9 0 1,0 -9.8,0M2068.6,1418.4a4.9,4.9 0 1,0 9.8,0a4.9,4.9 0 1,0 -9.8,0M2070.8,1411.8a4.9,4.9 0 1,0 9.8,0a4.9,4.9 0 1,0 -9.8,0M2073.1,1424.6a4.9,4.9 0 1,0 9.8,0a4.9,4.9 0 1,0 -9.8,0M2075.4,1417.9a4.9,4.9 0 1,0 9.8,0a4.9,4.9 0 1,0 -9.8,0M2077.6,1417.9a4.9,4.9 0 1,0 9.8,0a4.9,4.9 0 1,0 -9.8,0M2079.9,1412.1a4.9,4.9 0 1,0 9.8,0a4.9,4.9 0 1,0 -9.8,0M2082.1,1419.3a4.9,4.9 0 1,0 9.8,0a4.9,4.9 0 1,0 -9.8,0M2084.4,1418.8a4.9,4.9 0 1,0 9.8,0a4.9,4.9 0 1,0 -9.8,0M2086.7,1416.5a4.9,4.9 0 1,0 9.8,0a4.9,4.9 0 1,0 -9.8,0M2088.9,1418.3a4.9,4.9 0 1,0 9.8,0a4.9,4.9 0 1,0 -9.8,0M2091.2,1421.5a4.9,4.9 0 1,0 9.8,0a4.9,4.9 0 1,0 -9.8,0M2093.5,1416.6a4.9,4.9 0 1,0 9.8,0a4.9,4.9 0 1,0 -9.8,0M2095.7,1415.0a4.9,4.9 0 1,0 9.8,0a4.9,4.9 0 1,0 -9.8,0M2098.0,1421.7a4.9,4.9 0 1,0 9.8,0a4.9,4.9 0 1,0 -9.8,0M2100.3,1418.5a4.9,4.9 0 1,0 9.8,0a4.9,4.9 0 1,0 -9.8,0M2102.5,1417.2a4.9,4.9 0 1,0 9.8,0a4.9,4.9 0 1,0 -9.8,0M2104.8,1424.7a4.9,4.9 0 1,0 9.8,0a4.9,4.9 0 1,0 -9.8,0M2107.0,1418.2a4.9,4.9 0 1,0 9.8,0a4.9,4.9 0 1,0 -9.8,0M2109.3,1417.3a4.9,4.9 0 1,0 9.8,0a4.9,4.9 0 1,0 -9.8,0M2111.6,1418.6a4.9,4.9 0 1,0 9.8,0a4.9,4.9 0 1,0 -9.8,0M2113.8,1416.6a4.9,4.9 0 1,0 9.8,0a4.9,4.9 0 1,0 -9.8,0M2116.1,1418.4a4.9,4.9 0 1,0 9.8,0a4.9,4.9 0 1,0 -9.8,0" fill="none" stroke="#5a5a5a" stroke-width="2.2"/>
<polyline points="1410.7,1424.6 1411.7,1424.6 1412.7,1424.6 1413.7,1424.6 1414.7,1424.6 1415.7,1424.6 1416.7,1424.6 1417.7,1424.6 1418.7,1424.6 1419.7,1424.6 1420.7,1424.6 1421.7,1424.6 1422.7,1424.6 1423.7,1424.6 1424.7,1424.6 1425.7,1424.6 1426.7,1424.6 1427.7,1424.6 1428.7,1424.6 1429.7,1424.6 1430.7,1424.6 1431.7,1424.6 1432.7,1424.6 1433.7,1424.6 1434.7,1424.6 1435.7,1424.6 1436.7,1424.6 1437.7,1424.6 1438.7,1424.6 1439.7,1424.6 1440.7,1424.6 1441.7,1424.6 1442.7,1424.6 1443.7,1424.6 1444.7,1424.6 1445.7,1424.6 1446.7,1424.6 1447.7,1424.6 1448.7,1424.6 1449.7,1424.6 1450.7,1424.6 1451.7,1424.6 1452.7,1424.6 1453.7,1424.6 1454.7,1424.6 1455.7,1424.6 1456.7,1424.6 1457.7,1424.6 1458.7,1424.6 1459.7,1424.6 1460.7,1424.6 1461.7,1424.6 1462.7,1424.6 1463.7,1424.6 1464.7,1424.6 1465.7,1424.6 1466.7,1424.6 1467.7,1424.6 1468.7,1424.6 1469.7,1424.6 1470.7,1424.6 1471.7,1424.6 1472.7,1424.6 1473.7,1424.6 1474.7,1424.6 1475.7,1424.6 1476.7,1424.6 1477.7,1424.6 1478.7,1424.6 1479.7,1424.6 1480.7,1424.6 1481.7,1424.5 1482.7,1424.5 1483.7,1424.5 1484.7,1424.5 1485.7,1424.5 1486.7,1424.5 1487.7,1424.5 1488.7,1424.5 1489.7,1424.5 1490.7,1424.5 1491.7,1424.5 1492.7,1424.5 1493.7,1424.5 1494.7,1424.5 1495.7,1424.5 1496.7,1424.5 1497.7,1424.5 1498.7,1424.5 1499.7,1424.5 1500.7,1424.5 1501.7,1424.5 1502.7,1424.5 1503.7,1424.5 1504.7,1424.5 1505.7,1424.5 1506.7,1424.5 1507.7,1424.5 1508.7,1424.5 1509.7,1424.5 1510.7,1424.5 1511.7,1424.5 1512.7,1424.5 1513.7,1424.5 1514.7,1424.5 1515.7,1424.5 1516.7,1424.5 1517.7,1424.5 1518.7,1424.5 1519.7,1424.5 1520.7,1424.5 1521.7,1424.5 1522.7,1424.5 1523.7,1424.5 1524.7,1424.5 1525.7,1424.5 1526.7,1424.5 1527.7,1424.5 1528.7,1424.5 1529.7,1424.5 1530.7,1424.5 1531.7,1424.5 1532.7,1424.5 1533.7,1424.5 1534.7,1424.5 1535.7,1424.5 1536.7,1424.5 1537.7,1424.5 1538.7,1424.5 1539.7,1424.5 1540.7,1424.5 1541.7,1424.5 1542.7,1424.5 1543.7,1424.5 1544.7,1424.5 1545.7,1424.5 1546.7,1424.5 1547.7,1424.5 1548.7,1424.5 1549.7,1424.5 1550.7,1424.5 1551.7,1424.5 1552.7,1424.5 1553.7,1424.4 1554.7,1424.4 1555.7,1424.4 1556.7,1424.4 1557.7,1424.4 1558.7,1424.4 1559.7,1424.4 1560.7,1424.4 1561.7,1424.4 1562.7,1424.4 1563.7,1424.4 1564.7,1424.4 1565.7,1424.4 1566.7,1424.4 1567.7,1424.4 1568.7,1424.4 1569.7,1424.4 1570.7,1424.4 1571.7,1424.4 1572.7,1424.4 1573.7,1424.3 1574.7,1424.3 1575.7,1424.3 1576.7,1424.3 1577.7,1424.3 1578.7,1424.3 1579.7,1424.3 1580.7,1424.3 1581.7,1424.3 1582.7,1424.3 1583.7,1424.2 1584.7,1424.2 1585.7,1424.2 1586.7,1424.2 1587.7,1424.2 1588.7,1424.2 1589.7,1424.2 1590.7,1424.1 1591.7,1424.1 1592.7,1424.1 1593.7,1424.1 1594.7,1424.1 1595.7,1424.0 1596.7,1424.0 1597.7,1424.0 1598.7,1424.0 1599.7,1424.0 1600.7,1423.9 1601.7,1423.9 1602.7,1423.9 1603.7,1423.9 1604.7,1423.8 1605.7,1423.8 1606.7,1423.8 1607.7,1423.7 1608.7,1423.7 1609.7,1423.7 1610.7,1423.6 1611.7,1423.6 1612.7,1423.6 1613.7,1423.5 1614.7,1423.5 1615.7,1423.4 1616.7,1423.4 1617.7,1423.4 1618.7,1423.3 1619.7,1423.3 1620.7,1423.2 1621.7,1423.2 1622.7,1423.1 1623.7,1423.1 1624.7,1423.0 1625.7,1423.0 1626.7,1422.9 1627.7,1422.9 1628.7,1422.8 1629.7,1422.8 1630.7,1422.7 1631.7,1422.6 1632.7,1422.6 1633.7,1422.5 1634.7,1422.5 1635.7,1422.4 1636.7,1422.4 1637.7,1422.3 1638.7,1422.2 1639.7,1422.2 1640.7,1422.1 1641.7,1422.1 1642.7,1422.0 1643.7,1422.0 1644.7,1421.9 1645.7,1421.9 1646.7,1421.8 1647.7,1421.8 1648.7,1421.7 1649.7,1421.7 1650.7,1421.6 1651.7,1421.6 1652.7,1421.5 1653.7,1421.5 1654.7,1421.4 1655.7,1421.4 1656.7,1421.3 1657.7,1421.3 1658.7,1421.3 1659.7,1421.2 1660.7,1421.2 1661.7,1421.1 1662.7,1421.1 1663.7,1421.1 1664.7,1421.0 1665.7,1421.0 1666.7,1420.9 1667.7,1420.9 1668.7,1420.9 1669.7,1420.8 1670.7,1420.8 1671.7,1420.8 1672.7,1420.7 1673.7,1420.7 1674.7,1420.7 1675.7,1420.6 1676.7,1420.6 1677.7,1420.6 1678.7,1420.5 1679.7,1420.5 1680.7,1420.5 1681.7,1420.4 1682.7,1420.4 1683.7,1420.4 1684.7,1420.3 1685.7,1420.3 1686.7,1420.3 1687.7,1420.3 1688.7,1420.2 1689.7,1420.2 1690.7,1420.2 1691.7,1420.1 1692.7,1420.1 1693.7,1420.1 1694.7,1420.0 1695.7,1420.0 1696.7,1420.0 1697.7,1420.0 1698.7,1419.9 1699.7,1419.9 1700.7,1419.9 1701.7,1419.9 1702.7,1419.8 1703.7,1419.8 1704.7,1419.8 1705.7,1419.8 1706.7,1419.7 1707.7,1419.7 1708.7,1419.7 1709.7,1419.7 1710.7,1419.6 1711.7,1419.6 1712.7,1419.6 1713.7,1419.6 1714.7,1419.5 1715.7,1419.5 1716.7,1419.5 1717.7,1419.5 1718.7,1419.5 1719.7,1419.4 1720.7,1419.4 1721.7,1419.4 1722.7,1419.4 1723.7,1419.4 1724.7,1419.4 1725.7,1419.3 1726.7,1419.3 1727.7,1419.3 1728.7,1419.3 1729.7,1419.3 1730.7,1419.3 1731.7,1419.2 1732.7,1419.2 1733.7,1419.2 1734.7,1419.2 1735.7,1419.2 1736.7,1419.2 1737.7,1419.2 1738.7,1419.2 1739.7,1419.1 1740.7,1419.1 1741.7,1419.1 1742.7,1419.1 1743.7,1419.1 1744.7,1419.1 1745.7,1419.1 1746.7,1419.1 1747.7,1419.1 1748.7,1419.0 1749.7,1419.0 1750.7,1419.0 1751.7,1419.0 1752.7,1419.0 1753.7,1419.0 1754.7,1419.0 1755.7,1419.0 1756.7,1419.0 1757.7,1419.0 1758.7,1419.0 1759.7,1419.0 1760.7,1418.9 1761.7,1418.9 1762.7,1418.9 1763.7,1418.9 1764.7,1418.9 1765.7,1418.9 1766.7,1418.9 1767.7,1418.9 1768.7,1418.9 1769.7,1418.9 1770.7,1418.9 1771.7,1418.9 1772.7,1418.9 1773.7,1418.9 1774.7,1418.9 1775.7,1418.9 1776.7,1418.9 1777.7,1418.9 1778.7,1418.9 1779.7,1418.9 1780.7,1418.8 1781.7,1418.8 1782.7,1418.8 1783.7,1418.8 1784.7,1418.8 1785.7,1418.8 1786.7,1418.8 1787.7,1418.8 1788.7,1418.8 1789.7,1418.8 1790.7,1418.8 1791.7,1418.8 1792.7,1418.8 1793.7,1418.8 1794.7,1418.8 1795.7,1418.8 1796.7,1418.8 1797.7,1418.8 1798.7,1418.8 1799.7,1418.8 1800.7,1418.8 1801.7,1418.8 1802.7,1418.8 1803.7,1418.8 1804.7,1418.8 1805.7,1418.8 1806.7,1418.8 1807.7,1418.8 1808.7,1418.8 1809.7,1418.8 1810.7,1418.8 1811.7,1418.8 1812.7,1418.8 1813.7,1418.8 1814.7,1418.8 1815.7,1418.8 1816.7,1418.8 1817.7,1418.8 1818.7,1418.8 1819.7,1418.8 1820.7,1418.7 1821.7,1418.7 1822.7,1418.7 1823.7,1418.7 1824.7,1418.7 1825.7,1418.7 1826.7,1418.7 1827.7,1418.7 1828.7,1418.7 1829.7,1418.7 1830.7,1418.7 1831.7,1418.7 1832.7,1418.7 1833.7,1418.7 1834.7,1418.7 1835.7,1418.7 1836.7,1418.7 1837.7,1418.7 1838.7,1418.7 1839.7,1418.7 1840.7,1418.7 1841.7,1418.7 1842.7,1418.7 1843.7,1418.7 1844.7,1418.7 1845.7,1418.7 1846.7,1418.7 1847.7,1418.7 1848.7,1418.7 1849.7,1418.7 1850.7,1418.7 1851.7,1418.7 1852.7,1418.7 1853.7,1418.7 1854.7,1418.7 1855.7,1418.7 1856.7,1418.7 1857.7,1418.7 1858.7,1418.7 1859.7,1418.7 1860.7,1418.7 1861.7,1418.7 1862.7,1418.7 1863.7,1418.7 1864.7,1418.7 1865.7,1418.7 1866.7,1418.7 1867.7,1418.7 1868.7,1418.7 1869.7,1418.7 1870.7,1418.7 1871.7,1418.7 1872.7,1418.7 1873.7,1418.7 1874.7,1418.7 1875.7,1418.7 1876.7,1418.7 1877.7,1418.7 1878.7,1418.7 1879.7,1418.7 1880.7,1418.7 1881.7,1418.7 1882.7,1418.7 1883.7,1418.7 1884.7,1418.7 1885.7,1418.7 1886.7,1418.7 1887.7,1418.7 1888.7,1418.7 1889.7,1418.7 1890.7,1418.7 1891.7,1418.7 1892.7,1418.7 1893.7,1418.7 1894.7,1418.7 1895.7,1418.7 1896.7,1418.7 1897.7,1418.7 1898.7,1418.7 1899.7,1418.7 1900.7,1418.7 1901.7,1418.7 1902.7,1418.7 1903.7,1418.7 1904.7,1418.7 1905.7,1418.7 1906.7,1418.7 1907.7,1418.7 1908.7,1418.7 1909.7,1418.7 1910.7,1418.7 1911.7,1418.7 1912.7,1418.7 1913.7,1418.7 1914.7,1418.7 1915.7,1418.7 1916.7,1418.7 1917.7,1418.7 1918.7,1418.7 1919.7,1418.7 1920.7,1418.7 1921.7,1418.7 1922.7,1418.7 1923.7,1418.7 1924.7,1418.7 1925.7,1418.7 1926.7,1418.7 1927.7,1418.7 1928.7,1418.7 1929.7,1418.7 1930.7,1418.7 1931.7,1418.7 1932.7,1418.7 1933.7,1418.7 1934.7,1418.7 1935.7,1418.7 1936.7,1418.7 1937.7,1418.7 1938.7,1418.7 1939.7,1418.7 1940.7,1418.7 1941.7,1418.7 1942.7,1418.7 1943.7,1418.7 1944.7,1418.7 1945.7,1418.7 1946.7,1418.6 1947.7,1418.6 1948.7,1418.6 1949.7,1418.6 1950.7,1418.6 1951.7,1418.6 1952.7,1418.6 1953.7,1418.6 1954.7,1418.6 1955.7,1418.6 1956.7,1418.6 1957.7,1418.6 1958.7,1418.6 1959.7,1418.6 1960.7,1418.6 1961.7,1418.6 1962.7,1418.6 1963.7,1418.6 1964.7,1418.6 1965.7,1418.6 1966.7,1418.6 1967.7,1418.6 1968.7,1418.6 1969.7,1418.6 1970.7,1418.6 1971.7,1418.6 1972.7,1418.6 1973.7,1418.6 1974.7,1418.6 1975.7,1418.6 1976.7,1418.6 1977.7,1418.6 1978.7,1418.6 1979.7,1418.6 1980.7,1418.6 1981.7,1418.6 1982.7,1418.6 1983.7,1418.6 1984.7,1418.6 1985.7,1418.6 1986.7,1418.6 1987.7,1418.6 1988.7,1418.6 1989.7,1418.6 1990.7,1418.6 1991.7,1418.6 1992.7,1418.6 1993.7,1418.6 1994.7,1418.6 1995.7,1418.6 1996.7,1418.6 1997.7,1418.6 1998.7,1418.6 1999.7,1418.6 2000.7,1418.6 2001.7,1418.6 2002.7,1418.6 2003.7,1418.6 2004.7,1418.6 2005.7,1418.6 2006.7,1418.6 2007.7,1418.6 2008.7,1418.6 2009.7,1418.6 2010.7,1418.6 2011.7,1418.6 2012.7,1418.6 2013.7,1418.6 2014.7,1418.6 2015.7,1418.6 2016.7,1418.6 2017.7,1418.6 2018.7,1418.6 2019.7,1418.6 2020.7,1418.6 2021.7,1418.6 2022.7,1418.6 2023.7,1418.6 2024.7,1418.6 2025.7,1418.6 2026.7,1418.6 2027.7,1418.6 2028.7,1418.6 2029.7,1418.6 2030.7,1418.6 2031.7,1418.6 2032.7,1418.6 2033.7,1418.6 2034.7,1418.6 2035.7,1418.6 2036.7,1418.6 2037.7,1418.6 2038.7,1418.6 2039.7,1418.6 2040.7,1418.6 2041.7,1418.6 2042.7,1418.6 2043.7,1418.6 2044.7,1418.6 2045.7,1418.6 2046.7,1418.6 2047.7,1418.6 2048.7,1418.6 2049.7,1418.6 2050.7,1418.6 2051.7,1418.6 2052.7,1418.6 2053.7,1418.6 2054.7,1418.6 2055.7,1418.6 2056.7,1418.6 2057.7,1418.6 2058.7,1418.6 2059.7,1418.6 2060.7,1418.6 2061.7,1418.6 2062.7,1418.6 2063.7,1418.6 2064.7,1418.6 2065.7,1418.6 2066.7,1418.6 2067.7,1418.6 2068.7,1418.6 2069.7,1418.6 2070.7,1418.6 2071.7,1418.6 2072.7,1418.6 2073.7,1418.6 2074.7,1418.6 2075.7,1418.6 2076.7,1418.6 2077.7,1418.6 2078.7,1418.6 2079.7,1418.6 2080.7,1418.6 2081.7,1418.6 2082.7,1418.6 2083.7,1418.6 2084.7,1418.6 2085.7,1418.6 2086.7,1418.6 2087.7,1418.6 2088.7,1418.6 2089.7,1418.6 2090.7,1418.6 2091.7,1418.6 2092.7,1418.6 2093.7,1418.6 2094.7,1418.6 2095.7,1418.6 2096.7,1418.6 2097.7,1418.6 2098.7,1418.6 2099.7,1418.6 2100.7,1418.6 2101.7,1418.6 2102.7,1418.6 2103.7,1418.6 2104.7,1418.6 2105.7,1418.6 2106.7,1418.6 2107.7,1418.6 2108.7,1418.6 2109.7,1418.6 2110.7,1418.6 2111.7,1418.6 2112.7,1418.6 2113.7,1418.6 2114.7,1418.6 2115.7,1418.6 2116.7,1418.6 2117.7,1418.6 2118.7,1418.6 2119.7,1418.6 2120.7,1418.6" fill="none" stroke="#808000" stroke-width="2.6" stroke-linejoin="round" stroke-linecap="round"/>
<polyline points="1410.7,1421.5 1411.7,1421.5 1412.7,1421.5 1413.7,1421.5 1414.7,1421.4 1415.7,1421.4 1416.7,1421.4 1417.7,1421.3 1418.7,1421.3 1419.7,1421.3 1420.7,1421.3 1421.7,1421.2 1422.7,1421.2 1423.7,1421.2 1424.7,1421.1 1425.7,1421.1 1426.7,1421.1 1427.7,1421.1 1428.7,1421.0 1429.7,1421.0 1430.7,1421.0 1431.7,1420.9 1432.7,1420.9 1433.7,1420.9 1434.7,1420.8 1435.7,1420.8 1436.7,1420.8 1437.7,1420.7 1438.7,1420.7 1439.7,1420.7 1440.7,1420.6 1441.7,1420.6 1442.7,1420.5 1443.7,1420.5 1444.7,1420.5 1445.7,1420.4 1446.7,1420.4 1447.7,1420.3 1448.7,1420.3 1449.7,1420.3 1450.7,1420.2 1451.7,1420.2 1452.7,1420.1 1453.7,1420.1 1454.7,1420.0 1455.7,1420.0 1456.7,1419.9 1457.7,1419.9 1458.7,1419.9 1459.7,1419.8 1460.7,1419.8 1461.7,1419.7 1462.7,1419.7 1463.7,1419.6 1464.7,1419.6 1465.7,1419.5 1466.7,1419.4 1467.7,1419.4 1468.7,1419.3 1469.7,1419.3 1470.7,1419.2 1471.7,1419.2 1472.7,1419.1 1473.7,1419.0 1474.7,1419.0 1475.7,1418.9 1476.7,1418.9 1477.7,1418.8 1478.7,1418.7 1479.7,1418.7 1480.7,1418.6 1481.7,1418.5 1482.7,1418.4 1483.7,1418.4 1484.7,1418.3 1485.7,1418.2 1486.7,1418.1 1487.7,1418.1 1488.7,1418.0 1489.7,1417.9 1490.7,1417.8 1491.7,1417.7 1492.7,1417.6 1493.7,1417.6 1494.7,1417.5 1495.7,1417.4 1496.7,1417.3 1497.7,1417.2 1498.7,1417.1 1499.7,1417.0 1500.7,1416.9 1501.7,1416.8 1502.7,1416.7 1503.7,1416.6 1504.7,1416.4 1505.7,1416.3 1506.7,1416.2 1507.7,1416.1 1508.7,1416.0 1509.7,1415.8 1510.7,1415.7 1511.7,1415.6 1512.7,1415.4 1513.7,1415.3 1514.7,1415.1 1515.7,1415.0 1516.7,1414.8 1517.7,1414.6 1518.7,1414.5 1519.7,1414.3 1520.7,1414.1 1521.7,1413.9 1522.7,1413.7 1523.7,1413.5 1524.7,1413.3 1525.7,1413.1 1526.7,1412.8 1527.7,1412.6 1528.7,1412.3 1529.7,1412.1 1530.7,1411.8 1531.7,1411.5 1532.7,1411.2 1533.7,1410.9 1534.7,1410.5 1535.7,1410.2 1536.7,1409.8 1537.7,1409.4 1538.7,1409.0 1539.7,1408.5 1540.7,1408.0 1541.7,1407.5 1542.7,1407.0 1543.7,1406.5 1544.7,1405.9 1545.7,1405.2 1546.7,1404.6 1547.7,1403.9 1548.7,1403.1 1549.7,1402.3 1550.7,1401.5 1551.7,1400.6 1552.7,1399.7 1553.7,1398.7 1554.7,1397.6 1555.7,1396.5 1556.7,1395.3 1557.7,1394.0 1558.7,1392.7 1559.7,1391.3 1560.7,1389.8 1561.7,1388.2 1562.7,1386.6 1563.7,1384.8 1564.7,1382.9 1565.7,1381.0 1566.7,1378.9 1567.7,1376.7 1568.7,1374.4 1569.7,1372.0 1570.7,1369.4 1571.7,1366.7 1572.7,1363.9 1573.7,1361.0 1574.7,1357.9 1575.7,1354.6 1576.7,1351.2 1577.7,1347.7 1578.7,1344.0 1579.7,1340.1 1580.7,1336.1 1581.7,1331.9 1582.7,1327.5 1583.7,1323.0 1584.7,1318.3 1585.7,1313.4 1586.7,1308.3 1587.7,1303.1 1588.7,1297.6 1589.7,1292.0 1590.7,1286.2 1591.7,1280.2 1592.7,1274.0 1593.7,1267.7 1594.7,1261.1 1595.7,1254.4 1596.7,1247.5 1597.7,1240.5 1598.7,1233.2 1599.7,1225.8 1600.7,1218.2 1601.7,1210.4 1602.7,1202.5 1603.7,1194.4 1604.7,1186.1 1605.7,1177.7 1606.7,1169.2 1607.7,1160.5 1608.7,1151.7 1609.7,1142.7 1610.7,1133.7 1611.7,1124.5 1612.7,1115.2 1613.7,1105.9 1614.7,1096.4 1615.7,1087.0 1616.7,1077.5 1617.7,1068.0 1618.7,1058.6 1619.7,1049.2 1620.7,1039.9 1621.7,1030.8 1622.7,1021.9 1623.7,1013.2 1624.7,1004.9 1625.7,997.0 1626.7,989.5 1627.7,982.6 1628.7,976.3 1629.7,970.6 1630.7,965.7 1631.7,961.6 1632.7,958.2 1633.7,955.8 1634.7,954.2 1635.7,953.8 1636.7,954.5 1637.7,956.3 1638.7,959.1 1639.7,962.8 1640.7,967.4 1641.7,972.6 1642.7,978.3 1643.7,984.5 1644.7,991.0 1645.7,997.8 1646.7,1004.7 1647.7,1011.6 1648.7,1018.6 1649.7,1025.5 1650.7,1032.3 1651.7,1039.0 1652.7,1045.6 1653.7,1052.0 1654.7,1058.3 1655.7,1064.3 1656.7,1070.2 1657.7,1075.9 1658.7,1081.4 1659.7,1086.7 1660.7,1091.8 1661.7,1096.7 1662.7,1101.5 1663.7,1106.1 1664.7,1110.5 1665.7,1114.7 1666.7,1118.7 1667.7,1122.6 1668.7,1126.3 1669.7,1129.9 1670.7,1133.2 1671.7,1136.5 1672.7,1139.5 1673.7,1142.5 1674.7,1145.2 1675.7,1147.9 1676.7,1150.4 1677.7,1152.8 1678.7,1155.1 1679.7,1157.2 1680.7,1159.3 1681.7,1161.3 1682.7,1163.2 1683.7,1165.0 1684.7,1166.8 1685.7,1168.6 1686.7,1170.4 1687.7,1172.1 1688.7,1173.9 1689.7,1175.7 1690.7,1177.5 1691.7,1179.4 1692.7,1181.4 1693.7,1183.5 1694.7,1185.6 1695.7,1187.8 1696.7,1190.2 1697.7,1192.6 1698.7,1195.1 1699.7,1197.7 1700.7,1200.4 1701.7,1203.2 1702.7,1206.0 1703.7,1208.9 1704.7,1211.9 1705.7,1215.0 1706.7,1218.1 1707.7,1221.2 1708.7,1224.5 1709.7,1227.7 1710.7,1231.0 1711.7,1234.4 1712.7,1237.7 1713.7,1241.1 1714.7,1244.5 1715.7,1247.9 1716.7,1251.3 1717.7,1254.7 1718.7,1258.1 1719.7,1261.5 1720.7,1264.8 1721.7,1268.1 1722.7,1271.5 1723.7,1274.7 1724.7,1278.0 1725.7,1281.2 1726.7,1284.4 1727.7,1287.5 1728.7,1290.6 1729.7,1293.6 1730.7,1296.6 1731.7,1299.6 1732.7,1302.5 1733.7,1305.3 1734.7,1308.1 1735.7,1310.9 1736.7,1313.6 1737.7,1316.3 1738.7,1318.9 1739.7,1321.4 1740.7,1323.9 1741.7,1326.4 1742.7,1328.8 1743.7,1331.2 1744.7,1333.5 1745.7,1335.7 1746.7,1337.9 1747.7,1340.1 1748.7,1342.2 1749.7,1344.3 1750.7,1346.3 1751.7,1348.3 1752.7,1350.2 1753.7,1352.1 1754.7,1353.9 1755.7,1355.7 1756.7,1357.4 1757.7,1359.1 1758.7,1360.8 1759.7,1362.4 1760.7,1364.0 1761.7,1365.5 1762.7,1367.0 1763.7,1368.4 1764.7,1369.8 1765.7,1371.2 1766.7,1372.5 1767.7,1373.8 1768.7,1375.1 1769.7,1376.3 1770.7,1377.5 1771.7,1378.6 1772.7,1379.7 1773.7,1380.8 1774.7,1381.9 1775.7,1382.9 1776.7,1383.9 1777.7,1384.8 1778.7,1385.7 1779.7,1386.6 1780.7,1387.5 1781.7,1388.3 1782.7,1389.1 1783.7,1389.9 1784.7,1390.7 1785.7,1391.4 1786.7,1392.1 1787.7,1392.8 1788.7,1393.4 1789.7,1394.1 1790.7,1394.7 1791.7,1395.3 1792.7,1395.8 1793.7,1396.4 1794.7,1396.9 1795.7,1397.4 1796.7,1397.9 1797.7,1398.4 1798.7,1398.9 1799.7,1399.3 1800.7,1399.8 1801.7,1400.2 1802.7,1400.6 1803.7,1401.0 1804.7,1401.3 1805.7,1401.7 1806.7,1402.1 1807.7,1402.4 1808.7,1402.7 1809.7,1403.0 1810.7,1403.3 1811.7,1403.6 1812.7,1403.9 1813.7,1404.2 1814.7,1404.5 1815.7,1404.7 1816.7,1405.0 1817.7,1405.2 1818.7,1405.4 1819.7,1405.7 1820.7,1405.9 1821.7,1406.1 1822.7,1406.3 1823.7,1406.5 1824.7,1406.7 1825.7,1406.9 1826.7,1407.1 1827.7,1407.3 1828.7,1407.4 1829.7,1407.6 1830.7,1407.8 1831.7,1407.9 1832.7,1408.1 1833.7,1408.2 1834.7,1408.4 1835.7,1408.5 1836.7,1408.7 1837.7,1408.8 1838.7,1408.9 1839.7,1409.1 1840.7,1409.2 1841.7,1409.3 1842.7,1409.4 1843.7,1409.6 1844.7,1409.7 1845.7,1409.8 1846.7,1409.9 1847.7,1410.0 1848.7,1410.1 1849.7,1410.2 1850.7,1410.3 1851.7,1410.4 1852.7,1410.5 1853.7,1410.6 1854.7,1410.7 1855.7,1410.8 1856.7,1410.9 1857.7,1411.0 1858.7,1411.1 1859.7,1411.1 1860.7,1411.2 1861.7,1411.3 1862.7,1411.4 1863.7,1411.5 1864.7,1411.6 1865.7,1411.6 1866.7,1411.7 1867.7,1411.8 1868.7,1411.8 1869.7,1411.9 1870.7,1412.0 1871.7,1412.1 1872.7,1412.1 1873.7,1412.2 1874.7,1412.3 1875.7,1412.3 1876.7,1412.4 1877.7,1412.5 1878.7,1412.5 1879.7,1412.6 1880.7,1412.6 1881.7,1412.7 1882.7,1412.8 1883.7,1412.8 1884.7,1412.9 1885.7,1412.9 1886.7,1413.0 1887.7,1413.0 1888.7,1413.1 1889.7,1413.1 1890.7,1413.2 1891.7,1413.2 1892.7,1413.3 1893.7,1413.3 1894.7,1413.4 1895.7,1413.4 1896.7,1413.5 1897.7,1413.5 1898.7,1413.6 1899.7,1413.6 1900.7,1413.7 1901.7,1413.7 1902.7,1413.8 1903.7,1413.8 1904.7,1413.8 1905.7,1413.9 1906.7,1413.9 1907.7,1414.0 1908.7,1414.0 1909.7,1414.0 1910.7,1414.1 1911.7,1414.1 1912.7,1414.2 1913.7,1414.2 1914.7,1414.2 1915.7,1414.3 1916.7,1414.3 1917.7,1414.3 1918.7,1414.4 1919.7,1414.4 1920.7,1414.5 1921.7,1414.5 1922.7,1414.5 1923.7,1414.6 1924.7,1414.6 1925.7,1414.6 1926.7,1414.7 1927.7,1414.7 1928.7,1414.7 1929.7,1414.7 1930.7,1414.8 1931.7,1414.8 1932.7,1414.8 1933.7,1414.9 1934.7,1414.9 1935.7,1414.9 1936.7,1415.0 1937.7,1415.0 1938.7,1415.0 1939.7,1415.0 1940.7,1415.1 1941.7,1415.1 1942.7,1415.1 1943.7,1415.1 1944.7,1415.2 1945.7,1415.2 1946.7,1415.2 1947.7,1415.2 1948.7,1415.3 1949.7,1415.3 1950.7,1415.3 1951.7,1415.3 1952.7,1415.4 1953.7,1415.4 1954.7,1415.4 1955.7,1415.4 1956.7,1415.5 1957.7,1415.5 1958.7,1415.5 1959.7,1415.5 1960.7,1415.5 1961.7,1415.6 1962.7,1415.6 1963.7,1415.6 1964.7,1415.6 1965.7,1415.7 1966.7,1415.7 1967.7,1415.7 1968.7,1415.7 1969.7,1415.7 1970.7,1415.8 1971.7,1415.8 1972.7,1415.8 1973.7,1415.8 1974.7,1415.8 1975.7,1415.8 1976.7,1415.9 1977.7,1415.9 1978.7,1415.9 1979.7,1415.9 1980.7,1415.9 1981.7,1416.0 1982.7,1416.0 1983.7,1416.0 1984.7,1416.0 1985.7,1416.0 1986.7,1416.0 1987.7,1416.1 1988.7,1416.1 1989.7,1416.1 1990.7,1416.1 1991.7,1416.1 1992.7,1416.1 1993.7,1416.2 1994.7,1416.2 1995.7,1416.2 1996.7,1416.2 1997.7,1416.2 1998.7,1416.2 1999.7,1416.2 2000.7,1416.3 2001.7,1416.3 2002.7,1416.3 2003.7,1416.3 2004.7,1416.3 2005.7,1416.3 2006.7,1416.3 2007.7,1416.4 2008.7,1416.4 2009.7,1416.4 2010.7,1416.4 2011.7,1416.4 2012.7,1416.4 2013.7,1416.4 2014.7,1416.4 2015.7,1416.5 2016.7,1416.5 2017.7,1416.5 2018.7,1416.5 2019.7,1416.5 2020.7,1416.5 2021.7,1416.5 2022.7,1416.5 2023.7,1416.6 2024.7,1416.6 2025.7,1416.6 2026.7,1416.6 2027.7,1416.6 2028.7,1416.6 2029.7,1416.6 2030.7,1416.6 2031.7,1416.7 2032.7,1416.7 2033.7,1416.7 2034.7,1416.7 2035.7,1416.7 2036.7,1416.7 2037.7,1416.7 2038.7,1416.7 2039.7,1416.7 2040.7,1416.7 2041.7,1416.8 2042.7,1416.8 2043.7,1416.8 2044.7,1416.8 2045.7,1416.8 2046.7,1416.8 2047.7,1416.8 2048.7,1416.8 2049.7,1416.8 2050.7,1416.8 2051.7,1416.9 2052.7,1416.9 2053.7,1416.9 2054.7,1416.9 2055.7,1416.9 2056.7,1416.9 2057.7,1416.9 2058.7,1416.9 2059.7,1416.9 2060.7,1416.9 2061.7,1416.9 2062.7,1417.0 2063.7,1417.0 2064.7,1417.0 2065.7,1417.0 2066.7,1417.0 2067.7,1417.0 2068.7,1417.0 2069.7,1417.0 2070.7,1417.0 2071.7,1417.0 2072.7,1417.0 2073.7,1417.0 2074.7,1417.0 2075.7,1417.1 2076.7,1417.1 2077.7,1417.1 2078.7,1417.1 2079.7,1417.1 2080.7,1417.1 2081.7,1417.1 2082.7,1417.1 2083.7,1417.1 2084.7,1417.1 2085.7,1417.1 2086.7,1417.1 2087.7,1417.1 2088.7,1417.2 2089.7,1417.2 2090.7,1417.2 2091.7,1417.2 2092.7,1417.2 2093.7,1417.2 2094.7,1417.2 2095.7,1417.2 2096.7,1417.2 2097.7,1417.2 2098.7,1417.2 2099.7,1417.2 2100.7,1417.2 2101.7,1417.2 2102.7,1417.2 2103.7,1417.2 2104.7,1417.3 2105.7,1417.3 2106.7,1417.3 2107.7,1417.3 2108.7,1417.3 2109.7,1417.3 2110.7,1417.3 2111.7,1417.3 2112.7,1417.3 2113.7,1417.3 2114.7,1417.3 2115.7,1417.3 2116.7,1417.3 2117.7,1417.3 2118.7,1417.3 2119.7,1417.3 2120.7,1417.3" fill="none" stroke="#ff8000" stroke-width="2.8" stroke-linejoin="round" stroke-linecap="round"/>
<polyline points="1410.7,1422.8 1411.7,1422.8 1412.7,1422.7 1413.7,1422.7 1414.7,1422.7 1415.7,1422.7 1416.7,1422.7 1417.7,1422.7 1418.7,1422.6 1419.7,1422.6 1420.7,1422.6 1421.7,1422.6 1422.7,1422.6 1423.7,1422.5 1424.7,1422.5 1425.7,1422.5 1426.7,1422.5 1427.7,1422.5 1428.7,1422.4 1429.7,1422.4 1430.7,1422.4 1431.7,1422.4 1432.7,1422.4 1433.7,1422.3 1434.7,1422.3 1435.7,1422.3 1436.7,1422.3 1437.7,1422.2 1438.7,1422.2 1439.7,1422.2 1440.7,1422.2 1441.7,1422.1 1442.7,1422.1 1443.7,1422.1 1444.7,1422.1 1445.7,1422.0 1446.7,1422.0 1447.7,1422.0 1448.7,1422.0 1449.7,1421.9 1450.7,1421.9 1451.7,1421.9 1452.7,1421.8 1453.7,1421.8 1454.7,1421.8 1455.7,1421.8 1456.7,1421.7 1457.7,1421.7 1458.7,1421.7 1459.7,1421.6 1460.7,1421.6 1461.7,1421.6 1462.7,1421.5 1463.7,1421.5 1464.7,1421.4 1465.7,1421.4 1466.7,1421.4 1467.7,1421.3 1468.7,1421.3 1469.7,1421.3 1470.7,1421.2 1471.7,1421.2 1472.7,1421.1 1473.7,1421.1 1474.7,1421.0 1475.7,1421.0 1476.7,1421.0 1477.7,1420.9 1478.7,1420.9 1479.7,1420.8 1480.7,1420.8 1481.7,1420.7 1482.7,1420.7 1483.7,1420.6 1484.7,1420.6 1485.7,1420.5 1486.7,1420.5 1487.7,1420.4 1488.7,1420.3 1489.7,1420.3 1490.7,1420.2 1491.7,1420.2 1492.7,1420.1 1493.7,1420.0 1494.7,1420.0 1495.7,1419.9 1496.7,1419.8 1497.7,1419.8 1498.7,1419.7 1499.7,1419.6 1500.7,1419.6 1501.7,1419.5 1502.7,1419.4 1503.7,1419.3 1504.7,1419.2 1505.7,1419.2 1506.7,1419.1 1507.7,1419.0 1508.7,1418.9 1509.7,1418.8 1510.7,1418.7 1511.7,1418.6 1512.7,1418.5 1513.7,1418.4 1514.7,1418.3 1515.7,1418.2 1516.7,1418.1 1517.7,1417.9 1518.7,1417.8 1519.7,1417.7 1520.7,1417.5 1521.7,1417.4 1522.7,1417.2 1523.7,1417.1 1524.7,1416.9 1525.7,1416.8 1526.7,1416.6 1527.7,1416.4 1528.7,1416.2 1529.7,1416.0 1530.7,1415.8 1531.7,1415.6 1532.7,1415.3 1533.7,1415.1 1534.7,1414.8 1535.7,1414.5 1536.7,1414.2 1537.7,1413.9 1538.7,1413.6 1539.7,1413.2 1540.7,1412.8 1541.7,1412.4 1542.7,1412.0 1543.7,1411.5 1544.7,1411.0 1545.7,1410.5 1546.7,1410.0 1547.7,1409.4 1548.7,1408.8 1549.7,1408.1 1550.7,1407.4 1551.7,1406.6 1552.7,1405.8 1553.7,1405.0 1554.7,1404.1 1555.7,1403.1 1556.7,1402.1 1557.7,1401.0 1558.7,1399.8 1559.7,1398.6 1560.7,1397.3 1561.7,1395.9 1562.7,1394.4 1563.7,1392.9 1564.7,1391.2 1565.7,1389.5 1566.7,1387.6 1567.7,1385.7 1568.7,1383.6 1569.7,1381.4 1570.7,1379.2 1571.7,1376.7 1572.7,1374.2 1573.7,1371.6 1574.7,1368.8 1575.7,1365.8 1576.7,1362.8 1577.7,1359.6 1578.7,1356.2 1579.7,1352.7 1580.7,1349.0 1581.7,1345.2 1582.7,1341.3 1583.7,1337.1 1584.7,1332.8 1585.7,1328.4 1586.7,1323.8 1587.7,1319.0 1588.7,1314.0 1589.7,1308.9 1590.7,1303.6 1591.7,1298.1 1592.7,1292.5 1593.7,1286.7 1594.7,1280.7 1595.7,1274.6 1596.7,1268.3 1597.7,1261.9 1598.7,1255.2 1599.7,1248.5 1600.7,1241.5 1601.7,1234.5 1602.7,1227.3 1603.7,1219.9 1604.7,1212.4 1605.7,1204.8 1606.7,1197.0 1607.7,1189.1 1608.7,1181.2 1609.7,1173.1 1610.7,1164.9 1611.7,1156.6 1612.7,1148.2 1613.7,1139.8 1614.7,1131.4 1615.7,1122.9 1616.7,1114.4 1617.7,1105.9 1618.7,1097.5 1619.7,1089.2 1620.7,1081.1 1621.7,1073.1 1622.7,1065.3 1623.7,1057.8 1624.7,1050.7 1625.7,1044.0 1626.7,1037.8 1627.7,1032.1 1628.7,1027.1 1629.7,1022.7 1630.7,1019.2 1631.7,1016.4 1632.7,1014.4 1633.7,1013.4 1634.7,1013.3 1635.7,1014.3 1636.7,1016.5 1637.7,1019.8 1638.7,1024.2 1639.7,1029.5 1640.7,1035.6 1641.7,1042.5 1642.7,1049.9 1643.7,1057.7 1644.7,1066.0 1645.7,1074.4 1646.7,1083.1 1647.7,1091.9 1648.7,1100.6 1649.7,1109.4 1650.7,1118.1 1651.7,1126.7 1652.7,1135.3 1653.7,1143.7 1654.7,1151.9 1655.7,1160.0 1656.7,1168.0 1657.7,1175.8 1658.7,1183.4 1659.7,1190.9 1660.7,1198.2 1661.7,1205.4 1662.7,1212.4 1663.7,1219.3 1664.7,1226.0 1665.7,1232.6 1666.7,1239.1 1667.7,1245.4 1668.7,1251.6 1669.7,1257.6 1670.7,1263.5 1671.7,1269.2 1672.7,1274.8 1673.7,1280.3 1674.7,1285.7 1675.7,1290.9 1676.7,1295.9 1677.7,1300.9 1678.7,1305.7 1679.7,1310.3 1680.7,1314.9 1681.7,1319.2 1682.7,1323.5 1683.7,1327.6 1684.7,1331.6 1685.7,1335.5 1686.7,1339.2 1687.7,1342.8 1688.7,1346.3 1689.7,1349.6 1690.7,1352.8 1691.7,1355.9 1692.7,1358.9 1693.7,1361.8 1694.7,1364.5 1695.7,1367.1 1696.7,1369.6 1697.7,1372.0 1698.7,1374.3 1699.7,1376.5 1700.7,1378.6 1701.7,1380.6 1702.7,1382.5 1703.7,1384.4 1704.7,1386.1 1705.7,1387.7 1706.7,1389.3 1707.7,1390.7 1708.7,1392.1 1709.7,1393.5 1710.7,1394.7 1711.7,1395.9 1712.7,1397.0 1713.7,1398.1 1714.7,1399.1 1715.7,1400.0 1716.7,1400.9 1717.7,1401.8 1718.7,1402.6 1719.7,1403.3 1720.7,1404.0 1721.7,1404.7 1722.7,1405.3 1723.7,1405.9 1724.7,1406.4 1725.7,1406.9 1726.7,1407.4 1727.7,1407.9 1728.7,1408.3 1729.7,1408.7 1730.7,1409.1 1731.7,1409.4 1732.7,1409.8 1733.7,1410.1 1734.7,1410.4 1735.7,1410.6 1736.7,1410.9 1737.7,1411.1 1738.7,1411.4 1739.7,1411.6 1740.7,1411.8 1741.7,1412.0 1742.7,1412.2 1743.7,1412.3 1744.7,1412.5 1745.7,1412.7 1746.7,1412.8 1747.7,1412.9 1748.7,1413.1 1749.7,1413.2 1750.7,1413.3 1751.7,1413.4 1752.7,1413.5 1753.7,1413.6 1754.7,1413.7 1755.7,1413.8 1756.7,1413.9 1757.7,1414.0 1758.7,1414.1 1759.7,1414.2 1760.7,1414.3 1761.7,1414.3 1762.7,1414.4 1763.7,1414.5 1764.7,1414.5 1765.7,1414.6 1766.7,1414.7 1767.7,1414.7 1768.7,1414.8 1769.7,1414.8 1770.7,1414.9 1771.7,1415.0 1772.7,1415.0 1773.7,1415.1 1774.7,1415.1 1775.7,1415.2 1776.7,1415.2 1777.7,1415.3 1778.7,1415.3 1779.7,1415.3 1780.7,1415.4 1781.7,1415.4 1782.7,1415.5 1783.7,1415.5 1784.7,1415.6 1785.7,1415.6 1786.7,1415.6 1787.7,1415.7 1788.7,1415.7 1789.7,1415.7 1790.7,1415.8 1791.7,1415.8 1792.7,1415.9 1793.7,1415.9 1794.7,1415.9 1795.7,1416.0 1796.7,1416.0 1797.7,1416.0 1798.7,1416.0 1799.7,1416.1 1800.7,1416.1 1801.7,1416.1 1802.7,1416.2 1803.7,1416.2 1804.7,1416.2 1805.7,1416.2 1806.7,1416.3 1807.7,1416.3 1808.7,1416.3 1809.7,1416.4 1810.7,1416.4 1811.7,1416.4 1812.7,1416.4 1813.7,1416.5 1814.7,1416.5 1815.7,1416.5 1816.7,1416.5 1817.7,1416.5 1818.7,1416.6 1819.7,1416.6 1820.7,1416.6 1821.7,1416.6 1822.7,1416.6 1823.7,1416.7 1824.7,1416.7 1825.7,1416.7 1826.7,1416.7 1827.7,1416.7 1828.7,1416.8 1829.7,1416.8 1830.7,1416.8 1831.7,1416.8 1832.7,1416.8 1833.7,1416.9 1834.7,1416.9 1835.7,1416.9 1836.7,1416.9 1837.7,1416.9 1838.7,1416.9 1839.7,1417.0 1840.7,1417.0 1841.7,1417.0 1842.7,1417.0 1843.7,1417.0 1844.7,1417.0 1845.7,1417.0 1846.7,1417.1 1847.7,1417.1 1848.7,1417.1 1849.7,1417.1 1850.7,1417.1 1851.7,1417.1 1852.7,1417.1 1853.7,1417.2 1854.7,1417.2 1855.7,1417.2 1856.7,1417.2 1857.7,1417.2 1858.7,1417.2 1859.7,1417.2 1860.7,1417.2 1861.7,1417.3 1862.7,1417.3 1863.7,1417.3 1864.7,1417.3 1865.7,1417.3 1866.7,1417.3 1867.7,1417.3 1868.7,1417.3 1869.7,1417.3 1870.7,1417.4 1871.7,1417.4 1872.7,1417.4 1873.7,1417.4 1874.7,1417.4 1875.7,1417.4 1876.7,1417.4 1877.7,1417.4 1878.7,1417.4 1879.7,1417.4 1880.7,1417.5 1881.7,1417.5 1882.7,1417.5 1883.7,1417.5 1884.7,1417.5 1885.7,1417.5 1886.7,1417.5 1887.7,1417.5 1888.7,1417.5 1889.7,1417.5 1890.7,1417.5 1891.7,1417.5 1892.7,1417.6 1893.7,1417.6 1894.7,1417.6 1895.7,1417.6 1896.7,1417.6 1897.7,1417.6 1898.7,1417.6 1899.7,1417.6 1900.7,1417.6 1901.7,1417.6 1902.7,1417.6 1903.7,1417.6 1904.7,1417.6 1905.7,1417.7 1906.7,1417.7 1907.7,1417.7 1908.7,1417.7 1909.7,1417.7 1910.7,1417.7 1911.7,1417.7 1912.7,1417.7 1913.7,1417.7 1914.7,1417.7 1915.7,1417.7 1916.7,1417.7 1917.7,1417.7 1918.7,1417.7 1919.7,1417.7 1920.7,1417.7 1921.7,1417.8 1922.7,1417.8 1923.7,1417.8 1924.7,1417.8 1925.7,1417.8 1926.7,1417.8 1927.7,1417.8 1928.7,1417.8 1929.7,1417.8 1930.7,1417.8 1931.7,1417.8 1932.7,1417.8 1933.7,1417.8 1934.7,1417.8 1935.7,1417.8 1936.7,1417.8 1937.7,1417.8 1938.7,1417.8 1939.7,1417.8 1940.7,1417.9 1941.7,1417.9 1942.7,1417.9 1943.7,1417.9 1944.7,1417.9 1945.7,1417.9 1946.7,1417.9 1947.7,1417.9 1948.7,1417.9 1949.7,1417.9 1950.7,1417.9 1951.7,1417.9 1952.7,1417.9 1953.7,1417.9 1954.7,1417.9 1955.7,1417.9 1956.7,1417.9 1957.7,1417.9 1958.7,1417.9 1959.7,1417.9 1960.7,1417.9 1961.7,1417.9 1962.7,1417.9 1963.7,1418.0 1964.7,1418.0 1965.7,1418.0 1966.7,1418.0 1967.7,1418.0 1968.7,1418.0 1969.7,1418.0 1970.7,1418.0 1971.7,1418.0 1972.7,1418.0 1973.7,1418.0 1974.7,1418.0 1975.7,1418.0 1976.7,1418.0 1977.7,1418.0 1978.7,1418.0 1979.7,1418.0 1980.7,1418.0 1981.7,1418.0 1982.7,1418.0 1983.7,1418.0 1984.7,1418.0 1985.7,1418.0 1986.7,1418.0 1987.7,1418.0 1988.7,1418.0 1989.7,1418.0 1990.7,1418.0 1991.7,1418.0 1992.7,1418.0 1993.7,1418.1 1994.7,1418.1 1995.7,1418.1 1996.7,1418.1 1997.7,1418.1 1998.7,1418.1 1999.7,1418.1 2000.7,1418.1 2001.7,1418.1 2002.7,1418.1 2003.7,1418.1 2004.7,1418.1 2005.7,1418.1 2006.7,1418.1 2007.7,1418.1 2008.7,1418.1 2009.7,1418.1 2010.7,1418.1 2011.7,1418.1 2012.7,1418.1 2013.7,1418.1 2014.7,1418.1 2015.7,1418.1 2016.7,1418.1 2017.7,1418.1 2018.7,1418.1 2019.7,1418.1 2020.7,1418.1 2021.7,1418.1 2022.7,1418.1 2023.7,1418.1 2024.7,1418.1 2025.7,1418.1 2026.7,1418.1 2027.7,1418.1 2028.7,1418.1 2029.7,1418.1 2030.7,1418.1 2031.7,1418.1 2032.7,1418.1 2033.7,1418.2 2034.7,1418.2 2035.7,1418.2 2036.7,1418.2 2037.7,1418.2 2038.7,1418.2 2039.7,1418.2 2040.7,1418.2 2041.7,1418.2 2042.7,1418.2 2043.7,1418.2 2044.7,1418.2 2045.7,1418.2 2046.7,1418.2 2047.7,1418.2 2048.7,1418.2 2049.7,1418.2 2050.7,1418.2 2051.7,1418.2 2052.7,1418.2 2053.7,1418.2 2054.7,1418.2 2055.7,1418.2 2056.7,1418.2 2057.7,1418.2 2058.7,1418.2 2059.7,1418.2 2060.7,1418.2 2061.7,1418.2 2062.7,1418.2 2063.7,1418.2 2064.7,1418.2 2065.7,1418.2 2066.7,1418.2 2067.7,1418.2 2068.7,1418.2 2069.7,1418.2 2070.7,1418.2 2071.7,1418.2 2072.7,1418.2 2073.7,1418.2 2074.7,1418.2 2075.7,1418.2 2076.7,1418.2 2077.7,1418.2 2078.7,1418.2 2079.7,1418.2 2080.7,1418.2 2081.7,1418.2 2082.7,1418.2 2083.7,1418.2 2084.7,1418.2 2085.7,1418.2 2086.7,1418.2 2087.7,1418.2 2088.7,1418.2 2089.7,1418.2 2090.7,1418.2 2091.7,1418.3 2092.7,1418.3 2093.7,1418.3 2094.7,1418.3 2095.7,1418.3 2096.7,1418.3 2097.7,1418.3 2098.7,1418.3 2099.7,1418.3 2100.7,1418.3 2101.7,1418.3 2102.7,1418.3 2103.7,1418.3 2104.7,1418.3 2105.7,1418.3 2106.7,1418.3 2107.7,1418.3 2108.7,1418.3 2109.7,1418.3 2110.7,1418.3 2111.7,1418.3 2112.7,1418.3 2113.7,1418.3 2114.7,1418.3 2115.7,1418.3 2116.7,1418.3 2117.7,1418.3 2118.7,1418.3 2119.7,1418.3 2120.7,1418.3" fill="none" stroke="#ff0000" stroke-width="2.5" stroke-linejoin="round" stroke-linecap="round"/>
<polyline points="1410.7,1423.3 1411.7,1423.3 1412.7,1423.3 1413.7,1423.3 1414.7,1423.3 1415.7,1423.3 1416.7,1423.3 1417.7,1423.3 1418.7,1423.3 1419.7,1423.2 1420.7,1423.2 1421.7,1423.2 1422.7,1423.2 1423.7,1423.2 1424.7,1423.2 1425.7,1423.2 1426.7,1423.2 1427.7,1423.2 1428.7,1423.2 1429.7,1423.1 1430.7,1423.1 1431.7,1423.1 1432.7,1423.1 1433.7,1423.1 1434.7,1423.1 1435.7,1423.1 1436.7,1423.1 1437.7,1423.1 1438.7,1423.0 1439.7,1423.0 1440.7,1423.0 1441.7,1423.0 1442.7,1423.0 1443.7,1423.0 1444.7,1423.0 1445.7,1423.0 1446.7,1422.9 1447.7,1422.9 1448.7,1422.9 1449.7,1422.9 1450.7,1422.9 1451.7,1422.9 1452.7,1422.9 1453.7,1422.8 1454.7,1422.8 1455.7,1422.8 1456.7,1422.8 1457.7,1422.8 1458.7,1422.8 1459.7,1422.7 1460.7,1422.7 1461.7,1422.7 1462.7,1422.7 1463.7,1422.7 1464.7,1422.7 1465.7,1422.7 1466.7,1422.6 1467.7,1422.6 1468.7,1422.6 1469.7,1422.6 1470.7,1422.6 1471.7,1422.5 1472.7,1422.5 1473.7,1422.5 1474.7,1422.5 1475.7,1422.5 1476.7,1422.4 1477.7,1422.4 1478.7,1422.4 1479.7,1422.4 1480.7,1422.4 1481.7,1422.3 1482.7,1422.3 1483.7,1422.3 1484.7,1422.3 1485.7,1422.3 1486.7,1422.2 1487.7,1422.2 1488.7,1422.2 1489.7,1422.2 1490.7,1422.1 1491.7,1422.1 1492.7,1422.1 1493.7,1422.1 1494.7,1422.0 1495.7,1422.0 1496.7,1422.0 1497.7,1421.9 1498.7,1421.9 1499.7,1421.9 1500.7,1421.9 1501.7,1421.8 1502.7,1421.8 1503.7,1421.8 1504.7,1421.7 1505.7,1421.7 1506.7,1421.7 1507.7,1421.6 1508.7,1421.6 1509.7,1421.6 1510.7,1421.5 1511.7,1421.5 1512.7,1421.4 1513.7,1421.4 1514.7,1421.4 1515.7,1421.3 1516.7,1421.3 1517.7,1421.2 1518.7,1421.2 1519.7,1421.1 1520.7,1421.1 1521.7,1421.0 1522.7,1421.0 1523.7,1420.9 1524.7,1420.9 1525.7,1420.8 1526.7,1420.8 1527.7,1420.7 1528.7,1420.6 1529.7,1420.6 1530.7,1420.5 1531.7,1420.4 1532.7,1420.4 1533.7,1420.3 1534.7,1420.2 1535.7,1420.1 1536.7,1420.1 1537.7,1420.0 1538.7,1419.9 1539.7,1419.8 1540.7,1419.7 1541.7,1419.6 1542.7,1419.5 1543.7,1419.4 1544.7,1419.3 1545.7,1419.2 1546.7,1419.1 1547.7,1419.0 1548.7,1418.8 1549.7,1418.7 1550.7,1418.6 1551.7,1418.4 1552.7,1418.3 1553.7,1418.1 1554.7,1418.0 1555.7,1417.8 1556.7,1417.7 1557.7,1417.5 1558.7,1417.3 1559.7,1417.1 1560.7,1416.9 1561.7,1416.8 1562.7,1416.5 1563.7,1416.3 1564.7,1416.1 1565.7,1415.9 1566.7,1415.7 1567.7,1415.4 1568.7,1415.2 1569.7,1414.9 1570.7,1414.6 1571.7,1414.3 1572.7,1414.1 1573.7,1413.8 1574.7,1413.4 1575.7,1413.1 1576.7,1412.8 1577.7,1412.4 1578.7,1412.1 1579.7,1411.7 1580.7,1411.3 1581.7,1410.9 1582.7,1410.5 1583.7,1410.1 1584.7,1409.7 1585.7,1409.2 1586.7,1408.8 1587.7,1408.3 1588.7,1407.8 1589.7,1407.3 1590.7,1406.8 1591.7,1406.2 1592.7,1405.7 1593.7,1405.1 1594.7,1404.5 1595.7,1403.9 1596.7,1403.3 1597.7,1402.6 1598.7,1401.9 1599.7,1401.3 1600.7,1400.6 1601.7,1399.8 1602.7,1399.1 1603.7,1398.3 1604.7,1397.6 1605.7,1396.8 1606.7,1395.9 1607.7,1395.1 1608.7,1394.2 1609.7,1393.3 1610.7,1392.4 1611.7,1391.5 1612.7,1390.5 1613.7,1389.6 1614.7,1388.6 1615.7,1387.5 1616.7,1386.5 1617.7,1385.4 1618.7,1384.3 1619.7,1383.2 1620.7,1382.0 1621.7,1380.9 1622.7,1379.7 1623.7,1378.5 1624.7,1377.2 1625.7,1376.0 1626.7,1374.7 1627.7,1373.3 1628.7,1372.0 1629.7,1370.6 1630.7,1369.2 1631.7,1367.8 1632.7,1366.4 1633.7,1364.9 1634.7,1363.4 1635.7,1361.9 1636.7,1360.3 1637.7,1358.8 1638.7,1357.2 1639.7,1355.5 1640.7,1353.9 1641.7,1352.2 1642.7,1350.5 1643.7,1348.8 1644.7,1347.0 1645.7,1345.2 1646.7,1343.4 1647.7,1341.5 1648.7,1339.7 1649.7,1337.8 1650.7,1335.8 1651.7,1333.9 1652.7,1331.9 1653.7,1329.8 1654.7,1327.8 1655.7,1325.7 1656.7,1323.6 1657.7,1321.4 1658.7,1319.2 1659.7,1317.0 1660.7,1314.8 1661.7,1312.5 1662.7,1310.2 1663.7,1307.8 1664.7,1305.4 1665.7,1303.0 1666.7,1300.6 1667.7,1298.1 1668.7,1295.6 1669.7,1293.1 1670.7,1290.6 1671.7,1288.0 1672.7,1285.4 1673.7,1282.8 1674.7,1280.2 1675.7,1277.6 1676.7,1275.1 1677.7,1272.5 1678.7,1269.9 1679.7,1267.4 1680.7,1264.9 1681.7,1262.5 1682.7,1260.1 1683.7,1257.8 1684.7,1255.6 1685.7,1253.5 1686.7,1251.5 1687.7,1249.6 1688.7,1247.9 1689.7,1246.3 1690.7,1244.9 1691.7,1243.7 1692.7,1242.6 1693.7,1241.8 1694.7,1241.1 1695.7,1240.7 1696.7,1240.5 1697.7,1240.5 1698.7,1240.7 1699.7,1241.1 1700.7,1241.7 1701.7,1242.4 1702.7,1243.3 1703.7,1244.4 1704.7,1245.6 1705.7,1247.0 1706.7,1248.5 1707.7,1250.2 1708.7,1252.0 1709.7,1253.9 1710.7,1255.9 1711.7,1258.1 1712.7,1260.3 1713.7,1262.6 1714.7,1264.9 1715.7,1267.4 1716.7,1269.9 1717.7,1272.4 1718.7,1275.0 1719.7,1277.6 1720.7,1280.2 1721.7,1282.9 1722.7,1285.6 1723.7,1288.2 1724.7,1290.9 1725.7,1293.6 1726.7,1296.3 1727.7,1298.9 1728.7,1301.6 1729.7,1304.2 1730.7,1306.8 1731.7,1309.4 1732.7,1311.9 1733.7,1314.5 1734.7,1317.0 1735.7,1319.4 1736.7,1321.9 1737.7,1324.3 1738.7,1326.6 1739.7,1329.0 1740.7,1331.3 1741.7,1333.5 1742.7,1335.7 1743.7,1337.9 1744.7,1340.1 1745.7,1342.1 1746.7,1344.2 1747.7,1346.2 1748.7,1348.2 1749.7,1350.1 1750.7,1352.0 1751.7,1353.9 1752.7,1355.7 1753.7,1357.4 1754.7,1359.2 1755.7,1360.8 1756.7,1362.5 1757.7,1364.1 1758.7,1365.7 1759.7,1367.2 1760.7,1368.7 1761.7,1370.1 1762.7,1371.5 1763.7,1372.9 1764.7,1374.2 1765.7,1375.5 1766.7,1376.8 1767.7,1378.0 1768.7,1379.2 1769.7,1380.4 1770.7,1381.5 1771.7,1382.6 1772.7,1383.6 1773.7,1384.6 1774.7,1385.6 1775.7,1386.6 1776.7,1387.5 1777.7,1388.4 1778.7,1389.3 1779.7,1390.1 1780.7,1390.9 1781.7,1391.7 1782.7,1392.5 1783.7,1393.2 1784.7,1393.9 1785.7,1394.6 1786.7,1395.3 1787.7,1395.9 1788.7,1396.5 1789.7,1397.1 1790.7,1397.7 1791.7,1398.3 1792.7,1398.8 1793.7,1399.3 1794.7,1399.8 1795.7,1400.3 1796.7,1400.7 1797.7,1401.2 1798.7,1401.6 1799.7,1402.0 1800.7,1402.4 1801.7,1402.8 1802.7,1403.2 1803.7,1403.6 1804.7,1403.9 1805.7,1404.2 1806.7,1404.6 1807.7,1404.9 1808.7,1405.2 1809.7,1405.5 1810.7,1405.7 1811.7,1406.0 1812.7,1406.3 1813.7,1406.5 1814.7,1406.7 1815.7,1407.0 1816.7,1407.2 1817.7,1407.4 1818.7,1407.6 1819.7,1407.8 1820.7,1408.0 1821.7,1408.2 1822.7,1408.4 1823.7,1408.6 1824.7,1408.8 1825.7,1408.9 1826.7,1409.1 1827.7,1409.3 1828.7,1409.4 1829.7,1409.6 1830.7,1409.7 1831.7,1409.8 1832.7,1410.0 1833.7,1410.1 1834.7,1410.2 1835.7,1410.4 1836.7,1410.5 1837.7,1410.6 1838.7,1410.7 1839.7,1410.8 1840.7,1410.9 1841.7,1411.1 1842.7,1411.2 1843.7,1411.3 1844.7,1411.4 1845.7,1411.5 1846.7,1411.6 1847.7,1411.6 1848.7,1411.7 1849.7,1411.8 1850.7,1411.9 1851.7,1412.0 1852.7,1412.1 1853.7,1412.2 1854.7,1412.2 1855.7,1412.3 1856.7,1412.4 1857.7,1412.5 1858.7,1412.5 1859.7,1412.6 1860.7,1412.7 1861.7,1412.8 1862.7,1412.8 1863.7,1412.9 1864.7,1413.0 1865.7,1413.0 1866.7,1413.1 1867.7,1413.1 1868.7,1413.2 1869.7,1413.3 1870.7,1413.3 1871.7,1413.4 1872.7,1413.4 1873.7,1413.5 1874.7,1413.6 1875.7,1413.6 1876.7,1413.7 1877.7,1413.7 1878.7,1413.8 1879.7,1413.8 1880.7,1413.9 1881.7,1413.9 1882.7,1414.0 1883.7,1414.0 1884.7,1414.1 1885.7,1414.1 1886.7,1414.2 1887.7,1414.2 1888.7,1414.2 1889.7,1414.3 1890.7,1414.3 1891.7,1414.4 1892.7,1414.4 1893.7,1414.5 1894.7,1414.5 1895.7,1414.5 1896.7,1414.6 1897.7,1414.6 1898.7,1414.6 1899.7,1414.7 1900.7,1414.7 1901.7,1414.8 1902.7,1414.8 1903.7,1414.8 1904.7,1414.9 1905.7,1414.9 1906.7,1414.9 1907.7,1415.0 1908.7,1415.0 1909.7,1415.0 1910.7,1415.1 1911.7,1415.1 1912.7,1415.1 1913.7,1415.2 1914.7,1415.2 1915.7,1415.2 1916.7,1415.3 1917.7,1415.3 1918.7,1415.3 1919.7,1415.3 1920.7,1415.4 1921.7,1415.4 1922.7,1415.4 1923.7,1415.4 1924.7,1415.5 1925.7,1415.5 1926.7,1415.5 1927.7,1415.6 1928.7,1415.6 1929.7,1415.6 1930.7,1415.6 1931.7,1415.7 1932.7,1415.7 1933.7,1415.7 1934.7,1415.7 1935.7,1415.8 1936.7,1415.8 1937.7,1415.8 1938.7,1415.8 1939.7,1415.8 1940.7,1415.9 1941.7,1415.9 1942.7,1415.9 1943.7,1415.9 1944.7,1415.9 1945.7,1416.0 1946.7,1416.0 1947.7,1416.0 1948.7,1416.0 1949.7,1416.0 1950.7,1416.1 1951.7,1416.1 1952.7,1416.1 1953.7,1416.1 1954.7,1416.1 1955.7,1416.2 1956.7,1416.2 1957.7,1416.2 1958.7,1416.2 1959.7,1416.2 1960.7,1416.3 1961.7,1416.3 1962.7,1416.3 1963.7,1416.3 1964.7,1416.3 1965.7,1416.3 1966.7,1416.4 1967.7,1416.4 1968.7,1416.4 1969.7,1416.4 1970.7,1416.4 1971.7,1416.4 1972.7,1416.4 1973.7,1416.5 1974.7,1416.5 1975.7,1416.5 1976.7,1416.5 1977.7,1416.5 1978.7,1416.5 1979.7,1416.6 1980.7,1416.6 1981.7,1416.6 1982.7,1416.6 1983.7,1416.6 1984.7,1416.6 1985.7,1416.6 1986.7,1416.6 1987.7,1416.7 1988.7,1416.7 1989.7,1416.7 1990.7,1416.7 1991.7,1416.7 1992.7,1416.7 1993.7,1416.7 1994.7,1416.7 1995.7,1416.8 1996.7,1416.8 1997.7,1416.8 1998.7,1416.8 1999.7,1416.8 2000.7,1416.8 2001.7,1416.8 2002.7,1416.8 2003.7,1416.9 2004.7,1416.9 2005.7,1416.9 2006.7,1416.9 2007.7,1416.9 2008.7,1416.9 2009.7,1416.9 2010.7,1416.9 2011.7,1416.9 2012.7,1416.9 2013.7,1417.0 2014.7,1417.0 2015.7,1417.0 2016.7,1417.0 2017.7,1417.0 2018.7,1417.0 2019.7,1417.0 2020.7,1417.0 2021.7,1417.0 2022.7,1417.0 2023.7,1417.1 2024.7,1417.1 2025.7,1417.1 2026.7,1417.1 2027.7,1417.1 2028.7,1417.1 2029.7,1417.1 2030.7,1417.1 2031.7,1417.1 2032.7,1417.1 2033.7,1417.1 2034.7,1417.2 2035.7,1417.2 2036.7,1417.2 2037.7,1417.2 2038.7,1417.2 2039.7,1417.2 2040.7,1417.2 2041.7,1417.2 2042.7,1417.2 2043.7,1417.2 2044.7,1417.2 2045.7,1417.2 2046.7,1417.2 2047.7,1417.3 2048.7,1417.3 2049.7,1417.3 2050.7,1417.3 2051.7,1417.3 2052.7,1417.3 2053.7,1417.3 2054.7,1417.3 2055.7,1417.3 2056.7,1417.3 2057.7,1417.3 2058.7,1417.3 2059.7,1417.3 2060.7,1417.3 2061.7,1417.4 2062.7,1417.4 2063.7,1417.4 2064.7,1417.4 2065.7,1417.4 2066.7,1417.4 2067.7,1417.4 2068.7,1417.4 2069.7,1417.4 2070.7,1417.4 2071.7,1417.4 2072.7,1417.4 2073.7,1417.4 2074.7,1417.4 2075.7,1417.4 2076.7,1417.4 2077.7,1417.5 2078.7,1417.5 2079.7,1417.5 2080.7,1417.5 2081.7,1417.5 2082.7,1417.5 2083.7,1417.5 2084.7,1417.5 2085.7,1417.5 2086.7,1417.5 2087.7,1417.5 2088.7,1417.5 2089.7,1417.5 2090.7,1417.5 2091.7,1417.5 2092.7,1417.5 2093.7,1417.5 2094.7,1417.5 2095.7,1417.6 2096.7,1417.6 2097.7,1417.6 2098.7,1417.6 2099.7,1417.6 2100.7,1417.6 2101.7,1417.6 2102.7,1417.6 2103.7,1417.6 2104.7,1417.6 2105.7,1417.6 2106.7,1417.6 2107.7,1417.6 2108.7,1417.6 2109.7,1417.6 2110.7,1417.6 2111.7,1417.6 2112.7,1417.6 2113.7,1417.6 2114.7,1417.6 2115.7,1417.6 2116.7,1417.6 2117.7,1417.7 2118.7,1417.7 2119.7,1417.7 2120.7,1417.7" fill="none" stroke="#0000ff" stroke-width="2.6" stroke-linejoin="round" stroke-linecap="round"/>
<text x="1166" y="867" font-size="72" class="serif" fill="#111">(d)</text>
<text x="1768.9" y="1573" font-size="26" text-anchor="middle" textLength="118" lengthAdjust="spacingAndGlyphs" fill="#1e1e1e">B.E. (eV)</text>
<text transform="translate(1222.5,1191.3) rotate(-90)" font-size="26" text-anchor="middle" textLength="183" lengthAdjust="spacingAndGlyphs" fill="#1e1e1e">Intensity (a.u.)</text>
<path d="M1940.8,919.1a5.6,5.6 0 1,0 11.2,0a5.6,5.6 0 1,0 -11.2,0" fill="none" stroke="#666" stroke-width="2.6"/>
<text x="1986.9" y="929" font-size="27" textLength="66.7" lengthAdjust="spacingAndGlyphs" fill="#1e1e1e">O 1S</text>
<line x1="1912" y1="955.5" x2="1980.9" y2="955.5" stroke="#ff8000" stroke-width="4"/>
<text x="1986.9" y="964.4" font-size="27" textLength="61" lengthAdjust="spacingAndGlyphs" fill="#1e1e1e">Sum</text>
<line x1="1912" y1="991.2" x2="1980.9" y2="991.2" stroke="#ff0000" stroke-width="4"/>
<text x="1986.9" y="1001.9" font-size="27" textLength="36.3" lengthAdjust="spacingAndGlyphs" fill="#1e1e1e">O1</text>
<line x1="1912" y1="1027.3" x2="1980.9" y2="1027.3" stroke="#0000ff" stroke-width="4"/>
<text x="1986.9" y="1037.9" font-size="27" textLength="38.9" lengthAdjust="spacingAndGlyphs" fill="#1e1e1e">O2</text>
<line x1="1912" y1="1063.4" x2="1980.9" y2="1063.4" stroke="#808000" stroke-width="4"/>
<text x="1986.9" y="1073.3" font-size="27" textLength="157.2" lengthAdjust="spacingAndGlyphs" fill="#1e1e1e">Background</text>
<text x="1511.4" y="979.2" font-size="29" textLength="35.1" lengthAdjust="spacingAndGlyphs" fill="#1e1e1e">O1</text>
<text x="1463.6" y="1014.8" font-size="29" textLength="133.4" lengthAdjust="spacingAndGlyphs" fill="#1e1e1e">530.32 eV</text>
<text x="1770.5" y="1183.1" font-size="29" textLength="37.3" lengthAdjust="spacingAndGlyphs" fill="#1e1e1e">O2</text>
<text x="1737" y="1219.2" font-size="29" textLength="116.1" lengthAdjust="spacingAndGlyphs" fill="#1e1e1e">531.5 eV</text>
<rect x="186" y="1719.2" width="804.5" height="591.7" fill="none" stroke="#2a2a2a" stroke-width="2.6"/>
<line x1="286.4" y1="2310.9" x2="286.4" y2="2317.9" stroke="#2a2a2a" stroke-width="2.4"/>
<line x1="386.8" y1="2310.9" x2="386.8" y2="2317.9" stroke="#2a2a2a" stroke-width="2.4"/>
<line x1="487.2" y1="2310.9" x2="487.2" y2="2317.9" stroke="#2a2a2a" stroke-width="2.4"/>
<line x1="587.6" y1="2310.9" x2="587.6" y2="2317.9" stroke="#2a2a2a" stroke-width="2.4"/>
<line x1="688" y1="2310.9" x2="688" y2="2317.9" stroke="#2a2a2a" stroke-width="2.4"/>
<line x1="788.4" y1="2310.9" x2="788.4" y2="2317.9" stroke="#2a2a2a" stroke-width="2.4"/>
<line x1="888.8" y1="2310.9" x2="888.8" y2="2317.9" stroke="#2a2a2a" stroke-width="2.4"/>
<line x1="236.2" y1="2310.9" x2="236.2" y2="2323.9" stroke="#2a2a2a" stroke-width="2.4"/>
<text x="236.2" y="2348.9" font-size="22" text-anchor="middle" textLength="38.5" lengthAdjust="spacingAndGlyphs" fill="#1e1e1e">632</text>
<line x1="336.6" y1="2310.9" x2="336.6" y2="2323.9" stroke="#2a2a2a" stroke-width="2.4"/>
<text x="336.6" y="2348.9" font-size="22" text-anchor="middle" textLength="38.5" lengthAdjust="spacingAndGlyphs" fill="#1e1e1e">636</text>
<line x1="437" y1="2310.9" x2="437" y2="2323.9" stroke="#2a2a2a" stroke-width="2.4"/>
<text x="437" y="2348.9" font-size="22" text-anchor="middle" textLength="38.5" lengthAdjust="spacingAndGlyphs" fill="#1e1e1e">640</text>
<line x1="537.4" y1="2310.9" x2="537.4" y2="2323.9" stroke="#2a2a2a" stroke-width="2.4"/>
<text x="537.4" y="2348.9" font-size="22" text-anchor="middle" textLength="38.5" lengthAdjust="spacingAndGlyphs" fill="#1e1e1e">644</text>
<line x1="637.8" y1="2310.9" x2="637.8" y2="2323.9" stroke="#2a2a2a" stroke-width="2.4"/>
<text x="637.8" y="2348.9" font-size="22" text-anchor="middle" textLength="38.5" lengthAdjust="spacingAndGlyphs" fill="#1e1e1e">648</text>
<line x1="738.2" y1="2310.9" x2="738.2" y2="2323.9" stroke="#2a2a2a" stroke-width="2.4"/>
<text x="738.2" y="2348.9" font-size="22" text-anchor="middle" textLength="38.5" lengthAdjust="spacingAndGlyphs" fill="#1e1e1e">652</text>
<line x1="838.6" y1="2310.9" x2="838.6" y2="2323.9" stroke="#2a2a2a" stroke-width="2.4"/>
<text x="838.6" y="2348.9" font-size="22" text-anchor="middle" textLength="38.5" lengthAdjust="spacingAndGlyphs" fill="#1e1e1e">656</text>
<line x1="939" y1="2310.9" x2="939" y2="2323.9" stroke="#2a2a2a" stroke-width="2.4"/>
<text x="939" y="2348.9" font-size="22" text-anchor="middle" textLength="38.5" lengthAdjust="spacingAndGlyphs" fill="#1e1e1e">660</text>
<line x1="179" y1="2280.3" x2="186" y2="2280.3" stroke="#2a2a2a" stroke-width="2.4"/>
<line x1="179" y1="2178.3" x2="186" y2="2178.3" stroke="#2a2a2a" stroke-width="2.4"/>
<line x1="179" y1="2076.3" x2="186" y2="2076.3" stroke="#2a2a2a" stroke-width="2.4"/>
<line x1="179" y1="1974.2" x2="186" y2="1974.2" stroke="#2a2a2a" stroke-width="2.4"/>
<line x1="179" y1="1872.2" x2="186" y2="1872.2" stroke="#2a2a2a" stroke-width="2.4"/>
<line x1="179" y1="1770.2" x2="186" y2="1770.2" stroke="#2a2a2a" stroke-width="2.4"/>
<line x1="173" y1="2229.3" x2="186" y2="2229.3" stroke="#2a2a2a" stroke-width="2.4"/>
<text x="164" y="2234.3" font-size="22" text-anchor="end" textLength="64.2" lengthAdjust="spacingAndGlyphs" fill="#1e1e1e">60000</text>
<line x1="173" y1="2127.3" x2="186" y2="2127.3" stroke="#2a2a2a" stroke-width="2.4"/>
<text x="164" y="2132.3" font-size="22" text-anchor="end" textLength="64.2" lengthAdjust="spacingAndGlyphs" fill="#1e1e1e">65000</text>
<line x1="173" y1="2025.3" x2="186" y2="2025.3" stroke="#2a2a2a" stroke-width="2.4"/>
<text x="164" y="2030.3" font-size="22" text-anchor="end" textLength="64.2" lengthAdjust="spacingAndGlyphs" fill="#1e1e1e">70000</text>
<line x1="173" y1="1923.2" x2="186" y2="1923.2" stroke="#2a2a2a" stroke-width="2.4"/>
<text x="164" y="1928.2" font-size="22" text-anchor="end" textLength="64.2" lengthAdjust="spacingAndGlyphs" fill="#1e1e1e">75000</text>
<line x1="173" y1="1821.2" x2="186" y2="1821.2" stroke="#2a2a2a" stroke-width="2.4"/>
<text x="164" y="1826.2" font-size="22" text-anchor="end" textLength="64.2" lengthAdjust="spacingAndGlyphs" fill="#1e1e1e">80000</text>
<line x1="173" y1="1719.2" x2="186" y2="1719.2" stroke="#2a2a2a" stroke-width="2.4"/>
<text x="164" y="1724.2" font-size="22" text-anchor="end" textLength="64.2" lengthAdjust="spacingAndGlyphs" fill="#1e1e1e">85000</text>
<polyline points="235.0,2255.6 237.0,2250.0 239.0,2251.0 241.0,2252.9 243.0,2252.2 245.0,2252.2 247.0,2252.3 249.0,2248.4 251.0,2249.0 253.0,2243.3 255.0,2243.3 257.0,2249.9 259.0,2232.9 261.0,2245.6 263.0,2260.8 265.0,2233.0 267.0,2251.3 269.0,2233.3 271.0,2244.8 273.0,2251.6 275.0,2250.7 277.0,2237.5 279.0,2235.2 281.0,2234.4 283.0,2246.1 285.0,2239.9 287.0,2242.0 289.0,2243.3 291.0,2244.1 293.0,2244.7 295.0,2242.3 297.0,2232.6 299.0,2249.4 301.0,2226.1 303.0,2247.8 305.0,2237.5 307.0,2239.6 309.0,2237.6 311.0,2238.2 313.0,2239.9 315.0,2238.2 317.0,2233.5 319.0,2243.9 321.0,2235.8 323.0,2246.1 325.0,2237.6 327.0,2234.3 329.0,2240.3 331.0,2242.5 333.0,2232.2 335.0,2235.4 337.0,2244.5 339.0,2230.9 341.0,2231.4 343.0,2236.7 345.0,2228.8 347.0,2221.6 349.0,2225.6 351.0,2236.6 353.0,2237.8 355.0,2237.1 357.0,2235.7 359.0,2226.4 361.0,2236.5 363.0,2238.7 365.0,2228.1 367.0,2236.7 369.0,2229.1 371.0,2231.6 373.0,2232.1 375.0,2221.3 377.0,2236.9 379.0,2223.5 381.0,2227.0 383.0,2224.0 385.0,2228.2 387.0,2226.9 389.0,2223.3 391.0,2229.4 393.0,2221.6 395.0,2216.0 397.0,2200.5 399.0,2212.7 401.0,2210.5 403.0,2204.6 405.0,2201.6 407.0,2206.1 409.0,2204.9 411.0,2205.6 413.0,2197.5 415.0,2183.4 417.0,2184.6 419.0,2171.2 421.0,2177.3 423.0,2168.6 425.0,2154.3 427.0,2145.6 429.0,2129.6 431.0,2107.9 433.0,2094.4 435.0,2072.8 437.0,2029.8 439.0,2002.3 441.0,1975.6 443.0,1951.7 445.0,1934.9 447.0,1894.5 449.0,1877.0 451.0,1855.2 453.0,1842.8 455.0,1824.7 457.0,1816.1 459.0,1797.4 461.0,1797.2 463.0,1800.8 465.0,1784.2 467.0,1783.6 469.0,1793.8 471.0,1789.9 473.0,1797.1 475.0,1782.9 477.0,1800.5 479.0,1798.2 481.0,1803.3 483.0,1819.4 485.0,1830.3 487.0,1822.4 489.0,1831.5 491.0,1841.4 493.0,1850.9 495.0,1851.4 497.0,1878.5 499.0,1876.9 501.0,1879.8 503.0,1887.2 505.0,1912.0 507.0,1922.4 509.0,1922.0 511.0,1942.9 513.0,1963.0 515.0,1962.7 517.0,1978.3 519.0,2000.4 521.0,1999.3 523.0,2010.2 525.0,2013.8 527.0,2025.0 529.0,2040.2 531.0,2038.9 533.0,2042.9 535.0,2053.0 537.0,2072.3 539.0,2069.2 541.0,2070.4 543.0,2079.2 545.0,2085.2 547.0,2087.8 549.0,2081.2 551.0,2096.5 553.0,2096.7 555.0,2104.7 557.0,2094.2 559.0,2108.9 561.0,2101.6 563.0,2095.9 565.0,2113.7 567.0,2104.4 569.0,2110.1 571.0,2108.0 573.0,2115.8 575.0,2116.7 577.0,2117.6 579.0,2116.2 581.0,2104.0 583.0,2104.4 585.0,2115.5 587.0,2109.8 589.0,2118.3 591.0,2117.3 593.0,2109.2 595.0,2111.8 597.0,2111.9 599.0,2113.8 601.0,2118.1 603.0,2123.6 605.0,2127.8 607.0,2115.5 609.0,2118.2 611.0,2130.5 613.0,2127.3 615.0,2124.1 617.0,2110.2 619.0,2118.1 621.0,2125.0 623.0,2121.3 625.0,2136.0 627.0,2125.9 629.0,2127.4 631.0,2120.1 633.0,2120.8 635.0,2123.3 637.0,2123.9 639.0,2126.5 641.0,2130.3 643.0,2129.9 645.0,2134.6 647.0,2122.0 649.0,2131.1 651.0,2131.7 653.0,2139.7 655.0,2130.1 657.0,2133.5 659.0,2127.5 661.0,2134.7 663.0,2134.8 665.0,2129.3 667.0,2130.5 669.0,2132.8 671.0,2136.0 673.0,2125.8 675.0,2136.2 677.0,2128.2 679.0,2139.1 681.0,2135.0 683.0,2122.7 685.0,2119.5 687.0,2134.5 689.0,2121.2 691.0,2117.0 693.0,2107.1 695.0,2104.0 697.0,2104.5 699.0,2098.4 701.0,2084.9 703.0,2090.6 705.0,2079.4 707.0,2066.4 709.0,2071.5 711.0,2059.6 713.0,2059.9 715.0,2047.4 717.0,2047.4 719.0,2031.1 721.0,2036.5 723.0,2019.7 725.0,2022.0 727.0,1999.2 729.0,2004.3 731.0,1999.6 733.0,1988.6 735.0,1982.5 737.0,1959.7 739.0,1963.9 741.0,1953.4 743.0,1925.6 745.0,1914.5 747.0,1902.3 749.0,1892.5 751.0,1882.1 753.0,1858.2 755.0,1868.3 757.0,1857.7 759.0,1848.2 761.0,1854.5 763.0,1842.9 765.0,1846.7 767.0,1838.9 769.0,1829.1 771.0,1831.8 773.0,1823.9 775.0,1811.0 777.0,1799.8 779.0,1801.4 781.0,1804.9 783.0,1798.7 785.0,1810.2 787.0,1803.8 789.0,1806.5 791.0,1811.6 793.0,1809.0 795.0,1818.1 797.0,1820.0 799.0,1815.2 801.0,1822.7 803.0,1841.3 805.0,1839.8 807.0,1846.8 809.0,1844.5 811.0,1854.4 813.0,1866.6 815.0,1866.8 817.0,1866.7 819.0,1881.2 821.0,1875.4 823.0,1876.7 825.0,1887.8 827.0,1874.4 829.0,1889.6 831.0,1882.7 833.0,1886.8 835.0,1889.5 837.0,1896.1 839.0,1897.9 841.0,1900.7 843.0,1901.9 845.0,1910.1 847.0,1913.2 849.0,1909.1 851.0,1910.8 853.0,1905.8 855.0,1903.0 857.0,1913.5 859.0,1911.6 861.0,1917.2 863.0,1903.4 865.0,1929.4 867.0,1908.5 869.0,1916.7 871.0,1923.0 873.0,1910.8 875.0,1916.4 877.0,1909.2 879.0,1913.4 881.0,1911.5 883.0,1923.7 885.0,1925.6 887.0,1923.1 889.0,1932.6 891.0,1934.0 893.0,1926.9 895.0,1926.3 897.0,1926.5 899.0,1926.0 901.0,1936.1 903.0,1930.6 905.0,1927.9 907.0,1928.9 909.0,1933.6 911.0,1928.7 913.0,1933.1 915.0,1931.5 917.0,1939.5 919.0,1938.8 921.0,1924.8 923.0,1932.0 925.0,1937.1 927.0,1930.9 929.0,1938.1 931.0,1935.6 933.0,1937.1 935.0,1933.6 937.0,1935.7" fill="none" stroke="#000" stroke-width="3.5" stroke-linejoin="round" stroke-linecap="round"/>
<text x="14" y="1680" font-size="72" class="serif" fill="#111">(e)</text>
<text x="588.2" y="2383.5" font-size="26" text-anchor="middle" textLength="118" lengthAdjust="spacingAndGlyphs" fill="#1e1e1e">B.E. (eV)</text>
<text transform="translate(81,2016.2) rotate(-90)" font-size="26" text-anchor="middle" textLength="183" lengthAdjust="spacingAndGlyphs" fill="#1e1e1e">Intensity (a.u.)</text>
<line x1="823.4" y1="1740.9" x2="893" y2="1740.9" stroke="#222" stroke-width="3.6"/>
<text x="898.8" y="1750.4" font-size="27" textLength="82.1" lengthAdjust="spacingAndGlyphs" fill="#1e1e1e">Mn 2p</text>
<text x="448.2" y="1762.6" font-size="28" textLength="31.3" lengthAdjust="spacingAndGlyphs" fill="#1e1e1e">2p</text>
<text x="481.2" y="1774.5" font-size="18" textLength="22.5" lengthAdjust="spacingAndGlyphs" fill="#1e1e1e">3/2</text>
<text x="754.4" y="1768.6" font-size="28" textLength="31.6" lengthAdjust="spacingAndGlyphs" fill="#1e1e1e">2p</text>
<text x="790.3" y="1780.5" font-size="18" textLength="22.6" lengthAdjust="spacingAndGlyphs" fill="#1e1e1e">1/2</text>
<rect x="1366.3" y="1719" width="805" height="591.4" fill="none" stroke="#2a2a2a" stroke-width="2.6"/>
<line x1="1402.1" y1="2310.4" x2="1402.1" y2="2317.4" stroke="#2a2a2a" stroke-width="2.4"/>
<line x1="1545.2" y1="2310.4" x2="1545.2" y2="2317.4" stroke="#2a2a2a" stroke-width="2.4"/>
<line x1="1688.3" y1="2310.4" x2="1688.3" y2="2317.4" stroke="#2a2a2a" stroke-width="2.4"/>
<line x1="1831.4" y1="2310.4" x2="1831.4" y2="2317.4" stroke="#2a2a2a" stroke-width="2.4"/>
<line x1="1974.5" y1="2310.4" x2="1974.5" y2="2317.4" stroke="#2a2a2a" stroke-width="2.4"/>
<line x1="2117.6" y1="2310.4" x2="2117.6" y2="2317.4" stroke="#2a2a2a" stroke-width="2.4"/>
<line x1="1473.6" y1="2310.4" x2="1473.6" y2="2323.4" stroke="#2a2a2a" stroke-width="2.4"/>
<text x="1473.6" y="2348.4" font-size="22" text-anchor="middle" textLength="38.5" lengthAdjust="spacingAndGlyphs" fill="#1e1e1e">776</text>
<line x1="1616.7" y1="2310.4" x2="1616.7" y2="2323.4" stroke="#2a2a2a" stroke-width="2.4"/>
<text x="1616.7" y="2348.4" font-size="22" text-anchor="middle" textLength="38.5" lengthAdjust="spacingAndGlyphs" fill="#1e1e1e">784</text>
<line x1="1759.9" y1="2310.4" x2="1759.9" y2="2323.4" stroke="#2a2a2a" stroke-width="2.4"/>
<text x="1759.9" y="2348.4" font-size="22" text-anchor="middle" textLength="38.5" lengthAdjust="spacingAndGlyphs" fill="#1e1e1e">792</text>
<line x1="1903" y1="2310.4" x2="1903" y2="2323.4" stroke="#2a2a2a" stroke-width="2.4"/>
<text x="1903" y="2348.4" font-size="22" text-anchor="middle" textLength="38.5" lengthAdjust="spacingAndGlyphs" fill="#1e1e1e">800</text>
<line x1="2046.1" y1="2310.4" x2="2046.1" y2="2323.4" stroke="#2a2a2a" stroke-width="2.4"/>
<text x="2046.1" y="2348.4" font-size="22" text-anchor="middle" textLength="38.5" lengthAdjust="spacingAndGlyphs" fill="#1e1e1e">808</text>
<line x1="1359.3" y1="2310.4" x2="1366.3" y2="2310.4" stroke="#2a2a2a" stroke-width="2.4"/>
<line x1="1359.3" y1="2236.5" x2="1366.3" y2="2236.5" stroke="#2a2a2a" stroke-width="2.4"/>
<line x1="1359.3" y1="2162.6" x2="1366.3" y2="2162.6" stroke="#2a2a2a" stroke-width="2.4"/>
<line x1="1359.3" y1="2088.6" x2="1366.3" y2="2088.6" stroke="#2a2a2a" stroke-width="2.4"/>
<line x1="1359.3" y1="2014.7" x2="1366.3" y2="2014.7" stroke="#2a2a2a" stroke-width="2.4"/>
<line x1="1359.3" y1="1940.8" x2="1366.3" y2="1940.8" stroke="#2a2a2a" stroke-width="2.4"/>
<line x1="1359.3" y1="1866.8" x2="1366.3" y2="1866.8" stroke="#2a2a2a" stroke-width="2.4"/>
<line x1="1359.3" y1="1792.9" x2="1366.3" y2="1792.9" stroke="#2a2a2a" stroke-width="2.4"/>
<line x1="1359.3" y1="1719" x2="1366.3" y2="1719" stroke="#2a2a2a" stroke-width="2.4"/>
<line x1="1353.3" y1="2273.4" x2="1366.3" y2="2273.4" stroke="#2a2a2a" stroke-width="2.4"/>
<text x="1344.3" y="2278.4" font-size="22" text-anchor="end" textLength="64.2" lengthAdjust="spacingAndGlyphs" fill="#1e1e1e">62000</text>
<line x1="1353.3" y1="2199.5" x2="1366.3" y2="2199.5" stroke="#2a2a2a" stroke-width="2.4"/>
<text x="1344.3" y="2204.5" font-size="22" text-anchor="end" textLength="64.2" lengthAdjust="spacingAndGlyphs" fill="#1e1e1e">64000</text>
<line x1="1353.3" y1="2125.6" x2="1366.3" y2="2125.6" stroke="#2a2a2a" stroke-width="2.4"/>
<text x="1344.3" y="2130.6" font-size="22" text-anchor="end" textLength="64.2" lengthAdjust="spacingAndGlyphs" fill="#1e1e1e">66000</text>
<line x1="1353.3" y1="2051.7" x2="1366.3" y2="2051.7" stroke="#2a2a2a" stroke-width="2.4"/>
<text x="1344.3" y="2056.7" font-size="22" text-anchor="end" textLength="64.2" lengthAdjust="spacingAndGlyphs" fill="#1e1e1e">68000</text>
<line x1="1353.3" y1="1977.7" x2="1366.3" y2="1977.7" stroke="#2a2a2a" stroke-width="2.4"/>
<text x="1344.3" y="1982.7" font-size="22" text-anchor="end" textLength="64.2" lengthAdjust="spacingAndGlyphs" fill="#1e1e1e">70000</text>
<line x1="1353.3" y1="1903.8" x2="1366.3" y2="1903.8" stroke="#2a2a2a" stroke-width="2.4"/>
<text x="1344.3" y="1908.8" font-size="22" text-anchor="end" textLength="64.2" lengthAdjust="spacingAndGlyphs" fill="#1e1e1e">72000</text>
<line x1="1353.3" y1="1829.9" x2="1366.3" y2="1829.9" stroke="#2a2a2a" stroke-width="2.4"/>
<text x="1344.3" y="1834.9" font-size="22" text-anchor="end" textLength="64.2" lengthAdjust="spacingAndGlyphs" fill="#1e1e1e">74000</text>
<line x1="1353.3" y1="1756" x2="1366.3" y2="1756" stroke="#2a2a2a" stroke-width="2.4"/>
<text x="1344.3" y="1761" font-size="22" text-anchor="end" textLength="64.2" lengthAdjust="spacingAndGlyphs" fill="#1e1e1e">76000</text>
<polyline points="1400.4,2226.7 1401.4,2212.6 1402.4,2216.6 1403.4,2215.8 1404.4,2234.9 1405.4,2225.2 1406.4,2225.6 1407.4,2224.2 1408.4,2219.4 1409.4,2217.8 1410.4,2229.0 1411.4,2220.4 1412.4,2234.2 1413.4,2224.4 1414.4,2223.7 1415.4,2221.5 1416.4,2222.5 1417.4,2223.3 1418.4,2233.7 1419.4,2239.5 1420.4,2214.9 1421.4,2224.8 1422.4,2228.0 1423.4,2216.7 1424.4,2218.6 1425.4,2219.8 1426.4,2206.1 1427.4,2227.6 1428.4,2222.7 1429.4,2222.4 1430.4,2223.6 1431.4,2224.8 1432.4,2239.3 1433.4,2224.3 1434.4,2228.9 1435.4,2219.4 1436.4,2225.5 1437.4,2220.9 1438.4,2222.0 1439.4,2216.7 1440.4,2217.3 1441.4,2226.3 1442.4,2228.3 1443.4,2226.3 1444.4,2218.4 1445.4,2225.3 1446.4,2205.3 1447.4,2229.7 1448.4,2222.8 1449.4,2225.0 1450.4,2231.3 1451.4,2220.1 1452.4,2229.8 1453.4,2220.0 1454.4,2226.9 1455.4,2220.2 1456.4,2225.2 1457.4,2233.3 1458.4,2218.5 1459.4,2218.7 1460.4,2220.7 1461.4,2225.1 1462.4,2242.3 1463.4,2218.9 1464.4,2208.5 1465.4,2218.3 1466.4,2211.7 1467.4,2218.8 1468.4,2222.8 1469.4,2215.9 1470.4,2217.8 1471.4,2209.4 1472.4,2223.7 1473.4,2217.2 1474.4,2230.0 1475.4,2229.6 1476.4,2216.1 1477.4,2219.5 1478.4,2222.4 1479.4,2227.3 1480.4,2210.1 1481.4,2221.3 1482.4,2234.7 1483.4,2220.9 1484.4,2223.0 1485.4,2221.4 1486.4,2212.9 1487.4,2227.8 1488.4,2222.9 1489.4,2222.0 1490.4,2225.9 1491.4,2226.1 1492.4,2207.2 1493.4,2223.7 1494.4,2216.1 1495.4,2221.2 1496.4,2214.9 1497.4,2213.7 1498.4,2226.3 1499.4,2219.4 1500.4,2217.3 1501.4,2217.0 1502.4,2219.2 1503.4,2218.0 1504.4,2200.9 1505.4,2210.7 1506.4,2214.4 1507.4,2220.4 1508.4,2223.7 1509.4,2206.5 1510.4,2225.5 1511.4,2211.3 1512.4,2212.7 1513.4,2204.1 1514.4,2202.1 1515.4,2214.3 1516.4,2199.7 1517.4,2196.8 1518.4,2201.3 1519.4,2200.3 1520.4,2172.3 1521.4,2175.6 1522.4,2170.7 1523.4,2177.0 1524.4,2175.0 1525.4,2150.7 1526.4,2146.6 1527.4,2142.0 1528.4,2135.1 1529.4,2115.1 1530.4,2113.1 1531.4,2091.5 1532.4,2066.7 1533.4,2064.8 1534.4,2064.9 1535.4,2058.1 1536.4,2026.2 1537.4,2019.3 1538.4,2021.6 1539.4,1987.8 1540.4,2005.0 1541.4,1997.8 1542.4,1959.2 1543.4,1975.2 1544.4,1958.3 1545.4,1959.8 1546.4,1942.2 1547.4,1929.4 1548.4,1923.2 1549.4,1920.0 1550.4,1905.2 1551.4,1894.3 1552.4,1874.0 1553.4,1878.2 1554.4,1866.4 1555.4,1871.6 1556.4,1852.7 1557.4,1848.2 1558.4,1842.6 1559.4,1852.5 1560.4,1847.6 1561.4,1846.9 1562.4,1866.8 1563.4,1872.5 1564.4,1862.0 1565.4,1863.6 1566.4,1884.7 1567.4,1877.1 1568.4,1909.0 1569.4,1894.3 1570.4,1907.8 1571.4,1897.4 1572.4,1911.8 1573.4,1925.7 1574.4,1927.3 1575.4,1926.9 1576.4,1954.4 1577.4,1948.9 1578.4,1948.5 1579.4,1952.1 1580.4,1960.4 1581.4,1977.3 1582.4,1967.4 1583.4,1977.6 1584.4,1976.0 1585.4,1994.8 1586.4,1988.9 1587.4,2000.0 1588.4,2001.7 1589.4,1997.2 1590.4,2009.8 1591.4,2015.0 1592.4,2003.7 1593.4,2020.1 1594.4,2043.6 1595.4,2019.8 1596.4,2029.8 1597.4,2019.3 1598.4,2035.4 1599.4,2031.5 1600.4,2044.8 1601.4,2043.0 1602.4,2039.2 1603.4,2059.5 1604.4,2054.4 1605.4,2052.9 1606.4,2064.4 1607.4,2060.7 1608.4,2073.4 1609.4,2072.8 1610.4,2072.6 1611.4,2081.3 1612.4,2068.7 1613.4,2085.7 1614.4,2065.8 1615.4,2092.3 1616.4,2083.3 1617.4,2081.1 1618.4,2078.7 1619.4,2088.6 1620.4,2084.4 1621.4,2085.0 1622.4,2094.3 1623.4,2084.6 1624.4,2086.6 1625.4,2091.9 1626.4,2096.9 1627.4,2088.7 1628.4,2091.3 1629.4,2090.8 1630.4,2096.0 1631.4,2101.4 1632.4,2084.4 1633.4,2090.1 1634.4,2090.7 1635.4,2095.1 1636.4,2101.4 1637.4,2090.4 1638.4,2091.7 1639.4,2097.8 1640.4,2080.5 1641.4,2083.3 1642.4,2085.0 1643.4,2087.6 1644.4,2088.6 1645.4,2082.7 1646.4,2098.1 1647.4,2080.0 1648.4,2082.9 1649.4,2091.3 1650.4,2088.4 1651.4,2082.2 1652.4,2084.3 1653.4,2086.8 1654.4,2080.4 1655.4,2084.5 1656.4,2072.9 1657.4,2079.5 1658.4,2067.0 1659.4,2072.0 1660.4,2070.1 1661.4,2086.9 1662.4,2074.7 1663.4,2080.2 1664.4,2071.9 1665.4,2077.4 1666.4,2077.5 1667.4,2074.2 1668.4,2087.2 1669.4,2070.3 1670.4,2087.7 1671.4,2103.4 1672.4,2080.0 1673.4,2087.5 1674.4,2077.7 1675.4,2090.1 1676.4,2079.6 1677.4,2098.0 1678.4,2091.8 1679.4,2083.8 1680.4,2089.5 1681.4,2089.2 1682.4,2100.2 1683.4,2110.0 1684.4,2102.9 1685.4,2099.0 1686.4,2103.1 1687.4,2111.5 1688.4,2094.9 1689.4,2117.9 1690.4,2118.0 1691.4,2099.0 1692.4,2126.3 1693.4,2107.6 1694.4,2119.1 1695.4,2130.5 1696.4,2111.9 1697.4,2111.9 1698.4,2118.6 1699.4,2120.4 1700.4,2128.6 1701.4,2127.4 1702.4,2129.1 1703.4,2130.7 1704.4,2134.4 1705.4,2131.1 1706.4,2141.0 1707.4,2140.1 1708.4,2134.3 1709.4,2156.0 1710.4,2135.3 1711.4,2151.1 1712.4,2141.8 1713.4,2151.0 1714.4,2153.5 1715.4,2157.1 1716.4,2162.3 1717.4,2147.3 1718.4,2174.9 1719.4,2158.4 1720.4,2150.7 1721.4,2147.8 1722.4,2175.2 1723.4,2171.1 1724.4,2160.2 1725.4,2166.6 1726.4,2171.5 1727.4,2163.6 1728.4,2160.7 1729.4,2164.3 1730.4,2171.4 1731.4,2166.4 1732.4,2158.2 1733.4,2173.1 1734.4,2156.1 1735.4,2163.9 1736.4,2178.8 1737.4,2172.4 1738.4,2173.1 1739.4,2172.9 1740.4,2180.3 1741.4,2173.3 1742.4,2160.4 1743.4,2176.8 1744.4,2153.8 1745.4,2161.8 1746.4,2188.6 1747.4,2185.4 1748.4,2175.4 1749.4,2179.0 1750.4,2181.0 1751.4,2188.4 1752.4,2176.6 1753.4,2176.7 1754.4,2179.4 1755.4,2185.8 1756.4,2187.6 1757.4,2183.9 1758.4,2193.1 1759.4,2181.2 1760.4,2188.9 1761.4,2185.4 1762.4,2184.0 1763.4,2200.8 1764.4,2190.5 1765.4,2186.4 1766.4,2194.6 1767.4,2187.8 1768.4,2199.8 1769.4,2202.2 1770.4,2204.0 1771.4,2189.5 1772.4,2196.3 1773.4,2210.9 1774.4,2196.3 1775.4,2207.0 1776.4,2208.9 1777.4,2188.1 1778.4,2206.5 1779.4,2203.0 1780.4,2203.6 1781.4,2209.1 1782.4,2199.9 1783.4,2196.7 1784.4,2200.0 1785.4,2192.7 1786.4,2198.1 1787.4,2179.5 1788.4,2205.6 1789.4,2188.7 1790.4,2195.6 1791.4,2193.2 1792.4,2190.9 1793.4,2190.1 1794.4,2188.6 1795.4,2175.0 1796.4,2181.0 1797.4,2191.4 1798.4,2173.3 1799.4,2170.6 1800.4,2190.5 1801.4,2181.2 1802.4,2180.7 1803.4,2166.3 1804.4,2165.1 1805.4,2165.3 1806.4,2160.6 1807.4,2152.6 1808.4,2139.4 1809.4,2141.3 1810.4,2132.6 1811.4,2151.1 1812.4,2133.3 1813.4,2130.8 1814.4,2129.9 1815.4,2123.6 1816.4,2122.7 1817.4,2109.9 1818.4,2098.9 1819.4,2117.7 1820.4,2095.6 1821.4,2092.9 1822.4,2086.4 1823.4,2084.2 1824.4,2084.5 1825.4,2086.3 1826.4,2070.4 1827.4,2077.3 1828.4,2068.0 1829.4,2078.8 1830.4,2059.0 1831.4,2066.0 1832.4,2067.9 1833.4,2050.8 1834.4,2059.0 1835.4,2057.1 1836.4,2048.3 1837.4,2050.6 1838.4,2057.5 1839.4,2050.7 1840.4,2044.7 1841.4,2045.1 1842.4,2049.0 1843.4,2054.4 1844.4,2050.8 1845.4,2050.7 1846.4,2057.5 1847.4,2037.0 1848.4,2039.7 1849.4,2036.2 1850.4,2060.9 1851.4,2041.9 1852.4,2061.1 1853.4,2070.2 1854.4,2058.6 1855.4,2067.5 1856.4,2074.0 1857.4,2084.7 1858.4,2072.3 1859.4,2088.6 1860.4,2094.4 1861.4,2093.3 1862.4,2096.1 1863.4,2106.6 1864.4,2102.2 1865.4,2103.4 1866.4,2104.2 1867.4,2114.2 1868.4,2110.6 1869.4,2120.3 1870.4,2119.4 1871.4,2129.7 1872.4,2119.1 1873.4,2128.1 1874.4,2132.8 1875.4,2135.9 1876.4,2143.5 1877.4,2140.7 1878.4,2146.5 1879.4,2156.0 1880.4,2150.0 1881.4,2138.3 1882.4,2137.2 1883.4,2153.1 1884.4,2146.6 1885.4,2152.2 1886.4,2149.7 1887.4,2160.9 1888.4,2160.9 1889.4,2145.3 1890.4,2155.9 1891.4,2152.5 1892.4,2146.1 1893.4,2160.5 1894.4,2155.5 1895.4,2160.2 1896.4,2175.0 1897.4,2167.4 1898.4,2166.3 1899.4,2156.1 1900.4,2151.0 1901.4,2168.4 1902.4,2157.8 1903.4,2160.5 1904.4,2157.7 1905.4,2161.1 1906.4,2177.4 1907.4,2158.3 1908.4,2158.4 1909.4,2161.6 1910.4,2161.9 1911.4,2151.1 1912.4,2146.6 1913.4,2154.4 1914.4,2156.4 1915.4,2151.7 1916.4,2149.4 1917.4,2149.0 1918.4,2152.0 1919.4,2153.0 1920.4,2141.4 1921.4,2148.0 1922.4,2153.4 1923.4,2149.0 1924.4,2139.3 1925.4,2145.2 1926.4,2146.5 1927.4,2150.9 1928.4,2133.1 1929.4,2148.2 1930.4,2139.1 1931.4,2142.7 1932.4,2145.1 1933.4,2133.2 1934.4,2132.7 1935.4,2136.7 1936.4,2141.7 1937.4,2132.0 1938.4,2125.2 1939.4,2129.5 1940.4,2136.4 1941.4,2141.3 1942.4,2129.2 1943.4,2130.1 1944.4,2130.8 1945.4,2130.9 1946.4,2125.1 1947.4,2128.6 1948.4,2133.2 1949.4,2132.5 1950.4,2132.0 1951.4,2124.9 1952.4,2128.1 1953.4,2127.1 1954.4,2139.5 1955.4,2142.5 1956.4,2134.9 1957.4,2143.8 1958.4,2130.8 1959.4,2131.0 1960.4,2124.2 1961.4,2135.1 1962.4,2130.5 1963.4,2134.6 1964.4,2137.6 1965.4,2132.8 1966.4,2126.9 1967.4,2134.7 1968.4,2134.8 1969.4,2135.8 1970.4,2140.6 1971.4,2134.8 1972.4,2134.7 1973.4,2148.9 1974.4,2144.7 1975.4,2137.0 1976.4,2131.5 1977.4,2135.5 1978.4,2141.8 1979.4,2145.8 1980.4,2157.4 1981.4,2139.9 1982.4,2143.6 1983.4,2141.2 1984.4,2145.3 1985.4,2143.3 1986.4,2139.7 1987.4,2155.5 1988.4,2150.6 1989.4,2160.0 1990.4,2149.0 1991.4,2155.8 1992.4,2160.0 1993.4,2143.9 1994.4,2149.2 1995.4,2165.1 1996.4,2162.1 1997.4,2150.2 1998.4,2159.3 1999.4,2158.6 2000.4,2164.0 2001.4,2179.4 2002.4,2166.2 2003.4,2185.6 2004.4,2171.2 2005.4,2169.4 2006.4,2186.9 2007.4,2184.4 2008.4,2189.2 2009.4,2195.1 2010.4,2190.9 2011.4,2194.0 2012.4,2175.7 2013.4,2183.9 2014.4,2194.6 2015.4,2194.9 2016.4,2200.4 2017.4,2193.9 2018.4,2206.5 2019.4,2214.4 2020.4,2205.9 2021.4,2208.9 2022.4,2207.7 2023.4,2211.5 2024.4,2207.2 2025.4,2202.7 2026.4,2207.7 2027.4,2207.1 2028.4,2195.8 2029.4,2208.0 2030.4,2206.5 2031.4,2207.8 2032.4,2202.5 2033.4,2209.7 2034.4,2210.7 2035.4,2201.4 2036.4,2208.6 2037.4,2211.7 2038.4,2211.5 2039.4,2199.9 2040.4,2199.2 2041.4,2206.5 2042.4,2199.0 2043.4,2223.5 2044.4,2200.6 2045.4,2200.7 2046.4,2210.6 2047.4,2202.9 2048.4,2189.9 2049.4,2205.1 2050.4,2199.2 2051.4,2202.4 2052.4,2194.8 2053.4,2199.7 2054.4,2204.8 2055.4,2205.3 2056.4,2198.1 2057.4,2200.9 2058.4,2199.9 2059.4,2206.7 2060.4,2204.7 2061.4,2197.1 2062.4,2210.1 2063.4,2200.9 2064.4,2208.4 2065.4,2199.4 2066.4,2207.8 2067.4,2204.9 2068.4,2206.1 2069.4,2209.2 2070.4,2208.8 2071.4,2207.0 2072.4,2207.0 2073.4,2197.1 2074.4,2205.5 2075.4,2190.9 2076.4,2190.6 2077.4,2204.0 2078.4,2204.7 2079.4,2216.6 2080.4,2211.0 2081.4,2214.1 2082.4,2204.4 2083.4,2209.7 2084.4,2214.7 2085.4,2210.5 2086.4,2209.4 2087.4,2207.7 2088.4,2200.8 2089.4,2201.1 2090.4,2197.5 2091.4,2210.3 2092.4,2205.7 2093.4,2203.1 2094.4,2210.3 2095.4,2204.0 2096.4,2215.3 2097.4,2221.4 2098.4,2211.5 2099.4,2203.8 2100.4,2198.3 2101.4,2222.7 2102.4,2212.1 2103.4,2201.0 2104.4,2216.7 2105.4,2197.9 2106.4,2206.5 2107.4,2208.0 2108.4,2207.3 2109.4,2202.1 2110.4,2226.7 2111.4,2207.6 2112.4,2213.1 2113.4,2210.9 2114.4,2199.7 2115.4,2207.2 2116.4,2212.6 2117.4,2217.8 2118.4,2209.1 2119.4,2214.2 2120.4,2209.5 2121.4,2216.1 2122.4,2195.0 2123.4,2216.5 2124.4,2208.2 2125.4,2208.7 2126.4,2193.2 2127.4,2205.7 2128.4,2217.6 2129.4,2229.5 2130.4,2208.8 2131.4,2209.3 2132.4,2217.5 2133.4,2216.3 2134.4,2210.4" fill="none" stroke="#000" stroke-width="4.2" stroke-linejoin="round" stroke-linecap="round"/>
<text x="1166" y="1681" font-size="72" class="serif" fill="#111">(f)</text>
<text x="1779.5" y="2384" font-size="26" text-anchor="middle" textLength="118" lengthAdjust="spacingAndGlyphs" fill="#1e1e1e">B.E. (eV)</text>
<text transform="translate(1235.5,2015.9) rotate(-90)" font-size="26" text-anchor="middle" textLength="183" lengthAdjust="spacingAndGlyphs" fill="#1e1e1e">Intensity (a.u.)</text>
<line x1="1978" y1="1756.8" x2="2046.5" y2="1756.8" stroke="#222" stroke-width="3.6"/>
<text x="2052.8" y="1766" font-size="27" textLength="78.8" lengthAdjust="spacingAndGlyphs" fill="#1e1e1e">Co 2p</text>
<text x="1532.7" y="1768.5" font-size="28" textLength="31.3" lengthAdjust="spacingAndGlyphs" fill="#1e1e1e">2p</text>
<text x="1565.5" y="1779.5" font-size="18" textLength="25.6" lengthAdjust="spacingAndGlyphs" fill="#1e1e1e">3/2</text>
<text x="1516.3" y="1813.4" font-size="29" textLength="92.6" lengthAdjust="spacingAndGlyphs" fill="#1e1e1e">781 eV</text>
<text x="1824.1" y="1958.1" font-size="28" textLength="31" lengthAdjust="spacingAndGlyphs" fill="#1e1e1e">2p</text>
<text x="1858" y="1969.5" font-size="18" textLength="23.3" lengthAdjust="spacingAndGlyphs" fill="#1e1e1e">1/2</text>
<text x="1791.4" y="2003.1" font-size="29" textLength="118.1" lengthAdjust="spacingAndGlyphs" fill="#1e1e1e">796.8 eV</text>
</svg></body></html>
